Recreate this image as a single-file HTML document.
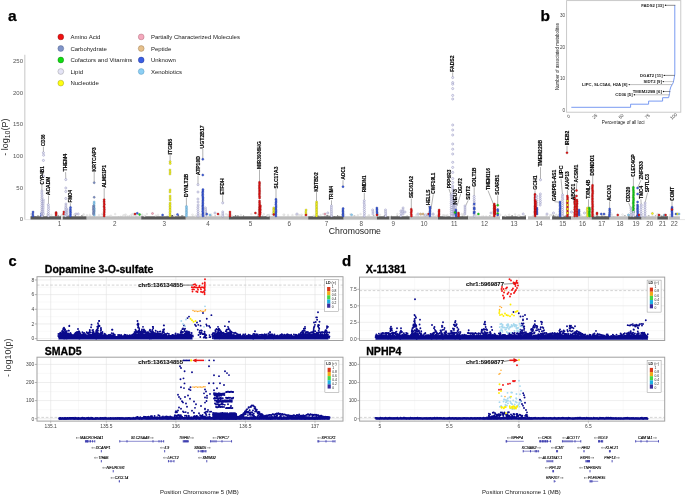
<!DOCTYPE html>
<html><head><meta charset="utf-8"><style>
html,body{margin:0;padding:0;background:#fff;width:685px;height:496px;overflow:hidden}
svg{display:block;will-change:transform;font-family:"Liberation Sans",sans-serif}

.A{fill:#f01010;stroke:#7a0a0a;stroke-width:.35}
.C{fill:#8094c8;stroke:#45557e;stroke-width:.35}
.V{fill:#10dd10;stroke:#0a6a0a;stroke-width:.35}
.L{fill:#f3f3fc;stroke:#7272aa;stroke-width:.4}
.N{fill:#ffff10;stroke:#8a8a10;stroke-width:.35}
.P{fill:#f4a8bc;stroke:#a05a6a;stroke-width:.35}
.E{fill:#e6c08c;stroke:#8a6a40;stroke-width:.35}
.U{fill:#3a5ee4;stroke:#1a2a80;stroke-width:.35}
.X{fill:#8ccff4;stroke:#4a88b0;stroke-width:.35}
.g{fill:#f0f0f0;stroke:#c4c4c4;stroke-width:.25}

</style></head><body>
<svg width="685" height="496" viewBox="0 0 685 496">
<rect width="685" height="496" fill="#fff"/>
<text x="8" y="21.2" font-size="15.5" font-weight="bold"  fill="#000" stroke="#000" stroke-width="0.25">a</text>
<line x1="24.8" y1="54.8" x2="24.8" y2="219.5" stroke="#d0d0d0" stroke-width="1.2"/>
<line x1="24.5" y1="219.6" x2="685" y2="219.6" stroke="#d4d4d4" stroke-width="0.6"/>
<text x="23" y="221.1" font-size="6"  fill="#555" text-anchor="end">0</text>
<text x="23" y="189.55" font-size="6"  fill="#555" text-anchor="end">50</text>
<text x="23" y="158" font-size="6"  fill="#555" text-anchor="end">100</text>
<text x="23" y="126.45" font-size="6"  fill="#555" text-anchor="end">150</text>
<text x="23" y="94.9" font-size="6"  fill="#555" text-anchor="end">200</text>
<text x="23" y="63.35" font-size="6"  fill="#555" text-anchor="end">250</text>
<text transform="translate(8.4,137.2) rotate(-90)" font-size="9"  fill="#1a1a1a" text-anchor="middle">- log<tspan font-size="7" dy="2">10</tspan><tspan dy="-2">(P)</tspan></text>
<rect x="30.5" y="216.3" width="30.7" height="3.2" fill="#585858"/>
<rect x="31" y="215.8" width="1.12" height="0.6" fill="#585858"/>
<rect x="32.52" y="216" width="1.91" height="0.4" fill="#585858"/>
<rect x="34.87" y="216" width="1.41" height="0.4" fill="#585858"/>
<rect x="37.5" y="215.3" width="0.99" height="1.1" fill="#585858"/>
<rect x="42.98" y="215.3" width="0.7" height="1.1" fill="#585858"/>
<rect x="46.13" y="215.8" width="0.67" height="0.6" fill="#585858"/>
<rect x="55.03" y="215.3" width="1.39" height="1.1" fill="#585858"/>
<rect x="57.42" y="215.5" width="1.54" height="0.9" fill="#585858"/>
<rect x="59.8" y="215.8" width="0.89" height="0.6" fill="#585858"/>
<rect x="62.6" y="216.3" width="24.1" height="3.2" fill="#585858"/>
<rect x="65.43" y="216" width="2.17" height="0.4" fill="#585858"/>
<rect x="68.26" y="215.5" width="1.15" height="0.9" fill="#585858"/>
<rect x="74.77" y="215" width="1.1" height="1.4" fill="#585858"/>
<rect x="81.52" y="215" width="1.36" height="1.4" fill="#585858"/>
<rect x="86.7" y="216.3" width="54.5" height="3.2" fill="#bcbcbc"/>
<rect x="89.32" y="215.7" width="2.11" height="0.7" fill="#bcbcbc"/>
<rect x="91.98" y="215.7" width="0.69" height="0.7" fill="#bcbcbc"/>
<rect x="93.52" y="215.5" width="1.23" height="0.9" fill="#bcbcbc"/>
<rect x="102.56" y="215.8" width="1.21" height="0.6" fill="#bcbcbc"/>
<rect x="104.46" y="215.8" width="0.97" height="0.6" fill="#bcbcbc"/>
<rect x="107.56" y="215.7" width="0.89" height="0.7" fill="#bcbcbc"/>
<rect x="109.67" y="215.3" width="1.19" height="1.1" fill="#bcbcbc"/>
<rect x="117.83" y="216" width="1.24" height="0.4" fill="#bcbcbc"/>
<rect x="120.25" y="215.8" width="0.9" height="0.6" fill="#bcbcbc"/>
<rect x="121.7" y="216" width="1.56" height="0.4" fill="#bcbcbc"/>
<rect x="125.11" y="215.5" width="0.93" height="0.9" fill="#bcbcbc"/>
<rect x="126.9" y="215.7" width="1.16" height="0.7" fill="#bcbcbc"/>
<rect x="128.61" y="215.5" width="1.38" height="0.9" fill="#bcbcbc"/>
<rect x="130.98" y="215" width="0.83" height="1.4" fill="#bcbcbc"/>
<rect x="132.69" y="215.8" width="1.93" height="0.6" fill="#bcbcbc"/>
<rect x="135.37" y="215.7" width="2.12" height="0.7" fill="#bcbcbc"/>
<rect x="138.98" y="215.3" width="0.64" height="1.1" fill="#bcbcbc"/>
<rect x="141.2" y="216.3" width="44.6" height="3.2" fill="#585858"/>
<rect x="141.7" y="215.7" width="0.75" height="0.7" fill="#585858"/>
<rect x="144.74" y="215.8" width="1.17" height="0.6" fill="#585858"/>
<rect x="155" y="215.8" width="1.78" height="0.6" fill="#585858"/>
<rect x="166.67" y="215.8" width="0.95" height="0.6" fill="#585858"/>
<rect x="171.4" y="215" width="1.64" height="1.4" fill="#585858"/>
<rect x="178.2" y="215" width="0.89" height="1.4" fill="#585858"/>
<rect x="181.15" y="215.5" width="2.15" height="0.9" fill="#585858"/>
<rect x="185.8" y="216.3" width="43.1" height="3.2" fill="#bcbcbc"/>
<rect x="186.3" y="215.8" width="0.74" height="0.6" fill="#bcbcbc"/>
<rect x="192.07" y="215.8" width="1.48" height="0.6" fill="#bcbcbc"/>
<rect x="195.61" y="216" width="1.76" height="0.4" fill="#bcbcbc"/>
<rect x="201.78" y="215.7" width="1" height="0.7" fill="#bcbcbc"/>
<rect x="204.77" y="215.3" width="1.12" height="1.1" fill="#bcbcbc"/>
<rect x="210.29" y="215.3" width="1.9" height="1.1" fill="#bcbcbc"/>
<rect x="214.51" y="215.3" width="1.4" height="1.1" fill="#bcbcbc"/>
<rect x="221.34" y="215.8" width="0.84" height="0.6" fill="#bcbcbc"/>
<rect x="228.9" y="216.3" width="41" height="3.2" fill="#585858"/>
<rect x="231.72" y="216" width="1.5" height="0.4" fill="#585858"/>
<rect x="234.87" y="215.3" width="1.41" height="1.1" fill="#585858"/>
<rect x="237.19" y="215.5" width="1.41" height="0.9" fill="#585858"/>
<rect x="243.15" y="215.5" width="0.92" height="0.9" fill="#585858"/>
<rect x="256.93" y="215.8" width="1.67" height="0.6" fill="#585858"/>
<rect x="259.84" y="215.7" width="1.42" height="0.7" fill="#585858"/>
<rect x="262.35" y="215.7" width="0.75" height="0.7" fill="#585858"/>
<rect x="264.62" y="216" width="1.3" height="0.4" fill="#585858"/>
<rect x="267.36" y="216" width="1.07" height="0.4" fill="#585858"/>
<rect x="269.9" y="216.3" width="38.3" height="3.2" fill="#bcbcbc"/>
<rect x="270.4" y="216" width="0.97" height="0.4" fill="#bcbcbc"/>
<rect x="272.26" y="215.8" width="2.05" height="0.6" fill="#bcbcbc"/>
<rect x="287.57" y="216" width="1.02" height="0.4" fill="#bcbcbc"/>
<rect x="296.49" y="215.5" width="0.93" height="0.9" fill="#bcbcbc"/>
<rect x="300.99" y="215.5" width="1.36" height="0.9" fill="#bcbcbc"/>
<rect x="304.45" y="215.5" width="1.29" height="0.9" fill="#bcbcbc"/>
<rect x="308.2" y="216.3" width="35.5" height="3.2" fill="#585858"/>
<rect x="317.58" y="215.7" width="1.6" height="0.7" fill="#585858"/>
<rect x="324.5" y="215.7" width="0.9" height="0.7" fill="#585858"/>
<rect x="326.27" y="215.3" width="2.14" height="1.1" fill="#585858"/>
<rect x="328.79" y="215.8" width="2.01" height="0.6" fill="#585858"/>
<rect x="331.1" y="215.5" width="1.21" height="0.9" fill="#585858"/>
<rect x="334.06" y="216" width="1" height="0.4" fill="#585858"/>
<rect x="337.15" y="215.3" width="0.83" height="1.1" fill="#585858"/>
<rect x="338.33" y="215.8" width="1.09" height="0.6" fill="#585858"/>
<rect x="343.7" y="216.3" width="33.2" height="3.2" fill="#bcbcbc"/>
<rect x="353.55" y="215.3" width="1.77" height="1.1" fill="#bcbcbc"/>
<rect x="363.51" y="216" width="0.74" height="0.4" fill="#bcbcbc"/>
<rect x="367.79" y="215" width="1.6" height="1.4" fill="#bcbcbc"/>
<rect x="373.01" y="215" width="1.46" height="1.4" fill="#bcbcbc"/>
<rect x="376.9" y="216.3" width="12.6" height="3.2" fill="#585858"/>
<rect x="383.83" y="215.5" width="1.39" height="0.9" fill="#585858"/>
<rect x="390.5" y="216.3" width="19.3" height="3.2" fill="#585858"/>
<rect x="391" y="215.8" width="0.72" height="0.6" fill="#585858"/>
<rect x="396.71" y="215.5" width="0.95" height="0.9" fill="#585858"/>
<rect x="406.76" y="215.5" width="0.63" height="0.9" fill="#585858"/>
<rect x="409.8" y="216.3" width="28.2" height="3.2" fill="#bcbcbc"/>
<rect x="410.3" y="215.7" width="2.19" height="0.7" fill="#bcbcbc"/>
<rect x="417.51" y="215.7" width="1.44" height="0.7" fill="#bcbcbc"/>
<rect x="423.27" y="215.5" width="2.04" height="0.9" fill="#bcbcbc"/>
<rect x="425.96" y="215" width="2.12" height="1.4" fill="#bcbcbc"/>
<rect x="429.05" y="215.7" width="0.83" height="0.7" fill="#bcbcbc"/>
<rect x="436.79" y="215.7" width="1.06" height="0.7" fill="#bcbcbc"/>
<rect x="438" y="216.3" width="30.2" height="3.2" fill="#585858"/>
<rect x="438.5" y="216" width="1.99" height="0.4" fill="#585858"/>
<rect x="441.73" y="216" width="1.04" height="0.4" fill="#585858"/>
<rect x="445.7" y="215.3" width="1.03" height="1.1" fill="#585858"/>
<rect x="452.66" y="215.3" width="1.61" height="1.1" fill="#585858"/>
<rect x="456.16" y="215" width="0.68" height="1.4" fill="#585858"/>
<rect x="458.49" y="215.7" width="0.82" height="0.7" fill="#585858"/>
<rect x="461.62" y="215.8" width="1.48" height="0.6" fill="#585858"/>
<rect x="466.97" y="215.8" width="1.23" height="0.6" fill="#585858"/>
<rect x="468.2" y="216.3" width="31.8" height="3.2" fill="#bcbcbc"/>
<rect x="473.09" y="215.5" width="1.13" height="0.9" fill="#bcbcbc"/>
<rect x="475.73" y="215.8" width="0.99" height="0.6" fill="#bcbcbc"/>
<rect x="478.95" y="215.5" width="0.63" height="0.9" fill="#bcbcbc"/>
<rect x="481.52" y="215.7" width="0.94" height="0.7" fill="#bcbcbc"/>
<rect x="482.9" y="215.7" width="1.04" height="0.7" fill="#bcbcbc"/>
<rect x="485.35" y="215.8" width="1.61" height="0.6" fill="#bcbcbc"/>
<rect x="489.23" y="215" width="1.22" height="1.4" fill="#bcbcbc"/>
<rect x="492.84" y="216" width="1.96" height="0.4" fill="#bcbcbc"/>
<rect x="502" y="216.3" width="24" height="3.2" fill="#585858"/>
<rect x="505.66" y="216" width="1" height="0.4" fill="#585858"/>
<rect x="511.33" y="215.5" width="1.64" height="0.9" fill="#585858"/>
<rect x="514.98" y="215.8" width="0.6" height="0.6" fill="#585858"/>
<rect x="524.64" y="215.3" width="1.02" height="1.1" fill="#585858"/>
<rect x="528" y="216.3" width="22" height="3.2" fill="#bcbcbc"/>
<rect x="532.41" y="215.5" width="2.01" height="0.9" fill="#bcbcbc"/>
<rect x="545.82" y="215.5" width="1.18" height="0.9" fill="#bcbcbc"/>
<rect x="552.1" y="216.3" width="19" height="3.2" fill="#585858"/>
<rect x="552.6" y="215.3" width="1.78" height="1.1" fill="#585858"/>
<rect x="555.77" y="215.8" width="0.92" height="0.6" fill="#585858"/>
<rect x="557.48" y="215.7" width="1.82" height="0.7" fill="#585858"/>
<rect x="560.97" y="215.8" width="1.58" height="0.6" fill="#585858"/>
<rect x="564.85" y="215.3" width="0.69" height="1.1" fill="#585858"/>
<rect x="566.7" y="215.3" width="0.94" height="1.1" fill="#585858"/>
<rect x="568.06" y="215.5" width="0.7" height="0.9" fill="#585858"/>
<rect x="571.1" y="216.3" width="20.6" height="3.2" fill="#bcbcbc"/>
<rect x="580.11" y="215.7" width="1.2" height="0.7" fill="#bcbcbc"/>
<rect x="581.85" y="216" width="0.73" height="0.4" fill="#bcbcbc"/>
<rect x="584.98" y="215.8" width="0.8" height="0.6" fill="#bcbcbc"/>
<rect x="587.77" y="215.5" width="1.09" height="0.9" fill="#bcbcbc"/>
<rect x="591.7" y="216.3" width="17.8" height="3.2" fill="#585858"/>
<rect x="593.84" y="215.5" width="1.18" height="0.9" fill="#585858"/>
<rect x="596.22" y="215.5" width="1.9" height="0.9" fill="#585858"/>
<rect x="598.5" y="216" width="0.7" height="0.4" fill="#585858"/>
<rect x="601.14" y="215.7" width="2.04" height="0.7" fill="#585858"/>
<rect x="604.22" y="216" width="2.13" height="0.4" fill="#585858"/>
<rect x="608.22" y="215.7" width="1.11" height="0.7" fill="#585858"/>
<rect x="610" y="216.3" width="18.1" height="3.2" fill="#bcbcbc"/>
<rect x="612.5" y="216" width="1.92" height="0.4" fill="#bcbcbc"/>
<rect x="623.87" y="215" width="1.88" height="1.4" fill="#bcbcbc"/>
<rect x="628.1" y="216.3" width="13.5" height="3.2" fill="#585858"/>
<rect x="628.6" y="215.8" width="0.84" height="0.6" fill="#585858"/>
<rect x="630.45" y="215.3" width="1.18" height="1.1" fill="#585858"/>
<rect x="632.36" y="215.8" width="1.8" height="0.6" fill="#585858"/>
<rect x="635.89" y="215.3" width="1.37" height="1.1" fill="#585858"/>
<rect x="639.72" y="216" width="1.88" height="0.4" fill="#585858"/>
<rect x="641.6" y="216.3" width="15.2" height="3.2" fill="#bcbcbc"/>
<rect x="645.29" y="215.8" width="0.88" height="0.6" fill="#bcbcbc"/>
<rect x="647.83" y="215" width="1.68" height="1.4" fill="#bcbcbc"/>
<rect x="651.52" y="215.7" width="1.82" height="0.7" fill="#bcbcbc"/>
<rect x="654.88" y="215" width="1.2" height="1.4" fill="#bcbcbc"/>
<rect x="657.3" y="216.3" width="10.6" height="3.2" fill="#585858"/>
<rect x="657.8" y="215.8" width="0.9" height="0.6" fill="#585858"/>
<rect x="660.94" y="215.7" width="1.53" height="0.7" fill="#585858"/>
<rect x="663.32" y="215.3" width="0.99" height="1.1" fill="#585858"/>
<rect x="666.39" y="216" width="1.51" height="0.4" fill="#585858"/>
<rect x="668.4" y="216.3" width="11.5" height="3.2" fill="#bcbcbc"/>
<rect x="671.2" y="216" width="1.07" height="0.4" fill="#bcbcbc"/>
<text x="59.4" y="225.6" font-size="6.3"  fill="#555" text-anchor="middle">1</text>
<text x="114.7" y="225.6" font-size="6.3"  fill="#555" text-anchor="middle">2</text>
<text x="164.2" y="225.6" font-size="6.3"  fill="#555" text-anchor="middle">3</text>
<text x="208" y="225.6" font-size="6.3"  fill="#555" text-anchor="middle">4</text>
<text x="250.4" y="225.6" font-size="6.3"  fill="#555" text-anchor="middle">5</text>
<text x="289.2" y="225.6" font-size="6.3"  fill="#555" text-anchor="middle">6</text>
<text x="326.4" y="225.6" font-size="6.3"  fill="#555" text-anchor="middle">7</text>
<text x="361.2" y="225.6" font-size="6.3"  fill="#555" text-anchor="middle">8</text>
<text x="393.3" y="225.6" font-size="6.3"  fill="#555" text-anchor="middle">9</text>
<text x="423.9" y="225.6" font-size="6.3"  fill="#555" text-anchor="middle">10</text>
<text x="454.3" y="225.6" font-size="6.3"  fill="#555" text-anchor="middle">11</text>
<text x="484.5" y="225.6" font-size="6.3"  fill="#555" text-anchor="middle">12</text>
<text x="514" y="225.6" font-size="6.3"  fill="#555" text-anchor="middle">13</text>
<text x="539.1" y="225.6" font-size="6.3"  fill="#555" text-anchor="middle">14</text>
<text x="562.8" y="225.6" font-size="6.3"  fill="#555" text-anchor="middle">15</text>
<text x="582.5" y="225.6" font-size="6.3"  fill="#555" text-anchor="middle">16</text>
<text x="601.8" y="225.6" font-size="6.3"  fill="#555" text-anchor="middle">17</text>
<text x="620" y="225.6" font-size="6.3"  fill="#555" text-anchor="middle">18</text>
<text x="636.1" y="225.6" font-size="6.3"  fill="#555" text-anchor="middle">19</text>
<text x="649.7" y="225.6" font-size="6.3"  fill="#555" text-anchor="middle">20</text>
<text x="662.4" y="225.6" font-size="6.3"  fill="#555" text-anchor="middle">21</text>
<text x="674.3" y="225.6" font-size="6.3"  fill="#555" text-anchor="middle">22</text>
<text x="354.9" y="234.3" font-size="8.7"  fill="#222" text-anchor="middle">Chromosome</text>
<circle cx="60.8" cy="36.9" r="2.9" fill="#f01010" stroke="#7a0a0a" stroke-width="0.4"/>
<text x="70.4" y="39" font-size="6"  fill="#1a1a1a">Amino Acid</text>
<circle cx="60.8" cy="48.5" r="2.9" fill="#8094c8" stroke="#45557e" stroke-width="0.4"/>
<text x="70.4" y="50.6" font-size="6"  fill="#1a1a1a">Carbohydrate</text>
<circle cx="60.8" cy="60" r="2.9" fill="#10dd10" stroke="#0a6a0a" stroke-width="0.4"/>
<text x="70.4" y="62.1" font-size="6"  fill="#1a1a1a">Cofactors and Vitamins</text>
<circle cx="60.8" cy="71.5" r="2.9" fill="#e4e4f6" stroke="#888" stroke-width="0.4"/>
<text x="70.4" y="73.6" font-size="6"  fill="#1a1a1a">Lipid</text>
<circle cx="60.8" cy="83.1" r="2.9" fill="#ffff10" stroke="#8a8a10" stroke-width="0.4"/>
<text x="70.4" y="85.2" font-size="6"  fill="#1a1a1a">Nucleotide</text>
<circle cx="141.2" cy="36.9" r="2.9" fill="#f4a8bc" stroke="#a05a6a" stroke-width="0.4"/>
<text x="150.9" y="39" font-size="6"  fill="#1a1a1a">Partially Characterized Molecules</text>
<circle cx="141.2" cy="48.5" r="2.9" fill="#e6c08c" stroke="#8a6a40" stroke-width="0.4"/>
<text x="150.9" y="50.6" font-size="6"  fill="#1a1a1a">Peptide</text>
<circle cx="141.2" cy="60" r="2.9" fill="#3a5ee4" stroke="#1a2a80" stroke-width="0.4"/>
<text x="150.9" y="62.1" font-size="6"  fill="#1a1a1a">Unknown</text>
<circle cx="141.2" cy="71.5" r="2.9" fill="#8ccff4" stroke="#4a88b0" stroke-width="0.4"/>
<text x="150.9" y="73.6" font-size="6"  fill="#1a1a1a">Xenobiotics</text>
<circle class="g" cx="461.76" cy="214.01" r="0.9"/>
<circle class="g" cx="444.07" cy="215.28" r="0.9"/>
<circle class="g" cx="257.61" cy="214.07" r="0.9"/>
<circle class="g" cx="251.33" cy="214.08" r="0.9"/>
<circle class="g" cx="678.92" cy="214.07" r="0.9"/>
<circle class="g" cx="505.48" cy="215.65" r="0.9"/>
<circle class="g" cx="558.95" cy="215.47" r="0.9"/>
<circle class="g" cx="296.03" cy="214.67" r="0.9"/>
<circle class="g" cx="433.42" cy="214.14" r="0.9"/>
<circle class="g" cx="51.39" cy="214.89" r="0.9"/>
<circle class="g" cx="344.31" cy="214.73" r="0.9"/>
<circle class="g" cx="546.71" cy="215.2" r="0.9"/>
<circle class="g" cx="131.15" cy="214.96" r="0.9"/>
<circle class="g" cx="454.18" cy="214.72" r="0.9"/>
<circle class="g" cx="206.72" cy="215.78" r="0.9"/>
<circle class="g" cx="463.74" cy="214.75" r="0.9"/>
<circle class="g" cx="64.28" cy="215.34" r="0.9"/>
<circle class="g" cx="603.63" cy="214.75" r="0.9"/>
<circle class="g" cx="42.8" cy="215.38" r="0.9"/>
<circle class="g" cx="550.84" cy="215.16" r="0.9"/>
<circle class="g" cx="284.19" cy="214.73" r="0.9"/>
<circle class="g" cx="641.41" cy="214.78" r="0.9"/>
<circle class="g" cx="132.46" cy="214.2" r="0.9"/>
<circle class="g" cx="89.64" cy="215.04" r="0.9"/>
<circle class="g" cx="267.34" cy="215.39" r="0.9"/>
<circle class="g" cx="115.22" cy="214.09" r="0.9"/>
<circle class="g" cx="123.34" cy="215.45" r="0.9"/>
<circle class="g" cx="288.07" cy="215.03" r="0.9"/>
<circle class="g" cx="631.84" cy="215.33" r="0.9"/>
<circle class="g" cx="142.25" cy="214.63" r="0.9"/>
<circle class="g" cx="135.86" cy="214.31" r="0.9"/>
<circle class="g" cx="74.48" cy="214.69" r="0.9"/>
<circle class="g" cx="519.3" cy="215.43" r="0.9"/>
<circle class="g" cx="552.45" cy="214.54" r="0.9"/>
<circle class="g" cx="573.57" cy="214.08" r="0.9"/>
<circle class="g" cx="622.49" cy="214.57" r="0.9"/>
<circle class="g" cx="424.75" cy="215.15" r="0.9"/>
<circle class="g" cx="86.92" cy="215.28" r="0.9"/>
<circle class="g" cx="476.96" cy="215.6" r="0.9"/>
<circle class="g" cx="445.93" cy="215.54" r="0.9"/>
<circle class="g" cx="433.44" cy="215.11" r="0.9"/>
<circle class="g" cx="158.08" cy="214.85" r="0.9"/>
<circle class="g" cx="397.4" cy="214.08" r="0.9"/>
<circle class="g" cx="639.18" cy="214.28" r="0.9"/>
<circle class="g" cx="263.77" cy="214.27" r="0.9"/>
<circle class="g" cx="660.01" cy="215.47" r="0.9"/>
<circle class="g" cx="155.8" cy="215.59" r="0.9"/>
<circle class="g" cx="576.93" cy="215.21" r="0.9"/>
<circle class="g" cx="463.8" cy="214.58" r="0.9"/>
<circle class="g" cx="283.61" cy="214.82" r="0.9"/>
<circle class="g" cx="581.16" cy="215.4" r="0.9"/>
<circle class="g" cx="451.57" cy="214.55" r="0.9"/>
<circle class="g" cx="192.52" cy="214.7" r="0.9"/>
<circle class="g" cx="269.11" cy="214.91" r="0.9"/>
<circle class="g" cx="146.84" cy="214.01" r="0.9"/>
<circle class="g" cx="670.02" cy="214.84" r="0.9"/>
<circle class="g" cx="320.54" cy="215.11" r="0.9"/>
<circle class="g" cx="561.69" cy="215.51" r="0.9"/>
<circle class="g" cx="556.22" cy="214.72" r="0.9"/>
<circle class="g" cx="74.49" cy="214.65" r="0.9"/>
<circle class="g" cx="267.74" cy="215.44" r="0.9"/>
<circle class="g" cx="357.81" cy="215.18" r="0.9"/>
<circle class="g" cx="57.34" cy="214.23" r="0.9"/>
<circle class="g" cx="628.54" cy="214.56" r="0.9"/>
<circle class="g" cx="497.81" cy="214.14" r="0.9"/>
<circle class="g" cx="518.33" cy="215.61" r="0.9"/>
<circle class="g" cx="453.98" cy="215.41" r="0.9"/>
<circle class="g" cx="47.76" cy="214.12" r="0.9"/>
<circle class="g" cx="428.95" cy="215.25" r="0.9"/>
<circle class="g" cx="102.01" cy="214.24" r="0.9"/>
<circle class="g" cx="604.93" cy="214.52" r="0.9"/>
<circle class="g" cx="556.52" cy="215.43" r="0.9"/>
<circle class="g" cx="475.61" cy="215.3" r="0.9"/>
<circle class="g" cx="174.29" cy="215.5" r="0.9"/>
<circle class="g" cx="426.57" cy="214.45" r="0.9"/>
<circle class="g" cx="240.85" cy="215.1" r="0.9"/>
<circle class="g" cx="617.48" cy="214.82" r="0.9"/>
<circle class="g" cx="195.7" cy="215.74" r="0.9"/>
<circle class="g" cx="342.11" cy="215.07" r="0.9"/>
<circle class="g" cx="430.08" cy="214.43" r="0.9"/>
<circle class="g" cx="272.23" cy="214.36" r="0.9"/>
<circle class="g" cx="292.45" cy="215.15" r="0.9"/>
<circle class="g" cx="211.27" cy="214.59" r="0.9"/>
<circle class="g" cx="275.19" cy="215.43" r="0.9"/>
<circle class="g" cx="202.29" cy="215.38" r="0.9"/>
<circle class="g" cx="62.47" cy="215.54" r="0.9"/>
<circle class="g" cx="657.07" cy="214.82" r="0.9"/>
<circle class="g" cx="368.9" cy="215.24" r="0.9"/>
<circle class="g" cx="611.67" cy="214.45" r="0.9"/>
<circle class="g" cx="378.13" cy="215.54" r="0.9"/>
<circle class="g" cx="509.17" cy="214.67" r="0.9"/>
<circle class="g" cx="274.48" cy="214.66" r="0.9"/>
<circle class="g" cx="125.73" cy="214.6" r="0.9"/>
<circle class="g" cx="83.74" cy="214.41" r="0.9"/>
<circle class="g" cx="429.76" cy="215.72" r="0.9"/>
<circle class="g" cx="223.06" cy="214.93" r="0.9"/>
<circle class="g" cx="231.93" cy="215.74" r="0.9"/>
<circle class="g" cx="594.95" cy="215.67" r="0.9"/>
<circle class="g" cx="611.43" cy="215.32" r="0.9"/>
<circle class="g" cx="515.13" cy="214.4" r="0.9"/>
<circle class="g" cx="219.55" cy="215.13" r="0.9"/>
<circle class="g" cx="301.66" cy="214.66" r="0.9"/>
<circle class="g" cx="61.96" cy="214.88" r="0.9"/>
<circle class="g" cx="427.91" cy="214.08" r="0.9"/>
<circle class="g" cx="66.25" cy="215.02" r="0.9"/>
<circle class="g" cx="227.82" cy="214.94" r="0.9"/>
<circle class="g" cx="377.11" cy="214.74" r="0.9"/>
<circle class="g" cx="226.15" cy="214.24" r="0.9"/>
<circle class="g" cx="268.32" cy="215.49" r="0.9"/>
<circle class="g" cx="133.79" cy="214.03" r="0.9"/>
<circle class="g" cx="550.37" cy="215.27" r="0.9"/>
<circle class="g" cx="323.15" cy="214.11" r="0.9"/>
<circle class="g" cx="124.76" cy="215.2" r="0.9"/>
<circle class="g" cx="205.8" cy="215.46" r="0.9"/>
<circle class="g" cx="657.7" cy="214.1" r="0.9"/>
<circle class="g" cx="562.93" cy="215.61" r="0.9"/>
<circle class="g" cx="416.38" cy="215.04" r="0.9"/>
<circle class="g" cx="421.02" cy="214.93" r="0.9"/>
<circle class="g" cx="350.37" cy="214.3" r="0.9"/>
<circle class="g" cx="31.26" cy="214.11" r="0.9"/>
<circle class="g" cx="47.35" cy="214.33" r="0.9"/>
<circle class="g" cx="134.17" cy="215.64" r="0.9"/>
<circle class="g" cx="98.99" cy="215.1" r="0.9"/>
<circle class="g" cx="456.61" cy="214.36" r="0.9"/>
<circle class="g" cx="298.74" cy="214.93" r="0.9"/>
<circle class="g" cx="447.47" cy="215.17" r="0.9"/>
<circle class="g" cx="300.08" cy="215.1" r="0.9"/>
<circle class="g" cx="360.56" cy="214.11" r="0.9"/>
<circle class="g" cx="436.62" cy="215.79" r="0.9"/>
<circle class="g" cx="500.35" cy="214.86" r="0.9"/>
<circle class="g" cx="379.89" cy="214.68" r="0.9"/>
<circle class="g" cx="313.95" cy="215.64" r="0.9"/>
<circle class="g" cx="83.15" cy="215.18" r="0.9"/>
<circle class="g" cx="144.65" cy="215.79" r="0.9"/>
<circle class="g" cx="200.4" cy="215.16" r="0.9"/>
<circle class="g" cx="110.88" cy="215.6" r="0.9"/>
<circle class="g" cx="630.52" cy="215.7" r="0.9"/>
<circle class="g" cx="201.62" cy="214.09" r="0.9"/>
<circle class="g" cx="443.04" cy="215.22" r="0.9"/>
<circle class="g" cx="475.36" cy="215.65" r="0.9"/>
<line x1="43.4" y1="146.6" x2="43.4" y2="152.8" stroke="#666" stroke-width="0.5"/>
<line x1="41.9" y1="185" x2="41.9" y2="191" stroke="#666" stroke-width="0.5"/>
<line x1="48.6" y1="195.6" x2="48.4" y2="204.8" stroke="#666" stroke-width="0.5"/>
<line x1="65.6" y1="172.1" x2="65.8" y2="179.6" stroke="#666" stroke-width="0.5"/>
<line x1="70.4" y1="203.2" x2="70.4" y2="207.5" stroke="#666" stroke-width="0.5"/>
<line x1="94.2" y1="172.1" x2="94.2" y2="182.7" stroke="#666" stroke-width="0.5"/>
<line x1="104.2" y1="188.2" x2="104.2" y2="199.7" stroke="#666" stroke-width="0.5"/>
<line x1="170.1" y1="155.1" x2="170.1" y2="161.7" stroke="#666" stroke-width="0.5"/>
<line x1="186.4" y1="197.5" x2="186.4" y2="206.5" stroke="#666" stroke-width="0.5"/>
<line x1="198" y1="175.6" x2="198" y2="184.7" stroke="#666" stroke-width="0.5"/>
<line x1="202.8" y1="149" x2="202.8" y2="159.3" stroke="#666" stroke-width="0.5"/>
<line x1="222.7" y1="195.2" x2="222.7" y2="202.9" stroke="#666" stroke-width="0.5"/>
<line x1="259.5" y1="169.6" x2="259.5" y2="182.3" stroke="#666" stroke-width="0.5"/>
<line x1="276" y1="189" x2="276" y2="199.3" stroke="#666" stroke-width="0.5"/>
<line x1="316.5" y1="192.2" x2="316.5" y2="202" stroke="#666" stroke-width="0.5"/>
<line x1="331.5" y1="200.3" x2="331.5" y2="206" stroke="#666" stroke-width="0.5"/>
<line x1="343" y1="180.2" x2="343" y2="186.7" stroke="#666" stroke-width="0.5"/>
<line x1="364.3" y1="192.9" x2="364.3" y2="200.8" stroke="#666" stroke-width="0.5"/>
<line x1="411.3" y1="198.6" x2="411.3" y2="209.2" stroke="#666" stroke-width="0.5"/>
<line x1="428" y1="205.6" x2="430" y2="209" stroke="#666" stroke-width="0.5"/>
<line x1="433.3" y1="194.3" x2="431" y2="209" stroke="#666" stroke-width="0.5"/>
<line x1="452.7" y1="72.4" x2="452.7" y2="77.2" stroke="#666" stroke-width="0.5"/>
<line x1="448.9" y1="188.8" x2="452" y2="198" stroke="#666" stroke-width="0.5"/>
<line x1="455.1" y1="205" x2="455.5" y2="207" stroke="#666" stroke-width="0.5"/>
<line x1="460.7" y1="193.9" x2="457" y2="206" stroke="#666" stroke-width="0.5"/>
<line x1="468.2" y1="200.4" x2="465" y2="207" stroke="#666" stroke-width="0.5"/>
<line x1="474.2" y1="187.4" x2="474.2" y2="196.5" stroke="#666" stroke-width="0.5"/>
<line x1="488" y1="190.6" x2="493.8" y2="205" stroke="#666" stroke-width="0.5"/>
<line x1="497.7" y1="195.4" x2="497.7" y2="205.3" stroke="#666" stroke-width="0.5"/>
<line x1="535" y1="190.4" x2="535" y2="194.3" stroke="#666" stroke-width="0.5"/>
<line x1="540.5" y1="167.1" x2="540.5" y2="179.8" stroke="#666" stroke-width="0.5"/>
<line x1="567" y1="145.9" x2="567" y2="152.8" stroke="#666" stroke-width="0.5"/>
<line x1="554.4" y1="201.7" x2="560.1" y2="202.3" stroke="#666" stroke-width="0.5"/>
<line x1="561" y1="178.7" x2="562.5" y2="195" stroke="#666" stroke-width="0.5"/>
<line x1="567.4" y1="190.2" x2="567.5" y2="195.7" stroke="#666" stroke-width="0.5"/>
<line x1="573.4" y1="200.5" x2="574.5" y2="205" stroke="#666" stroke-width="0.5"/>
<line x1="576.7" y1="183" x2="576.5" y2="190.2" stroke="#666" stroke-width="0.5"/>
<line x1="588.5" y1="199.3" x2="588.5" y2="207.8" stroke="#666" stroke-width="0.5"/>
<line x1="592.7" y1="176" x2="592.7" y2="185.3" stroke="#666" stroke-width="0.5"/>
<line x1="609.6" y1="201.4" x2="609.6" y2="209.2" stroke="#666" stroke-width="0.5"/>
<line x1="628.7" y1="202.8" x2="631" y2="209" stroke="#666" stroke-width="0.5"/>
<line x1="633.4" y1="177.4" x2="633.4" y2="187.4" stroke="#666" stroke-width="0.5"/>
<line x1="640.9" y1="180.2" x2="637.6" y2="188" stroke="#666" stroke-width="0.5"/>
<line x1="640.9" y1="199.3" x2="641.2" y2="205" stroke="#666" stroke-width="0.5"/>
<line x1="647.5" y1="192.9" x2="645" y2="203" stroke="#666" stroke-width="0.5"/>
<line x1="672" y1="201.4" x2="672" y2="207.2" stroke="#666" stroke-width="0.5"/>
<circle class="U" cx="33.04" cy="212" r="1.05"/>
<circle class="U" cx="32.84" cy="214" r="1.05"/>
<circle class="U" cx="33.03" cy="216" r="1.05"/>
<circle class="U" cx="41.62" cy="213.5" r="1.05"/>
<circle class="U" cx="41.38" cy="215.5" r="1.05"/>
<circle class="L" cx="43.4" cy="152.8" r="1.05"/>
<circle class="L" cx="43.6" cy="155.2" r="1.05"/>
<circle class="L" cx="43.4" cy="160.4" r="1.05"/>
<circle class="L" cx="41.9" cy="191" r="1.05"/>
<circle class="L" cx="41.8" cy="193.08" r="1.05"/>
<circle class="L" cx="42.02" cy="195.17" r="1.05"/>
<circle class="L" cx="42" cy="197.25" r="1.05"/>
<circle class="L" cx="41.81" cy="199.33" r="1.05"/>
<circle class="L" cx="41.8" cy="201.42" r="1.05"/>
<circle class="L" cx="42.02" cy="203.5" r="1.05"/>
<circle class="L" cx="41.81" cy="205.58" r="1.05"/>
<circle class="L" cx="41.87" cy="207.67" r="1.05"/>
<circle class="L" cx="41.93" cy="209.75" r="1.05"/>
<circle class="L" cx="41.86" cy="211.83" r="1.05"/>
<circle class="L" cx="42.01" cy="213.92" r="1.05"/>
<circle class="L" cx="42.03" cy="216" r="1.05"/>
<circle class="L" cx="43.4" cy="176" r="1.05"/>
<circle class="L" cx="42.4" cy="170.5" r="1.05"/>
<circle class="L" cx="43.34" cy="200" r="1.05"/>
<circle class="L" cx="43.3" cy="202" r="1.05"/>
<circle class="L" cx="43.21" cy="204" r="1.05"/>
<circle class="L" cx="43.19" cy="206" r="1.05"/>
<circle class="L" cx="43.21" cy="208" r="1.05"/>
<circle class="L" cx="43.05" cy="210" r="1.05"/>
<circle class="L" cx="43.06" cy="212" r="1.05"/>
<circle class="L" cx="43.34" cy="214" r="1.05"/>
<circle class="L" cx="48.32" cy="204.8" r="1.05"/>
<circle class="L" cx="48.52" cy="207.04" r="1.05"/>
<circle class="L" cx="48.49" cy="209.28" r="1.05"/>
<circle class="L" cx="48.37" cy="211.52" r="1.05"/>
<circle class="L" cx="48.43" cy="213.76" r="1.05"/>
<circle class="L" cx="48.42" cy="216" r="1.05"/>
<circle class="A" cx="56.1" cy="212.5" r="1.05"/>
<circle class="A" cx="56.06" cy="213.75" r="1.05"/>
<circle class="A" cx="56.08" cy="215" r="1.05"/>
<circle class="A" cx="63.84" cy="212" r="1.05"/>
<circle class="A" cx="63.7" cy="214" r="1.05"/>
<circle class="L" cx="65.8" cy="179.6" r="1.05"/>
<circle class="L" cx="65.8" cy="188" r="1.05"/>
<circle class="L" cx="65.8" cy="191.5" r="1.05"/>
<circle class="L" cx="65.8" cy="198.5" r="1.05"/>
<circle class="L" cx="65.94" cy="204" r="1.05"/>
<circle class="L" cx="65.86" cy="206" r="1.05"/>
<circle class="L" cx="65.66" cy="208" r="1.05"/>
<circle class="L" cx="65.69" cy="210" r="1.05"/>
<circle class="L" cx="65.84" cy="212" r="1.05"/>
<circle class="L" cx="65.66" cy="214" r="1.05"/>
<circle class="L" cx="65.67" cy="216" r="1.05"/>
<circle class="L" cx="66.86" cy="209" r="1.05"/>
<circle class="L" cx="67.11" cy="211" r="1.05"/>
<circle class="L" cx="67.08" cy="213" r="1.05"/>
<circle class="L" cx="66.91" cy="215" r="1.05"/>
<circle class="U" cx="70.54" cy="207.5" r="1.05"/>
<circle class="U" cx="70.41" cy="209.2" r="1.05"/>
<circle class="U" cx="70.45" cy="210.9" r="1.05"/>
<circle class="U" cx="70.51" cy="212.6" r="1.05"/>
<circle class="U" cx="70.48" cy="214.3" r="1.05"/>
<circle class="U" cx="70.46" cy="216" r="1.05"/>
<circle class="L" cx="76" cy="214" r="1.05"/>
<circle class="L" cx="78.2" cy="214" r="1.05"/>
<circle class="C" cx="94.2" cy="182.7" r="1.05"/>
<circle class="C" cx="94.2" cy="197.3" r="1.05"/>
<circle class="X" cx="94.17" cy="202" r="1.05"/>
<circle class="X" cx="94.12" cy="203.62" r="1.05"/>
<circle class="X" cx="94.11" cy="205.25" r="1.05"/>
<circle class="X" cx="94.06" cy="206.88" r="1.05"/>
<circle class="X" cx="94.33" cy="208.5" r="1.05"/>
<circle class="X" cx="94.32" cy="210.12" r="1.05"/>
<circle class="X" cx="94.28" cy="211.75" r="1.05"/>
<circle class="X" cx="94.08" cy="213.38" r="1.05"/>
<circle class="X" cx="94.28" cy="215" r="1.05"/>
<circle class="C" cx="93.54" cy="206" r="1.05"/>
<circle class="C" cx="93.49" cy="207.6" r="1.05"/>
<circle class="C" cx="93.39" cy="209.2" r="1.05"/>
<circle class="C" cx="93.59" cy="210.8" r="1.05"/>
<circle class="C" cx="93.54" cy="212.4" r="1.05"/>
<circle class="C" cx="93.44" cy="214" r="1.05"/>
<circle class="A" cx="104.15" cy="199.7" r="1.05"/>
<circle class="A" cx="104.13" cy="201.33" r="1.05"/>
<circle class="A" cx="104.16" cy="202.96" r="1.05"/>
<circle class="A" cx="104.33" cy="204.59" r="1.05"/>
<circle class="A" cx="104.06" cy="206.22" r="1.05"/>
<circle class="A" cx="104.28" cy="207.85" r="1.05"/>
<circle class="A" cx="104.32" cy="209.48" r="1.05"/>
<circle class="A" cx="104.28" cy="211.11" r="1.05"/>
<circle class="A" cx="104.23" cy="212.74" r="1.05"/>
<circle class="A" cx="104.19" cy="214.37" r="1.05"/>
<circle class="A" cx="104.14" cy="216" r="1.05"/>
<circle class="A" cx="135" cy="214" r="1.05"/>
<circle class="U" cx="137.3" cy="213.3" r="1.05"/>
<circle class="V" cx="139.6" cy="214.5" r="1.05"/>
<circle class="P" cx="152.5" cy="213.5" r="1.05"/>
<circle class="U" cx="162.6" cy="215" r="1.05"/>
<circle class="N" cx="170.17" cy="161.7" r="1.05"/>
<circle class="N" cx="170.19" cy="163.5" r="1.05"/>
<circle class="N" cx="169.96" cy="170" r="1.05"/>
<circle class="N" cx="170.11" cy="172" r="1.05"/>
<circle class="N" cx="169.98" cy="174" r="1.05"/>
<circle class="N" cx="170.09" cy="190" r="1.05"/>
<circle class="N" cx="169.96" cy="192" r="1.05"/>
<circle class="N" cx="170.12" cy="196" r="1.05"/>
<circle class="N" cx="170.16" cy="198" r="1.05"/>
<circle class="N" cx="170.2" cy="200" r="1.05"/>
<circle class="N" cx="170.12" cy="203" r="1.05"/>
<circle class="N" cx="170.04" cy="204.62" r="1.05"/>
<circle class="N" cx="170.08" cy="206.25" r="1.05"/>
<circle class="N" cx="170.11" cy="207.88" r="1.05"/>
<circle class="N" cx="170.04" cy="209.5" r="1.05"/>
<circle class="N" cx="170.18" cy="211.12" r="1.05"/>
<circle class="N" cx="169.97" cy="212.75" r="1.05"/>
<circle class="N" cx="170.05" cy="214.38" r="1.05"/>
<circle class="N" cx="169.98" cy="216" r="1.05"/>
<circle class="U" cx="177.5" cy="214.5" r="1.05"/>
<circle class="X" cx="186.46" cy="206.5" r="1.05"/>
<circle class="X" cx="186.5" cy="208.08" r="1.05"/>
<circle class="X" cx="186.54" cy="209.67" r="1.05"/>
<circle class="X" cx="186.43" cy="211.25" r="1.05"/>
<circle class="X" cx="186.54" cy="212.83" r="1.05"/>
<circle class="X" cx="186.4" cy="214.42" r="1.05"/>
<circle class="X" cx="186.42" cy="216" r="1.05"/>
<circle class="L" cx="198" cy="184.7" r="1.05"/>
<circle class="L" cx="198" cy="192" r="1.05"/>
<circle class="L" cx="197.9" cy="199" r="1.05"/>
<circle class="L" cx="198.09" cy="202" r="1.05"/>
<circle class="L" cx="198.13" cy="205" r="1.05"/>
<circle class="L" cx="197.92" cy="207.2" r="1.05"/>
<circle class="L" cx="197.9" cy="209.4" r="1.05"/>
<circle class="L" cx="198.13" cy="211.6" r="1.05"/>
<circle class="L" cx="198.08" cy="213.8" r="1.05"/>
<circle class="L" cx="198" cy="216" r="1.05"/>
<circle class="U" cx="202.8" cy="159.3" r="1.05"/>
<circle class="U" cx="202.8" cy="175" r="1.05"/>
<circle class="U" cx="202.95" cy="189.6" r="1.05"/>
<circle class="U" cx="202.82" cy="191.15" r="1.05"/>
<circle class="U" cx="202.68" cy="192.71" r="1.05"/>
<circle class="U" cx="202.75" cy="194.26" r="1.05"/>
<circle class="U" cx="202.68" cy="195.81" r="1.05"/>
<circle class="U" cx="202.93" cy="197.36" r="1.05"/>
<circle class="U" cx="202.92" cy="198.92" r="1.05"/>
<circle class="U" cx="202.87" cy="200.47" r="1.05"/>
<circle class="U" cx="202.78" cy="202.02" r="1.05"/>
<circle class="U" cx="202.84" cy="203.58" r="1.05"/>
<circle class="U" cx="202.76" cy="205.13" r="1.05"/>
<circle class="U" cx="202.74" cy="206.68" r="1.05"/>
<circle class="U" cx="202.78" cy="208.24" r="1.05"/>
<circle class="U" cx="202.81" cy="209.79" r="1.05"/>
<circle class="U" cx="202.7" cy="211.34" r="1.05"/>
<circle class="U" cx="202.94" cy="212.89" r="1.05"/>
<circle class="U" cx="202.84" cy="214.45" r="1.05"/>
<circle class="U" cx="202.93" cy="216" r="1.05"/>
<circle class="L" cx="205.49" cy="208" r="1.05"/>
<circle class="L" cx="205.63" cy="210" r="1.05"/>
<circle class="L" cx="205.66" cy="212" r="1.05"/>
<circle class="L" cx="205.63" cy="214" r="1.05"/>
<circle class="L" cx="205.46" cy="216" r="1.05"/>
<circle class="U" cx="206.8" cy="214" r="1.05"/>
<circle class="X" cx="210" cy="215" r="1.05"/>
<circle class="L" cx="215" cy="213" r="1.05"/>
<circle class="A" cx="218" cy="214" r="1.05"/>
<circle class="L" cx="222.7" cy="202.9" r="1.05"/>
<circle class="L" cx="222.72" cy="212" r="1.05"/>
<circle class="L" cx="222.71" cy="214" r="1.05"/>
<circle class="L" cx="222.81" cy="216" r="1.05"/>
<circle class="A" cx="229.99" cy="212" r="1.05"/>
<circle class="A" cx="230.02" cy="214" r="1.05"/>
<circle class="A" cx="229.95" cy="216" r="1.05"/>
<circle class="A" cx="255.4" cy="213" r="1.05"/>
<circle class="A" cx="259.49" cy="182.3" r="1.05"/>
<circle class="A" cx="259.56" cy="183.87" r="1.05"/>
<circle class="A" cx="259.43" cy="185.44" r="1.05"/>
<circle class="A" cx="259.42" cy="187.01" r="1.05"/>
<circle class="A" cx="259.45" cy="188.58" r="1.05"/>
<circle class="A" cx="259.54" cy="190.15" r="1.05"/>
<circle class="A" cx="259.56" cy="191.72" r="1.05"/>
<circle class="A" cx="259.5" cy="193.29" r="1.05"/>
<circle class="A" cx="259.43" cy="194.86" r="1.05"/>
<circle class="A" cx="259.58" cy="196.43" r="1.05"/>
<circle class="A" cx="259.6" cy="198" r="1.05"/>
<circle class="A" cx="259.54" cy="201" r="1.05"/>
<circle class="A" cx="259.57" cy="202.67" r="1.05"/>
<circle class="A" cx="259.64" cy="204.33" r="1.05"/>
<circle class="A" cx="259.57" cy="206" r="1.05"/>
<circle class="A" cx="259.53" cy="207.67" r="1.05"/>
<circle class="A" cx="259.45" cy="209.33" r="1.05"/>
<circle class="A" cx="259.42" cy="211" r="1.05"/>
<circle class="A" cx="259.64" cy="212.67" r="1.05"/>
<circle class="A" cx="259.43" cy="214.33" r="1.05"/>
<circle class="A" cx="259.64" cy="216" r="1.05"/>
<circle class="A" cx="260.45" cy="206" r="1.05"/>
<circle class="A" cx="260.2" cy="207.6" r="1.05"/>
<circle class="A" cx="260.35" cy="209.2" r="1.05"/>
<circle class="A" cx="260.21" cy="210.8" r="1.05"/>
<circle class="A" cx="260.2" cy="212.4" r="1.05"/>
<circle class="A" cx="260.19" cy="214" r="1.05"/>
<circle class="N" cx="273.74" cy="208" r="1.05"/>
<circle class="N" cx="273.74" cy="209.5" r="1.05"/>
<circle class="N" cx="273.73" cy="211" r="1.05"/>
<circle class="N" cx="273.68" cy="212.5" r="1.05"/>
<circle class="N" cx="273.92" cy="214" r="1.05"/>
<circle class="A" cx="273.8" cy="214.5" r="1.05"/>
<circle class="U" cx="275.93" cy="199.3" r="1.05"/>
<circle class="U" cx="276.12" cy="200.97" r="1.05"/>
<circle class="U" cx="275.99" cy="202.64" r="1.05"/>
<circle class="U" cx="275.85" cy="204.31" r="1.05"/>
<circle class="U" cx="276.11" cy="205.98" r="1.05"/>
<circle class="U" cx="275.98" cy="207.65" r="1.05"/>
<circle class="U" cx="275.92" cy="209.32" r="1.05"/>
<circle class="U" cx="276.14" cy="210.99" r="1.05"/>
<circle class="U" cx="275.94" cy="212.66" r="1.05"/>
<circle class="U" cx="275.86" cy="214.33" r="1.05"/>
<circle class="U" cx="275.93" cy="216" r="1.05"/>
<circle class="L" cx="297" cy="214" r="1.05"/>
<circle class="N" cx="306.07" cy="210" r="1.05"/>
<circle class="N" cx="305.85" cy="212" r="1.05"/>
<circle class="N" cx="305.92" cy="214" r="1.05"/>
<circle class="A" cx="306" cy="215" r="1.05"/>
<circle class="N" cx="316.61" cy="202" r="1.05"/>
<circle class="N" cx="316.56" cy="203.56" r="1.05"/>
<circle class="N" cx="316.53" cy="205.11" r="1.05"/>
<circle class="N" cx="316.54" cy="206.67" r="1.05"/>
<circle class="N" cx="316.6" cy="208.22" r="1.05"/>
<circle class="N" cx="316.55" cy="209.78" r="1.05"/>
<circle class="N" cx="316.55" cy="211.33" r="1.05"/>
<circle class="N" cx="316.61" cy="212.89" r="1.05"/>
<circle class="N" cx="316.54" cy="214.44" r="1.05"/>
<circle class="N" cx="316.53" cy="216" r="1.05"/>
<circle class="P" cx="325" cy="214" r="1.05"/>
<circle class="L" cx="327.8" cy="213" r="1.05"/>
<circle class="L" cx="331.42" cy="206" r="1.05"/>
<circle class="L" cx="331.4" cy="208" r="1.05"/>
<circle class="L" cx="331.39" cy="210" r="1.05"/>
<circle class="L" cx="331.48" cy="212" r="1.05"/>
<circle class="L" cx="331.43" cy="214" r="1.05"/>
<circle class="L" cx="331.56" cy="216" r="1.05"/>
<circle class="U" cx="343" cy="186.7" r="1.05"/>
<circle class="U" cx="343.12" cy="208.5" r="1.05"/>
<circle class="U" cx="342.92" cy="210" r="1.05"/>
<circle class="U" cx="342.97" cy="211.5" r="1.05"/>
<circle class="U" cx="343.06" cy="213" r="1.05"/>
<circle class="U" cx="342.9" cy="214.5" r="1.05"/>
<circle class="U" cx="343.1" cy="216" r="1.05"/>
<circle class="X" cx="351.6" cy="214.8" r="1.05"/>
<circle class="L" cx="364.29" cy="200.8" r="1.05"/>
<circle class="L" cx="364.16" cy="202.97" r="1.05"/>
<circle class="L" cx="364.41" cy="205.14" r="1.05"/>
<circle class="L" cx="364.31" cy="207.31" r="1.05"/>
<circle class="L" cx="364.35" cy="209.49" r="1.05"/>
<circle class="L" cx="364.41" cy="211.66" r="1.05"/>
<circle class="L" cx="364.42" cy="213.83" r="1.05"/>
<circle class="L" cx="364.25" cy="216" r="1.05"/>
<circle class="L" cx="372.65" cy="210" r="1.05"/>
<circle class="L" cx="372.9" cy="212" r="1.05"/>
<circle class="L" cx="372.92" cy="214" r="1.05"/>
<circle class="U" cx="376.88" cy="208" r="1.05"/>
<circle class="U" cx="376.93" cy="209.5" r="1.05"/>
<circle class="U" cx="376.92" cy="211" r="1.05"/>
<circle class="U" cx="377.06" cy="212.5" r="1.05"/>
<circle class="U" cx="377.14" cy="214" r="1.05"/>
<circle class="A" cx="377" cy="215" r="1.05"/>
<circle class="L" cx="385.51" cy="210" r="1.05"/>
<circle class="L" cx="385.55" cy="212" r="1.05"/>
<circle class="L" cx="385.7" cy="214" r="1.05"/>
<circle class="L" cx="385.59" cy="216" r="1.05"/>
<circle class="L" cx="400.91" cy="211" r="1.05"/>
<circle class="L" cx="400.99" cy="213.5" r="1.05"/>
<circle class="L" cx="400.85" cy="216" r="1.05"/>
<circle class="L" cx="403.09" cy="208" r="1.05"/>
<circle class="L" cx="402.96" cy="210" r="1.05"/>
<circle class="L" cx="402.95" cy="212" r="1.05"/>
<circle class="L" cx="403.07" cy="214" r="1.05"/>
<circle class="L" cx="405" cy="212" r="1.05"/>
<circle class="A" cx="411.29" cy="209.2" r="1.05"/>
<circle class="A" cx="411.45" cy="210.9" r="1.05"/>
<circle class="A" cx="411.21" cy="212.6" r="1.05"/>
<circle class="A" cx="411.3" cy="214.3" r="1.05"/>
<circle class="A" cx="411.43" cy="216" r="1.05"/>
<circle class="L" cx="418" cy="214" r="1.05"/>
<circle class="E" cx="420.5" cy="214" r="1.05"/>
<circle class="E" cx="423" cy="214" r="1.05"/>
<circle class="L" cx="425.5" cy="215" r="1.05"/>
<circle class="A" cx="428.6" cy="214" r="1.05"/>
<circle class="U" cx="430.07" cy="207" r="1.05"/>
<circle class="U" cx="430.03" cy="208.5" r="1.05"/>
<circle class="U" cx="430.04" cy="210" r="1.05"/>
<circle class="U" cx="429.93" cy="211.5" r="1.05"/>
<circle class="U" cx="429.96" cy="213" r="1.05"/>
<circle class="U" cx="429.87" cy="214.5" r="1.05"/>
<circle class="U" cx="429.87" cy="216" r="1.05"/>
<circle class="L" cx="433" cy="214" r="1.05"/>
<circle class="A" cx="439.12" cy="210" r="1.05"/>
<circle class="A" cx="439.04" cy="211.5" r="1.05"/>
<circle class="A" cx="439.05" cy="213" r="1.05"/>
<circle class="A" cx="439.02" cy="214.5" r="1.05"/>
<circle class="A" cx="438.88" cy="216" r="1.05"/>
<circle class="L" cx="452.7" cy="77.6" r="1.05"/>
<circle class="L" cx="452.7" cy="82.6" r="1.05"/>
<circle class="L" cx="452.7" cy="84.2" r="1.05"/>
<circle class="L" cx="452.7" cy="88.6" r="1.05"/>
<circle class="L" cx="452.7" cy="95.4" r="1.05"/>
<circle class="L" cx="452.7" cy="99" r="1.05"/>
<circle class="L" cx="452.7" cy="125" r="1.05"/>
<circle class="L" cx="452.7" cy="130" r="1.05"/>
<circle class="L" cx="452.7" cy="135" r="1.05"/>
<circle class="L" cx="452.7" cy="144" r="1.05"/>
<circle class="L" cx="452.7" cy="149.2" r="1.05"/>
<circle class="L" cx="452.7" cy="154" r="1.05"/>
<circle class="L" cx="452.7" cy="162.3" r="1.05"/>
<circle class="L" cx="452.7" cy="167.4" r="1.05"/>
<circle class="L" cx="452.7" cy="172.4" r="1.05"/>
<circle class="L" cx="452.7" cy="178.5" r="1.05"/>
<circle class="L" cx="452.7" cy="182.5" r="1.05"/>
<circle class="L" cx="452.64" cy="186" r="1.05"/>
<circle class="L" cx="452.67" cy="188.14" r="1.05"/>
<circle class="L" cx="452.84" cy="190.29" r="1.05"/>
<circle class="L" cx="452.84" cy="192.43" r="1.05"/>
<circle class="L" cx="452.85" cy="194.57" r="1.05"/>
<circle class="L" cx="452.84" cy="196.71" r="1.05"/>
<circle class="L" cx="452.69" cy="198.86" r="1.05"/>
<circle class="L" cx="452.6" cy="201" r="1.05"/>
<circle class="L" cx="452.83" cy="203.14" r="1.05"/>
<circle class="L" cx="452.57" cy="205.29" r="1.05"/>
<circle class="L" cx="452.79" cy="207.43" r="1.05"/>
<circle class="L" cx="452.61" cy="209.57" r="1.05"/>
<circle class="L" cx="452.74" cy="211.71" r="1.05"/>
<circle class="L" cx="452.77" cy="213.86" r="1.05"/>
<circle class="L" cx="452.79" cy="216" r="1.05"/>
<circle class="L" cx="451.09" cy="195" r="1.05"/>
<circle class="L" cx="451.25" cy="197.1" r="1.05"/>
<circle class="L" cx="451.3" cy="199.2" r="1.05"/>
<circle class="L" cx="451.29" cy="201.3" r="1.05"/>
<circle class="L" cx="451.17" cy="203.4" r="1.05"/>
<circle class="L" cx="451.35" cy="205.5" r="1.05"/>
<circle class="L" cx="451.28" cy="207.6" r="1.05"/>
<circle class="L" cx="451.24" cy="209.7" r="1.05"/>
<circle class="L" cx="451.28" cy="211.8" r="1.05"/>
<circle class="L" cx="451.19" cy="213.9" r="1.05"/>
<circle class="L" cx="451.29" cy="216" r="1.05"/>
<circle class="L" cx="454.22" cy="200" r="1.05"/>
<circle class="L" cx="454.36" cy="202" r="1.05"/>
<circle class="L" cx="454.36" cy="204" r="1.05"/>
<circle class="L" cx="454.44" cy="206" r="1.05"/>
<circle class="L" cx="454.35" cy="208" r="1.05"/>
<circle class="L" cx="454.29" cy="210" r="1.05"/>
<circle class="L" cx="454.39" cy="212" r="1.05"/>
<circle class="L" cx="454.39" cy="214" r="1.05"/>
<circle class="L" cx="454.26" cy="216" r="1.05"/>
<circle class="L" cx="455.55" cy="204" r="1.05"/>
<circle class="L" cx="455.45" cy="206" r="1.05"/>
<circle class="L" cx="455.5" cy="208" r="1.05"/>
<circle class="L" cx="455.54" cy="210" r="1.05"/>
<circle class="L" cx="455.38" cy="212" r="1.05"/>
<circle class="L" cx="455.62" cy="214" r="1.05"/>
<circle class="U" cx="455.9" cy="210" r="1.05"/>
<circle class="U" cx="455.94" cy="211.5" r="1.05"/>
<circle class="U" cx="455.97" cy="213" r="1.05"/>
<circle class="U" cx="455.88" cy="214.5" r="1.05"/>
<circle class="U" cx="456.02" cy="216" r="1.05"/>
<circle class="V" cx="455" cy="212.5" r="1.05"/>
<circle class="A" cx="458.45" cy="213" r="1.05"/>
<circle class="A" cx="458.63" cy="214.5" r="1.05"/>
<circle class="A" cx="458.51" cy="216" r="1.05"/>
<circle class="L" cx="464.95" cy="206" r="1.05"/>
<circle class="L" cx="465.02" cy="208" r="1.05"/>
<circle class="L" cx="465.05" cy="210" r="1.05"/>
<circle class="L" cx="464.91" cy="212" r="1.05"/>
<circle class="L" cx="464.87" cy="214" r="1.05"/>
<circle class="L" cx="474.14" cy="196.5" r="1.05"/>
<circle class="L" cx="474.23" cy="198.67" r="1.05"/>
<circle class="L" cx="474.22" cy="200.83" r="1.05"/>
<circle class="L" cx="474.31" cy="203" r="1.05"/>
<circle class="L" cx="474.11" cy="205.17" r="1.05"/>
<circle class="L" cx="474.19" cy="207.33" r="1.05"/>
<circle class="L" cx="474.29" cy="209.5" r="1.05"/>
<circle class="L" cx="474.11" cy="211.67" r="1.05"/>
<circle class="L" cx="474.17" cy="213.83" r="1.05"/>
<circle class="L" cx="474.21" cy="216" r="1.05"/>
<circle class="U" cx="474.2" cy="204" r="1.05"/>
<circle class="U" cx="474.23" cy="208" r="1.05"/>
<circle class="U" cx="474.26" cy="209" r="1.05"/>
<circle class="U" cx="474.34" cy="212" r="1.05"/>
<circle class="U" cx="474.08" cy="213" r="1.05"/>
<circle class="V" cx="478.4" cy="214" r="1.05"/>
<circle class="L" cx="491" cy="213" r="1.05"/>
<circle class="A" cx="494.32" cy="204" r="1.05"/>
<circle class="A" cx="494.21" cy="205.5" r="1.05"/>
<circle class="A" cx="494.24" cy="207" r="1.05"/>
<circle class="A" cx="494.14" cy="208.5" r="1.05"/>
<circle class="A" cx="494.2" cy="210" r="1.05"/>
<circle class="A" cx="494.11" cy="211.5" r="1.05"/>
<circle class="A" cx="494.07" cy="213" r="1.05"/>
<circle class="A" cx="494.3" cy="214.5" r="1.05"/>
<circle class="A" cx="494.25" cy="216" r="1.05"/>
<circle class="A" cx="494.89" cy="206" r="1.05"/>
<circle class="A" cx="494.89" cy="207.6" r="1.05"/>
<circle class="A" cx="494.98" cy="209.2" r="1.05"/>
<circle class="A" cx="495.1" cy="210.8" r="1.05"/>
<circle class="A" cx="494.99" cy="212.4" r="1.05"/>
<circle class="A" cx="495.02" cy="214" r="1.05"/>
<circle class="V" cx="497.7" cy="205.3" r="1.05"/>
<circle class="U" cx="497.7" cy="209.5" r="1.05"/>
<circle class="U" cx="497.82" cy="211" r="1.05"/>
<circle class="V" cx="497.7" cy="213.5" r="1.05"/>
<circle class="U" cx="497.7" cy="215" r="1.05"/>
<circle class="L" cx="523.2" cy="214" r="1.05"/>
<circle class="L" cx="540.5" cy="179.8" r="1.05"/>
<circle class="L" cx="540.36" cy="194" r="1.05"/>
<circle class="L" cx="540.22" cy="196.2" r="1.05"/>
<circle class="L" cx="540.2" cy="198.4" r="1.05"/>
<circle class="L" cx="540.33" cy="200.6" r="1.05"/>
<circle class="L" cx="540.37" cy="202.8" r="1.05"/>
<circle class="L" cx="540.2" cy="205" r="1.05"/>
<circle class="A" cx="534.95" cy="194.3" r="1.05"/>
<circle class="A" cx="535.06" cy="195.85" r="1.05"/>
<circle class="A" cx="535" cy="197.4" r="1.05"/>
<circle class="A" cx="534.94" cy="198.95" r="1.05"/>
<circle class="A" cx="534.99" cy="200.5" r="1.05"/>
<circle class="A" cx="534.98" cy="202.05" r="1.05"/>
<circle class="A" cx="535.15" cy="203.6" r="1.05"/>
<circle class="A" cx="535.05" cy="205.15" r="1.05"/>
<circle class="A" cx="534.9" cy="206.7" r="1.05"/>
<circle class="A" cx="534.96" cy="208.25" r="1.05"/>
<circle class="A" cx="535.04" cy="209.8" r="1.05"/>
<circle class="A" cx="534.86" cy="211.35" r="1.05"/>
<circle class="A" cx="534.86" cy="212.9" r="1.05"/>
<circle class="A" cx="535.07" cy="214.45" r="1.05"/>
<circle class="A" cx="535.15" cy="216" r="1.05"/>
<circle class="L" cx="536.59" cy="196" r="1.05"/>
<circle class="L" cx="536.38" cy="198.25" r="1.05"/>
<circle class="L" cx="536.5" cy="200.5" r="1.05"/>
<circle class="L" cx="536.58" cy="202.75" r="1.05"/>
<circle class="L" cx="536.39" cy="205" r="1.05"/>
<circle class="U" cx="536.91" cy="208" r="1.05"/>
<circle class="U" cx="536.97" cy="209.5" r="1.05"/>
<circle class="U" cx="536.89" cy="211" r="1.05"/>
<circle class="U" cx="536.88" cy="212.5" r="1.05"/>
<circle class="U" cx="537.05" cy="214" r="1.05"/>
<circle class="A" cx="535.45" cy="201" r="1.05"/>
<circle class="A" cx="535.58" cy="202.62" r="1.05"/>
<circle class="A" cx="535.52" cy="204.25" r="1.05"/>
<circle class="A" cx="535.62" cy="205.88" r="1.05"/>
<circle class="A" cx="535.44" cy="207.5" r="1.05"/>
<circle class="A" cx="535.45" cy="209.12" r="1.05"/>
<circle class="A" cx="535.43" cy="210.75" r="1.05"/>
<circle class="A" cx="535.37" cy="212.38" r="1.05"/>
<circle class="A" cx="535.44" cy="214" r="1.05"/>
<circle class="L" cx="547" cy="214" r="1.05"/>
<circle class="L" cx="553.5" cy="213" r="1.05"/>
<circle class="U" cx="560.06" cy="202" r="1.05"/>
<circle class="U" cx="560.1" cy="203.56" r="1.05"/>
<circle class="U" cx="560.05" cy="205.11" r="1.05"/>
<circle class="U" cx="560.25" cy="206.67" r="1.05"/>
<circle class="U" cx="560.21" cy="208.22" r="1.05"/>
<circle class="U" cx="560.05" cy="209.78" r="1.05"/>
<circle class="U" cx="560.01" cy="211.33" r="1.05"/>
<circle class="U" cx="560.1" cy="212.89" r="1.05"/>
<circle class="U" cx="559.99" cy="214.44" r="1.05"/>
<circle class="U" cx="560.01" cy="216" r="1.05"/>
<circle class="L" cx="562.56" cy="195" r="1.05"/>
<circle class="L" cx="562.39" cy="197.1" r="1.05"/>
<circle class="L" cx="562.64" cy="199.2" r="1.05"/>
<circle class="L" cx="562.38" cy="201.3" r="1.05"/>
<circle class="L" cx="562.65" cy="203.4" r="1.05"/>
<circle class="L" cx="562.47" cy="205.5" r="1.05"/>
<circle class="L" cx="562.52" cy="207.6" r="1.05"/>
<circle class="L" cx="562.47" cy="209.7" r="1.05"/>
<circle class="L" cx="562.52" cy="211.8" r="1.05"/>
<circle class="L" cx="562.47" cy="213.9" r="1.05"/>
<circle class="L" cx="562.38" cy="216" r="1.05"/>
<circle class="A" cx="567.36" cy="196" r="1.05"/>
<circle class="A" cx="567.6" cy="197.67" r="1.05"/>
<circle class="A" cx="567.49" cy="199.33" r="1.05"/>
<circle class="A" cx="567.58" cy="201" r="1.05"/>
<circle class="A" cx="567.37" cy="202.67" r="1.05"/>
<circle class="A" cx="567.5" cy="204.33" r="1.05"/>
<circle class="A" cx="567.51" cy="206" r="1.05"/>
<circle class="A" cx="567.46" cy="207.67" r="1.05"/>
<circle class="A" cx="567.39" cy="209.33" r="1.05"/>
<circle class="A" cx="567.55" cy="211" r="1.05"/>
<circle class="A" cx="567.56" cy="212.67" r="1.05"/>
<circle class="A" cx="567.61" cy="214.33" r="1.05"/>
<circle class="A" cx="567.37" cy="216" r="1.05"/>
<circle class="N" cx="567.5" cy="201" r="1.05"/>
<circle class="N" cx="567.5" cy="205" r="1.05"/>
<circle class="N" cx="567.5" cy="209" r="1.05"/>
<circle class="N" cx="567.5" cy="213" r="1.05"/>
<circle class="A" cx="567" cy="152.8" r="1.05"/>
<circle class="L" cx="571.5" cy="212" r="1.05"/>
<circle class="A" cx="576.5" cy="190.5" r="1.05"/>
<circle class="A" cx="576.5" cy="196" r="1.05"/>
<circle class="A" cx="574.66" cy="198" r="1.05"/>
<circle class="A" cx="574.84" cy="199.64" r="1.05"/>
<circle class="A" cx="574.84" cy="201.27" r="1.05"/>
<circle class="A" cx="574.7" cy="202.91" r="1.05"/>
<circle class="A" cx="574.85" cy="204.55" r="1.05"/>
<circle class="A" cx="574.91" cy="206.18" r="1.05"/>
<circle class="A" cx="574.78" cy="207.82" r="1.05"/>
<circle class="A" cx="574.68" cy="209.45" r="1.05"/>
<circle class="A" cx="574.93" cy="211.09" r="1.05"/>
<circle class="A" cx="574.65" cy="212.73" r="1.05"/>
<circle class="A" cx="574.91" cy="214.36" r="1.05"/>
<circle class="A" cx="574.69" cy="216" r="1.05"/>
<circle class="A" cx="576.94" cy="200" r="1.05"/>
<circle class="A" cx="577.06" cy="201.6" r="1.05"/>
<circle class="A" cx="577.11" cy="203.2" r="1.05"/>
<circle class="A" cx="576.91" cy="204.8" r="1.05"/>
<circle class="A" cx="576.86" cy="206.4" r="1.05"/>
<circle class="A" cx="576.86" cy="208" r="1.05"/>
<circle class="A" cx="577.02" cy="209.6" r="1.05"/>
<circle class="A" cx="577.02" cy="211.2" r="1.05"/>
<circle class="A" cx="577.12" cy="212.8" r="1.05"/>
<circle class="A" cx="577" cy="214.4" r="1.05"/>
<circle class="A" cx="577.01" cy="216" r="1.05"/>
<circle class="U" cx="579.1" cy="210" r="1.05"/>
<circle class="U" cx="579.08" cy="211.67" r="1.05"/>
<circle class="U" cx="578.98" cy="213.33" r="1.05"/>
<circle class="U" cx="579.06" cy="215" r="1.05"/>
<circle class="L" cx="584.5" cy="213" r="1.05"/>
<circle class="N" cx="587.47" cy="208" r="1.05"/>
<circle class="N" cx="587.37" cy="209.6" r="1.05"/>
<circle class="N" cx="587.55" cy="211.2" r="1.05"/>
<circle class="N" cx="587.53" cy="212.8" r="1.05"/>
<circle class="N" cx="587.65" cy="214.4" r="1.05"/>
<circle class="N" cx="587.55" cy="216" r="1.05"/>
<circle class="V" cx="589.4" cy="208" r="1.05"/>
<circle class="V" cx="589.58" cy="209.6" r="1.05"/>
<circle class="V" cx="589.51" cy="211.2" r="1.05"/>
<circle class="V" cx="589.37" cy="212.8" r="1.05"/>
<circle class="V" cx="589.49" cy="214.4" r="1.05"/>
<circle class="V" cx="589.62" cy="216" r="1.05"/>
<circle class="A" cx="592.54" cy="185.3" r="1.05"/>
<circle class="A" cx="592.48" cy="186.92" r="1.05"/>
<circle class="A" cx="592.35" cy="188.53" r="1.05"/>
<circle class="A" cx="592.55" cy="190.15" r="1.05"/>
<circle class="A" cx="592.65" cy="191.76" r="1.05"/>
<circle class="A" cx="592.61" cy="193.38" r="1.05"/>
<circle class="A" cx="592.42" cy="194.99" r="1.05"/>
<circle class="A" cx="592.39" cy="196.61" r="1.05"/>
<circle class="A" cx="592.49" cy="198.23" r="1.05"/>
<circle class="A" cx="592.43" cy="199.84" r="1.05"/>
<circle class="A" cx="592.52" cy="201.46" r="1.05"/>
<circle class="A" cx="592.49" cy="203.07" r="1.05"/>
<circle class="A" cx="592.57" cy="204.69" r="1.05"/>
<circle class="A" cx="592.63" cy="206.31" r="1.05"/>
<circle class="A" cx="592.46" cy="207.92" r="1.05"/>
<circle class="A" cx="592.57" cy="209.54" r="1.05"/>
<circle class="A" cx="592.56" cy="211.15" r="1.05"/>
<circle class="A" cx="592.39" cy="212.77" r="1.05"/>
<circle class="A" cx="592.58" cy="214.38" r="1.05"/>
<circle class="A" cx="592.44" cy="216" r="1.05"/>
<circle class="A" cx="597.02" cy="213" r="1.05"/>
<circle class="A" cx="597" cy="214" r="1.05"/>
<circle class="U" cx="601.2" cy="214" r="1.05"/>
<circle class="U" cx="604" cy="214" r="1.05"/>
<circle class="U" cx="609.65" cy="209" r="1.05"/>
<circle class="U" cx="609.72" cy="210.75" r="1.05"/>
<circle class="U" cx="609.72" cy="212.5" r="1.05"/>
<circle class="U" cx="609.47" cy="214.25" r="1.05"/>
<circle class="U" cx="609.46" cy="216" r="1.05"/>
<circle class="A" cx="617.8" cy="215" r="1.05"/>
<circle class="X" cx="628.5" cy="215" r="1.05"/>
<circle class="L" cx="630.87" cy="208" r="1.05"/>
<circle class="L" cx="631.11" cy="210.33" r="1.05"/>
<circle class="L" cx="631.06" cy="212.67" r="1.05"/>
<circle class="L" cx="631.04" cy="215" r="1.05"/>
<circle class="V" cx="633.37" cy="187.4" r="1.05"/>
<circle class="V" cx="633.34" cy="189.04" r="1.05"/>
<circle class="V" cx="633.43" cy="190.68" r="1.05"/>
<circle class="V" cx="633.54" cy="192.32" r="1.05"/>
<circle class="V" cx="633.5" cy="193.96" r="1.05"/>
<circle class="V" cx="633.43" cy="195.6" r="1.05"/>
<circle class="V" cx="633.34" cy="197.24" r="1.05"/>
<circle class="V" cx="633.53" cy="198.88" r="1.05"/>
<circle class="V" cx="633.47" cy="200.52" r="1.05"/>
<circle class="V" cx="633.39" cy="202.16" r="1.05"/>
<circle class="V" cx="633.3" cy="203.8" r="1.05"/>
<circle class="V" cx="633.54" cy="205.44" r="1.05"/>
<circle class="V" cx="633.29" cy="207.08" r="1.05"/>
<circle class="V" cx="633.54" cy="208.72" r="1.05"/>
<circle class="V" cx="633.3" cy="210.36" r="1.05"/>
<circle class="V" cx="633.49" cy="212" r="1.05"/>
<circle class="L" cx="633.39" cy="212" r="1.05"/>
<circle class="L" cx="633.48" cy="214" r="1.05"/>
<circle class="L" cx="633.39" cy="216" r="1.05"/>
<circle class="U" cx="637.6" cy="188" r="1.05"/>
<circle class="U" cx="637.6" cy="194" r="1.05"/>
<circle class="U" cx="637.6" cy="202" r="1.05"/>
<circle class="U" cx="637.53" cy="205" r="1.05"/>
<circle class="U" cx="637.68" cy="206.57" r="1.05"/>
<circle class="U" cx="637.55" cy="208.14" r="1.05"/>
<circle class="U" cx="637.53" cy="209.71" r="1.05"/>
<circle class="U" cx="637.64" cy="211.29" r="1.05"/>
<circle class="U" cx="637.65" cy="212.86" r="1.05"/>
<circle class="U" cx="637.69" cy="214.43" r="1.05"/>
<circle class="U" cx="637.63" cy="216" r="1.05"/>
<circle class="A" cx="639" cy="215" r="1.05"/>
<circle class="L" cx="641.31" cy="205" r="1.05"/>
<circle class="L" cx="641.27" cy="207.2" r="1.05"/>
<circle class="L" cx="641.05" cy="209.4" r="1.05"/>
<circle class="L" cx="641.1" cy="211.6" r="1.05"/>
<circle class="L" cx="641.3" cy="213.8" r="1.05"/>
<circle class="L" cx="641.23" cy="216" r="1.05"/>
<circle class="L" cx="645.14" cy="203" r="1.05"/>
<circle class="L" cx="644.92" cy="205.17" r="1.05"/>
<circle class="L" cx="644.97" cy="207.33" r="1.05"/>
<circle class="L" cx="644.96" cy="209.5" r="1.05"/>
<circle class="L" cx="645.08" cy="211.67" r="1.05"/>
<circle class="L" cx="644.92" cy="213.83" r="1.05"/>
<circle class="L" cx="644.99" cy="216" r="1.05"/>
<circle class="N" cx="652.4" cy="213.5" r="1.05"/>
<circle class="A" cx="659" cy="215" r="1.05"/>
<circle class="X" cx="664.3" cy="215" r="1.05"/>
<circle class="A" cx="665.6" cy="215" r="1.05"/>
<circle class="U" cx="672.06" cy="207.2" r="1.05"/>
<circle class="U" cx="671.95" cy="208.67" r="1.05"/>
<circle class="U" cx="671.93" cy="210.13" r="1.05"/>
<circle class="U" cx="671.9" cy="211.6" r="1.05"/>
<circle class="U" cx="672.13" cy="213.07" r="1.05"/>
<circle class="U" cx="672.08" cy="214.53" r="1.05"/>
<circle class="U" cx="672.08" cy="216" r="1.05"/>
<circle class="A" cx="672" cy="209.5" r="1.05"/>
<circle class="U" cx="676" cy="214" r="1.05"/>
<circle class="N" cx="677.5" cy="214" r="1.05"/>
<circle class="X" cx="679" cy="214" r="1.05"/>
<text transform="translate(43,146) rotate(-90)" font-size="5.0" font-weight="bold"  fill="#000" stroke="#000" stroke-width="0.15" textLength="11.4" lengthAdjust="spacingAndGlyphs" dominant-baseline="central">CD36</text>
<text transform="translate(41.5,184.4) rotate(-90)" font-size="5.0" font-weight="bold"  fill="#000" stroke="#000" stroke-width="0.15" textLength="18.2" lengthAdjust="spacingAndGlyphs" dominant-baseline="central">CYP4B1</text>
<text transform="translate(48.2,195) rotate(-90)" font-size="5.0" font-weight="bold"  fill="#000" stroke="#000" stroke-width="0.15" textLength="18.3" lengthAdjust="spacingAndGlyphs" dominant-baseline="central">ACADM</text>
<text transform="translate(65.2,171.5) rotate(-90)" font-size="5.0" font-weight="bold"  fill="#000" stroke="#000" stroke-width="0.15" textLength="17.8" lengthAdjust="spacingAndGlyphs" dominant-baseline="central">THEM4</text>
<text transform="translate(70,202.6) rotate(-90)" font-size="5.0" font-weight="bold"  fill="#000" stroke="#000" stroke-width="0.15" textLength="12.5" lengthAdjust="spacingAndGlyphs" dominant-baseline="central">FMO4</text>
<text transform="translate(93.8,171.5) rotate(-90)" font-size="5.0" font-weight="bold"  fill="#000" stroke="#000" stroke-width="0.15" textLength="24.2" lengthAdjust="spacingAndGlyphs" dominant-baseline="central">KRTCAP3</text>
<text transform="translate(103.8,187.6) rotate(-90)" font-size="5.0" font-weight="bold"  fill="#000" stroke="#000" stroke-width="0.15" textLength="22.6" lengthAdjust="spacingAndGlyphs" dominant-baseline="central">ALMS1P1</text>
<text transform="translate(169.7,154.5) rotate(-90)" font-size="5.0" font-weight="bold"  fill="#000" stroke="#000" stroke-width="0.15" textLength="15.8" lengthAdjust="spacingAndGlyphs" dominant-baseline="central">ITGB5</text>
<text transform="translate(186,196.9) rotate(-90)" font-size="5.0" font-weight="bold"  fill="#000" stroke="#000" stroke-width="0.15" textLength="23.1" lengthAdjust="spacingAndGlyphs" dominant-baseline="central">DYNLT2B</text>
<text transform="translate(197.6,175) rotate(-90)" font-size="5.0" font-weight="bold"  fill="#000" stroke="#000" stroke-width="0.15" textLength="18.8" lengthAdjust="spacingAndGlyphs" dominant-baseline="central">ATP10D</text>
<text transform="translate(202.4,148.4) rotate(-90)" font-size="5.0" font-weight="bold"  fill="#000" stroke="#000" stroke-width="0.15" textLength="23" lengthAdjust="spacingAndGlyphs" dominant-baseline="central">UGT2B17</text>
<text transform="translate(222.3,194.6) rotate(-90)" font-size="5.0" font-weight="bold"  fill="#000" stroke="#000" stroke-width="0.15" textLength="16.1" lengthAdjust="spacingAndGlyphs" dominant-baseline="central">ETFDH</text>
<text transform="translate(259.1,169) rotate(-90)" font-size="5.0" font-weight="bold"  fill="#000" stroke="#000" stroke-width="0.15" textLength="27.8" lengthAdjust="spacingAndGlyphs" dominant-baseline="central">MIR3936HG</text>
<text transform="translate(275.6,188.4) rotate(-90)" font-size="5.0" font-weight="bold"  fill="#000" stroke="#000" stroke-width="0.15" textLength="21.8" lengthAdjust="spacingAndGlyphs" dominant-baseline="central">SLC17A3</text>
<text transform="translate(316.1,191.6) rotate(-90)" font-size="5.0" font-weight="bold"  fill="#000" stroke="#000" stroke-width="0.15" textLength="19.3" lengthAdjust="spacingAndGlyphs" dominant-baseline="central">KBTBD2</text>
<text transform="translate(331.1,199.7) rotate(-90)" font-size="5.0" font-weight="bold"  fill="#000" stroke="#000" stroke-width="0.15" textLength="13.7" lengthAdjust="spacingAndGlyphs" dominant-baseline="central">TRIM4</text>
<text transform="translate(342.6,179.6) rotate(-90)" font-size="5.0" font-weight="bold"  fill="#000" stroke="#000" stroke-width="0.15" textLength="13" lengthAdjust="spacingAndGlyphs" dominant-baseline="central">AOC1</text>
<text transform="translate(363.9,192.3) rotate(-90)" font-size="5.0" font-weight="bold"  fill="#000" stroke="#000" stroke-width="0.15" textLength="16.9" lengthAdjust="spacingAndGlyphs" dominant-baseline="central">RMDN1</text>
<text transform="translate(410.9,198) rotate(-90)" font-size="5.0" font-weight="bold"  fill="#000" stroke="#000" stroke-width="0.15" textLength="22" lengthAdjust="spacingAndGlyphs" dominant-baseline="central">SEC61A2</text>
<text transform="translate(427.6,205) rotate(-90)" font-size="5.0" font-weight="bold"  fill="#000" stroke="#000" stroke-width="0.15" textLength="15.5" lengthAdjust="spacingAndGlyphs" dominant-baseline="central">HELLS</text>
<text transform="translate(432.9,193.7) rotate(-90)" font-size="5.0" font-weight="bold"  fill="#000" stroke="#000" stroke-width="0.15" textLength="21.1" lengthAdjust="spacingAndGlyphs" dominant-baseline="central">CWF19L1</text>
<text transform="translate(452.3,71.8) rotate(-90)" font-size="5.0" font-weight="bold"  fill="#000" stroke="#000" stroke-width="0.15" textLength="16.4" lengthAdjust="spacingAndGlyphs" dominant-baseline="central">FADS2</text>
<text transform="translate(448.5,188.2) rotate(-90)" font-size="5.0" font-weight="bold"  fill="#000" stroke="#000" stroke-width="0.15" textLength="18.6" lengthAdjust="spacingAndGlyphs" dominant-baseline="central">PPP6R3</text>
<text transform="translate(454.7,204.4) rotate(-90)" font-size="5.0" font-weight="bold"  fill="#000" stroke="#000" stroke-width="0.15" textLength="15.2" lengthAdjust="spacingAndGlyphs" dominant-baseline="central">NEU3</text>
<text transform="translate(460.3,193.3) rotate(-90)" font-size="5.0" font-weight="bold"  fill="#000" stroke="#000" stroke-width="0.15" textLength="15.2" lengthAdjust="spacingAndGlyphs" dominant-baseline="central">DGAT2</text>
<text transform="translate(467.8,199.8) rotate(-90)" font-size="5.0" font-weight="bold"  fill="#000" stroke="#000" stroke-width="0.15" textLength="13.6" lengthAdjust="spacingAndGlyphs" dominant-baseline="central">SIDT2</text>
<text transform="translate(473.8,186.8) rotate(-90)" font-size="5.0" font-weight="bold"  fill="#000" stroke="#000" stroke-width="0.15" textLength="19.4" lengthAdjust="spacingAndGlyphs" dominant-baseline="central">GOLT1B</text>
<text transform="translate(487.6,190) rotate(-90)" font-size="5.0" font-weight="bold"  fill="#000" stroke="#000" stroke-width="0.15" textLength="21.8" lengthAdjust="spacingAndGlyphs" dominant-baseline="central">TMEM116</text>
<text transform="translate(497.3,194.8) rotate(-90)" font-size="5.0" font-weight="bold"  fill="#000" stroke="#000" stroke-width="0.15" textLength="20.1" lengthAdjust="spacingAndGlyphs" dominant-baseline="central">SCARB1</text>
<text transform="translate(534.6,189.8) rotate(-90)" font-size="5.0" font-weight="bold"  fill="#000" stroke="#000" stroke-width="0.15" textLength="14.4" lengthAdjust="spacingAndGlyphs" dominant-baseline="central">GCH1</text>
<text transform="translate(540.1,166.5) rotate(-90)" font-size="5.0" font-weight="bold"  fill="#000" stroke="#000" stroke-width="0.15" textLength="26.5" lengthAdjust="spacingAndGlyphs" dominant-baseline="central">TMEM229B</text>
<text transform="translate(566.6,145.3) rotate(-90)" font-size="5.0" font-weight="bold"  fill="#000" stroke="#000" stroke-width="0.15" textLength="14.6" lengthAdjust="spacingAndGlyphs" dominant-baseline="central">IREB2</text>
<text transform="translate(554,201.1) rotate(-90)" font-size="5.0" font-weight="bold"  fill="#000" stroke="#000" stroke-width="0.15" textLength="31.4" lengthAdjust="spacingAndGlyphs" dominant-baseline="central">GABPB1-AS1</text>
<text transform="translate(560.6,178.1) rotate(-90)" font-size="5.0" font-weight="bold"  fill="#000" stroke="#000" stroke-width="0.15" textLength="12.7" lengthAdjust="spacingAndGlyphs" dominant-baseline="central">LIPC</text>
<text transform="translate(567,189.6) rotate(-90)" font-size="5.0" font-weight="bold"  fill="#000" stroke="#000" stroke-width="0.15" textLength="18.1" lengthAdjust="spacingAndGlyphs" dominant-baseline="central">AKAP13</text>
<text transform="translate(573,199.9) rotate(-90)" font-size="5.0" font-weight="bold"  fill="#000" stroke="#000" stroke-width="0.15" textLength="16.3" lengthAdjust="spacingAndGlyphs" dominant-baseline="central">ABCC1</text>
<text transform="translate(576.3,182.4) rotate(-90)" font-size="5.0" font-weight="bold"  fill="#000" stroke="#000" stroke-width="0.15" textLength="17.6" lengthAdjust="spacingAndGlyphs" dominant-baseline="central">ACSM1</text>
<text transform="translate(588.1,198.7) rotate(-90)" font-size="5.0" font-weight="bold"  fill="#000" stroke="#000" stroke-width="0.15" textLength="19.1" lengthAdjust="spacingAndGlyphs" dominant-baseline="central">TXNL4B</text>
<text transform="translate(592.3,175.4) rotate(-90)" font-size="5.0" font-weight="bold"  fill="#000" stroke="#000" stroke-width="0.15" textLength="20.4" lengthAdjust="spacingAndGlyphs" dominant-baseline="central">DBNDD1</text>
<text transform="translate(609.2,200.8) rotate(-90)" font-size="5.0" font-weight="bold"  fill="#000" stroke="#000" stroke-width="0.15" textLength="16.2" lengthAdjust="spacingAndGlyphs" dominant-baseline="central">ACOX1</text>
<text transform="translate(628.3,202.2) rotate(-90)" font-size="5.0" font-weight="bold"  fill="#000" stroke="#000" stroke-width="0.15" textLength="15.5" lengthAdjust="spacingAndGlyphs" dominant-baseline="central">CD320</text>
<text transform="translate(633,176.8) rotate(-90)" font-size="5.0" font-weight="bold"  fill="#000" stroke="#000" stroke-width="0.15" textLength="22.6" lengthAdjust="spacingAndGlyphs" dominant-baseline="central">CLEC4GP</text>
<text transform="translate(640.5,179.6) rotate(-90)" font-size="5.0" font-weight="bold"  fill="#000" stroke="#000" stroke-width="0.15" textLength="18.3" lengthAdjust="spacingAndGlyphs" dominant-baseline="central">ZNF833</text>
<text transform="translate(640.5,198.7) rotate(-90)" font-size="5.0" font-weight="bold"  fill="#000" stroke="#000" stroke-width="0.15" textLength="12.7" lengthAdjust="spacingAndGlyphs" dominant-baseline="central">TMC4</text>
<text transform="translate(647.1,192.3) rotate(-90)" font-size="5.0" font-weight="bold"  fill="#000" stroke="#000" stroke-width="0.15" textLength="18.3" lengthAdjust="spacingAndGlyphs" dominant-baseline="central">SPTLC3</text>
<text transform="translate(671.6,200.8) rotate(-90)" font-size="5.0" font-weight="bold"  fill="#000" stroke="#000" stroke-width="0.15" textLength="14" lengthAdjust="spacingAndGlyphs" dominant-baseline="central">COMT</text>
<text x="540.5" y="21.2" font-size="15.5" font-weight="bold"  fill="#000" stroke="#000" stroke-width="0.25">b</text>
<rect x="566.6" y="0.6" width="114.2" height="111.6" fill="none" stroke="#c4c4c4" stroke-width="0.9"/>
<text x="565" y="112.3" font-size="4.6"  fill="#444" text-anchor="end">0</text>
<text x="565" y="80.4" font-size="4.6"  fill="#444" text-anchor="end">10</text>
<text x="565" y="48.5" font-size="4.6"  fill="#444" text-anchor="end">20</text>
<text x="565" y="16.6" font-size="4.6"  fill="#444" text-anchor="end">30</text>
<text transform="translate(569.6,117.5) rotate(-40)" font-size="4.6"  fill="#444" text-anchor="middle">0</text>
<text transform="translate(595.85,117.5) rotate(-40)" font-size="4.6"  fill="#444" text-anchor="middle">25</text>
<text transform="translate(622.1,117.5) rotate(-40)" font-size="4.6"  fill="#444" text-anchor="middle">50</text>
<text transform="translate(648.35,117.5) rotate(-40)" font-size="4.6"  fill="#444" text-anchor="middle">75</text>
<text transform="translate(674.6,117.5) rotate(-40)" font-size="4.6"  fill="#444" text-anchor="middle">100</text>
<text x="623.2" y="123.9" font-size="4.6"  fill="#222" text-anchor="middle">Percentage of all loci</text>
<text transform="translate(559.0,56.6) rotate(-90)" font-size="4.6"  fill="#222" text-anchor="middle" textLength="67" lengthAdjust="spacingAndGlyphs">Number of associated metabolites</text>
<path d="M571.3,107.3 L630.6,107.3 L630.6,104.2 L648.6,104.2 L648.6,101.1 L662.6,101.1 L662.6,97.7 L668.6,97.7 L669.6,93.3 L669.8,90.5 L670.8,87 L672.2,84.6 L673.3,82.5 L674.3,77.5 L674.8,74 L674.8,5.2" fill="none" stroke="#6a8ef0" stroke-width="0.9"/>
<line x1="665.5" y1="5.3" x2="675.3" y2="5.3" stroke="#333" stroke-width="0.55"/>
<circle cx="665.5" cy="5.3" r="0.7" fill="#111"/>
<text x="663.6" y="6.8" font-size="4.25" font-weight="bold"  fill="#222" text-anchor="end">FADS2 [33]</text>
<line x1="664.3" y1="75.4" x2="674.7" y2="75.4" stroke="#333" stroke-width="0.55"/>
<circle cx="664.3" cy="75.4" r="0.7" fill="#111"/>
<text x="662.6" y="76.9" font-size="4.25" font-weight="bold"  fill="#222" text-anchor="end">DGAT2 [11]</text>
<line x1="663.3" y1="81.6" x2="673.5" y2="81.6" stroke="#999" stroke-width="0.55"/>
<circle cx="663.3" cy="81.6" r="0.7" fill="#111"/>
<text x="661.9" y="83.1" font-size="4.25" font-weight="bold"  fill="#222" text-anchor="end">SIDT2 [9]</text>
<line x1="629.2" y1="84.6" x2="672.2" y2="84.6" stroke="#888" stroke-width="0.55"/>
<circle cx="629.2" cy="84.6" r="0.7" fill="#111"/>
<text x="627.4" y="86.1" font-size="4.25" font-weight="bold"  fill="#222" text-anchor="end">LIPC, SLC5A6, H2A [8]</text>
<line x1="663.5" y1="91.5" x2="670.3" y2="91.5" stroke="#444" stroke-width="0.55"/>
<circle cx="663.5" cy="91.5" r="0.7" fill="#111"/>
<text x="661.8" y="93" font-size="4.25" font-weight="bold"  fill="#222" text-anchor="end">TMEM229B [6]</text>
<line x1="634.4" y1="94.8" x2="669.6" y2="94.8" stroke="#888" stroke-width="0.55"/>
<circle cx="634.4" cy="94.8" r="0.7" fill="#111"/>
<text x="632.6" y="96.3" font-size="4.25" font-weight="bold"  fill="#222" text-anchor="end">CD36 [5]</text>
<text x="8.4" y="266" font-size="14.6" font-weight="bold"  fill="#000" stroke="#000" stroke-width="0.25">c</text>
<text transform="translate(11.1,357.8) rotate(-90)" font-size="9"  fill="#333" text-anchor="middle">- log10(p)</text>
<rect x="37" y="276.7" width="306" height="63.8" fill="#fff"/>
<line x1="37" y1="331.27" x2="343" y2="331.27" stroke="#f0f0f0" stroke-width="0.4"/>
<line x1="37" y1="316.61" x2="343" y2="316.61" stroke="#f0f0f0" stroke-width="0.4"/>
<line x1="37" y1="301.95" x2="343" y2="301.95" stroke="#f0f0f0" stroke-width="0.4"/>
<line x1="37" y1="287.29" x2="343" y2="287.29" stroke="#f0f0f0" stroke-width="0.4"/>
<line x1="78.52" y1="276.7" x2="78.52" y2="340.5" stroke="#f0f0f0" stroke-width="0.4"/>
<line x1="141.12" y1="276.7" x2="141.12" y2="340.5" stroke="#f0f0f0" stroke-width="0.4"/>
<line x1="210.67" y1="276.7" x2="210.67" y2="340.5" stroke="#f0f0f0" stroke-width="0.4"/>
<line x1="280.22" y1="276.7" x2="280.22" y2="340.5" stroke="#f0f0f0" stroke-width="0.4"/>
<line x1="37" y1="338.6" x2="343" y2="338.6" stroke="#e2e2e2" stroke-width="0.6"/>
<line x1="37" y1="323.94" x2="343" y2="323.94" stroke="#e2e2e2" stroke-width="0.6"/>
<line x1="37" y1="309.28" x2="343" y2="309.28" stroke="#e2e2e2" stroke-width="0.6"/>
<line x1="37" y1="294.62" x2="343" y2="294.62" stroke="#e2e2e2" stroke-width="0.6"/>
<line x1="37" y1="279.96" x2="343" y2="279.96" stroke="#e2e2e2" stroke-width="0.6"/>
<line x1="50.7" y1="276.7" x2="50.7" y2="340.5" stroke="#e2e2e2" stroke-width="0.6"/>
<line x1="106.34" y1="276.7" x2="106.34" y2="340.5" stroke="#e2e2e2" stroke-width="0.6"/>
<line x1="175.89" y1="276.7" x2="175.89" y2="340.5" stroke="#e2e2e2" stroke-width="0.6"/>
<line x1="245.44" y1="276.7" x2="245.44" y2="340.5" stroke="#e2e2e2" stroke-width="0.6"/>
<line x1="314.99" y1="276.7" x2="314.99" y2="340.5" stroke="#e2e2e2" stroke-width="0.6"/>
<line x1="37" y1="285.09" x2="343" y2="285.09" stroke="#c4c4c4" stroke-width="0.75" stroke-dasharray="2.6,1.8"/>
<line x1="34.8" y1="338.6" x2="37" y2="338.6" stroke="#666" stroke-width="0.5"/>
<text x="34.2" y="340.4" font-size="4.9"  fill="#444" text-anchor="end">0</text>
<line x1="34.8" y1="323.94" x2="37" y2="323.94" stroke="#666" stroke-width="0.5"/>
<text x="34.2" y="325.74" font-size="4.9"  fill="#444" text-anchor="end">2</text>
<line x1="34.8" y1="309.28" x2="37" y2="309.28" stroke="#666" stroke-width="0.5"/>
<text x="34.2" y="311.08" font-size="4.9"  fill="#444" text-anchor="end">4</text>
<line x1="34.8" y1="294.62" x2="37" y2="294.62" stroke="#666" stroke-width="0.5"/>
<text x="34.2" y="296.42" font-size="4.9"  fill="#444" text-anchor="end">6</text>
<line x1="34.8" y1="279.96" x2="37" y2="279.96" stroke="#666" stroke-width="0.5"/>
<text x="34.2" y="281.76" font-size="4.9"  fill="#444" text-anchor="end">8</text>
<path d="M58.5 339.55L58.5 335.34L59.3 335.35L60.1 334.34L60.9 334.03L61.7 334.9L62.5 333.66L63.3 333.72L64.1 333.91L64.9 333.58L65.7 333.98L66.5 333.93L67.3 333.92L68.1 334L68.9 334.15L69.7 333.57L70.5 333.66L71.3 333.29L72.1 334.25L72.9 334.61L73.7 334.13L74.5 333.68L75.3 333.37L76.1 333.86L76.9 334.68L77.7 334.14L78.5 333.92L79.3 333.93L80.1 334.19L80.9 334.61L81.7 334.13L82.5 333.95L83.3 334.32L84.1 333.5L84.9 334.24L85.7 333.97L86.5 334.41L87.3 334.39L88.1 334.56L88.9 333.54L89.7 334.28L90.5 333.87L91.3 334.18L92.1 333.58L92.9 333.47L93.7 334.34L94.5 333.38L95.3 333.99L96.1 333.46L96.9 334.16L97.7 334.03L98.5 334.58L99.3 334.24L100.1 334.65L100.9 334.29L101.7 333.83L102.5 334.56L103.3 334.4L104.1 333.45L104.9 333.89L105.7 334.23L106.5 335.09L107.3 334.75L108.1 335.73L108.9 335.89L109.7 335.58L110.5 335.46L111.3 335.44L112.1 335.86L112.9 335.24L113.7 335.68L114.5 335.1L115.3 335.64L116.1 335.95L116.9 335.95L117.7 335.65L118.5 335.36L119.3 335.55L120.1 335.23L120.9 335.19L121.7 335.22L122.5 335.41L123.3 335.17L124.1 335.36L124.9 335.9L125.7 335.7L126.5 335.77L127.3 335.9L128.1 335.17L128.9 335.53L129.7 335.82L130.5 335.23L131.3 335.65L132.1 335.77L132.9 335.34L133.7 335.31L134.5 333.71L135.3 332.94L136.1 333.82L136.9 332.95L137.7 333.88L138.5 332.31L139.3 333.47L140.1 333.02L140.9 332.62L141.7 332.59L142.5 333.07L143.3 333.75L144.1 333.37L144.9 333.92L145.7 333.58L146.5 332.61L147.3 332.89L148.1 333.15L148.9 332.78L149.7 333.1L150.5 333.27L151.3 333.24L152.1 333.27L152.9 333.26L153.7 333.15L154.5 332.5L155.3 332.32L156.1 332.36L156.9 333.1L157.7 332.32L158.5 332.52L159.3 333.65L160.1 332.52L160.9 334.19L161.7 333.76L162.5 334.51L163.3 334.3L164.1 334.27L164.9 334.05L165.7 334.09L166.5 334.74L167.3 335.18L168.1 335.12L168.9 334.03L169.7 334.82L170.5 334.93L171.3 335.07L172.1 334.77L172.9 334.81L173.7 334.32L174.5 334.99L175.3 334.66L176.1 334.13L176.9 334.68L177.7 335.03L178.5 334.7L179.3 334.91L180.1 335.15L180.9 334.18L181.7 334.28L182.5 333.23L183.3 333.79L184.1 333.79L184.9 332.9L185.7 332.57L186.5 333.25L187.3 332.8L188.1 332.85L188.9 332.85L189.7 332.91L190.5 333.74L191.3 333.61L192.1 334.79L192.6 339.55Z" fill="#0a0a8c"/>
<path d="M213.6 339.55L213.6 333.96L214.4 333.67L215.2 334.38L216 334.61L216.8 334.64L217.6 334.64L218.4 334.44L219.2 334.4L220 334.74L220.8 333.85L221.6 333.66L222.4 334.76L223.2 334.11L224 334.37L224.8 334.28L225.6 334.28L226.4 334.37L227.2 333.91L228 333.71L228.8 334.57L229.6 334.48L230.4 334.9L231.2 334.41L232 334.59L232.8 334.71L233.6 333.84L234.4 334.26L235.2 334.65L236 334.72L236.8 334.35L237.6 334.27L238.4 334.42L239.2 334.8L240 334.97L240.8 335.55L241.6 335.59L242.4 335.06L243.2 335.1L244 335.53L244.8 335.42L245.6 335.71L246.4 335.04L247.2 335.21L248 334.89L248.8 334.81L249.6 335.21L250.4 335.38L251.2 335.44L252 335.09L252.8 334.79L253.6 335.63L254.4 335.32L255.2 334.97L256 335.59L256.8 335.06L257.6 335.48L258.4 335.16L259.2 334.75L260 335.68L260.8 335.03L261.6 335.15L262.4 334.87L263.2 335.37L264 334.8L264.8 334.76L265.6 335.65L266.4 335.37L267.2 335.48L268 334.9L268.8 334.82L269.6 334.95L270.4 334.86L271.2 335.15L272 334.83L272.8 335.43L273.6 335.61L274.4 335L275.2 335.28L276 335.7L276.8 334.92L277.6 335.59L278.4 335.48L279.2 335.63L280 335.11L280.8 335.55L281.6 335.41L282.4 335.17L283.2 334.78L284 335.7L284.8 334.8L285.6 334.99L286.4 335.46L287.2 334.89L288 335.09L288.8 335.26L289.6 335.49L290.4 335.28L291.2 335.37L292 335.63L292.8 335.54L293.6 335.45L294.4 335.26L295.2 335.14L296 334.97L296.8 335.61L297.6 335.6L298.4 334.67L299.2 334.71L300 334.79L300.8 334.51L301.6 333.57L302.4 333.73L303.2 333.84L304 333.01L304.8 334.44L305.6 333.5L306.4 333.42L307.2 333.58L308 333.58L308.8 334.45L309.6 333.05L310.4 334.44L311.2 333.98L312 333.93L312.8 333.29L313.6 333.48L314.4 333.3L315.2 333.73L316 333.11L316.8 334.1L317.6 334L318.4 333.77L319.2 334.12L320 334.39L320.8 333.62L321.6 334.11L322.4 333.36L323.2 333.68L324 334.63L324.8 334.5L325.6 334.39L326.4 334.2L327.2 334.39L328 333.73L328.5 339.55Z" fill="#0a0a8c"/>
<path d="M58.28 336.06h0M58.42 333.99h0M59.46 337.32h0M59.88 333.76h0M60.13 333.87h0M60.6 333.66h0M61.6 334.61h0M61.75 337.2h0M62.18 336.72h0M62.11 336.19h0M63.13 336.66h0M63.38 336.39h0M64.15 332.37h0M64.84 332.66h0M65.17 334.22h0M65.85 334.97h0M66.51 332.74h0M66.83 334.28h0M67.32 333.49h0M67.69 335.73h0M68.46 333.69h0M68.28 335.24h0M69.54 335.34h0M69.81 335.65h0M70.48 333.07h0M70.12 335.5h0M71.25 334.44h0M71.88 335.19h0M72.84 336.36h0M72.86 335.55h0M73.36 335.82h0M73.8 336.09h0M74.15 337.06h0M74.54 334.14h0M75.38 333.88h0M75.51 333h0M76.38 333.35h0M76.52 332.22h0M77.64 332.5h0M77.43 333.83h0M78.21 336.16h0M78.59 335.79h0M79.77 336.7h0M79.79 332.56h0M80.9 335.83h0M80.6 334.01h0M81.66 335.1h0M81.18 335.12h0M82.54 336.58h0M82.42 332.2h0M83.22 332.92h0M83.32 334.06h0M84.19 332.91h0M84.65 335.73h0M85.38 335.4h0M85.52 334.19h0M86.62 337.14h0M86.7 332.22h0M87.4 335.67h0M87.53 333.15h0M88.45 335.28h0M88.29 333.06h0M89.36 332.32h0M89.59 335.96h0M90.36 332.31h0M90.81 332.39h0M91.12 335.89h0M91.82 335.67h0M92.53 335.61h0M92.6 334.98h0M93.76 333.53h0M93.44 334.85h0M94.13 333.79h0M94.46 337.12h0M95.15 336.02h0M95.43 334.66h0M96.62 332.53h0M96.22 336.23h0M97.44 335.16h0M97.71 332.67h0M98.57 333.71h0M98.7 336.71h0M99.39 335.34h0M99.16 335.62h0M100.24 333.89h0M100.34 335.45h0M101.85 334.62h0M101.88 334.01h0M102.52 333.09h0M102.27 332.7h0M103.43 336.87h0M103.55 336.64h0M104.56 334.01h0M104.68 333.71h0M105.11 337.25h0M105.67 334.67h0M106.83 335.84h0M106.18 337.38h0M107.12 337.03h0M107.72 335.7h0M108.8 334.96h0M108.51 337.28h0M109.26 335.87h0M109.22 336.12h0M110.51 337.63h0M110.16 334.8h0M111.49 336.28h0M111.44 335.26h0M112.62 335.61h0M112.56 337.28h0M113.29 336.87h0M113.13 335.78h0M114.79 334.8h0M114.15 337.13h0M115.6 337.66h0M115.28 336.5h0M116.71 337.59h0M116.14 336.99h0M117.28 337.23h0M117.57 337.19h0M118.1 335.05h0M118.46 336.43h0M119.3 334.99h0M119.88 337.51h0M120.64 335.64h0M120.57 336.45h0M121.42 335.53h0M121.12 335.05h0M122.17 337.2h0M122.4 337.7h0M123.81 336.5h0M123.39 336.69h0M124.8 336.69h0M124.62 334.76h0M125.44 334.91h0M125.54 336.53h0M126.47 336.66h0M126.45 336.86h0M127.12 335.24h0M127.29 337.32h0M128.26 336.04h0M128.73 336.01h0M129.47 335.27h0M129.29 336.59h0M130.27 336.47h0M130.6 335.93h0M131.34 336.26h0M131.26 335.08h0M132.64 334.82h0M132.9 335.89h0M133.45 334.02h0M133.53 336.12h0M134.51 336.7h0M134.7 334.15h0M135.17 332.18h0M135.69 332.67h0M136.12 332.42h0M136.22 336.75h0M137.67 332.56h0M137.72 335.42h0M138.25 331.35h0M138.15 331.21h0M139.74 332.17h0M139.25 332.42h0M140.17 335.06h0M140.75 334.38h0M141.38 331.64h0M141.47 332.97h0M142.6 331.53h0M142.85 335.75h0M143.39 331.92h0M143.65 331.32h0M144.12 332.51h0M144.47 330.68h0M145.42 331.26h0M145.18 335.05h0M146.32 333.09h0M146.28 332.67h0M147.42 333.09h0M147.44 332.18h0M148.22 332.29h0M148.54 332.97h0M149.85 333.36h0M149.28 333.78h0M150.52 331.14h0M150.64 333.3h0M151.85 336.15h0M151.71 332.81h0M152.82 331.45h0M152.57 332.56h0M153.88 332.65h0M153.13 334.88h0M154.72 334.71h0M154.83 334.27h0M155.7 330.7h0M155.59 335.48h0M156.52 334.69h0M156.86 334.12h0M157.37 333.74h0M157.65 331.68h0M158.6 333.71h0M158.64 335.57h0M159.64 331.63h0M159.72 333.83h0M160.25 331.37h0M160.76 333.67h0M161.24 336.27h0M161.72 335.89h0M162.31 332.91h0M162.23 335.72h0M163.17 334.7h0M163.21 334.49h0M164.49 335.35h0M164.66 337.37h0M165.65 336.83h0M165.61 334.44h0M166.21 334.39h0M166.57 336.37h0M167.6 336.89h0M167.44 333.41h0M168.64 336.74h0M168.88 333.84h0M169.42 336.52h0M169.65 337.34h0M170.49 337.21h0M170.82 336.1h0M171.19 336.08h0M171.87 336.71h0M172.46 334.98h0M172.33 335.03h0M173.14 335.41h0M173.88 335.34h0M174.7 335.99h0M174.69 336.27h0M175.62 333.34h0M175.49 334.07h0M176.36 335.87h0M176.17 336.18h0M177.59 334.3h0M177.66 334.63h0M178.16 334.23h0M178.12 335.72h0M179.22 335.83h0M179.87 335.17h0M180.82 334.29h0M180.18 334.12h0M181.35 334.17h0M181.4 334.02h0M182.38 335.84h0M182.21 332.14h0M183.77 335.47h0M183.15 336.32h0M184.74 331.05h0M184.9 334.29h0M185.14 335.23h0M185.44 331.79h0M186.9 332.62h0M186.6 335.72h0M187.28 335.91h0M187.61 334.24h0M188.88 331.82h0M188.48 335.59h0M189.4 336.83h0M189.59 332.35h0M190.51 336.37h0M190.16 336.83h0M191.67 332.94h0M191.15 337.18h0M192.86 336.47h0M192.68 335.53h0M214.1 333.57h0M214.64 334.66h0M215.48 334.77h0M215.51 335.3h0M216.53 334.39h0M216.22 335.43h0M217.59 336.9h0M217.75 333.94h0M218.37 334.24h0M218.55 335.34h0M219.39 334.25h0M219.21 333.28h0M220.52 334.35h0M220.78 336.25h0M221.69 334.09h0M221.22 334.61h0M222.54 332.93h0M222.39 336.17h0M223.45 336.07h0M223.28 332.81h0M224.26 333.82h0M224.28 333.41h0M225.62 336.41h0M225.64 334.01h0M226.28 335.16h0M226.53 334.06h0M227.69 333.08h0M227.55 333.35h0M228.64 333.58h0M228.21 334.96h0M229.51 333.41h0M229.86 334.39h0M230.87 334.9h0M230.47 334.11h0M231.54 332.81h0M231.25 335.09h0M232.17 335.56h0M232.6 335.41h0M233.14 337.09h0M233.66 332.87h0M234.47 336.72h0M234.21 333.09h0M235.17 332.72h0M235.26 336.75h0M236.68 335.74h0M236.39 333.56h0M237.74 334.32h0M237.11 336.33h0M238.29 335.49h0M238.52 336.1h0M239.49 334.62h0M239.38 336.29h0M240.36 335.52h0M240.13 334.46h0M241.29 336.38h0M241.66 337.54h0M242.89 336.09h0M242.73 335.92h0M243.16 336.72h0M243.22 334.39h0M244.8 335.29h0M244.77 335.57h0M245.3 334.16h0M245.71 336.68h0M246.46 337.52h0M246.9 335.92h0M247.49 337.5h0M247.77 337.35h0M248.6 335.38h0M248.58 334.69h0M249.87 335.21h0M249.46 336.82h0M250.87 335.82h0M250.39 335.78h0M251.35 337.16h0M251.6 336.88h0M252.76 335.09h0M252.37 335.99h0M253.85 336.52h0M253.37 335.94h0M254.28 336.75h0M254.8 335.5h0M255.6 335.09h0M255.21 336.28h0M256.15 334.18h0M256.39 335.62h0M257.57 337.13h0M257.66 334.44h0M258.82 337.28h0M258.26 336.13h0M259.56 337.27h0M259.73 334.86h0M260.29 334.85h0M260.21 337.36h0M261.87 336.43h0M261.39 334.66h0M262.3 334.59h0M262.67 336.45h0M263.66 335.28h0M263.81 334.9h0M264.5 334.51h0M264.75 334.16h0M265.22 336.9h0M265.81 335.29h0M266.42 336.24h0M266.72 334.39h0M267.57 337.11h0M267.68 336.74h0M268.56 335.33h0M268.87 337.36h0M269.25 334.41h0M269.57 336.56h0M270.38 335.99h0M270.88 335.22h0M271.68 334.42h0M271.77 336.5h0M272.24 334.5h0M272.54 334.98h0M273.6 336.79h0M273.12 337.45h0M274.46 334.52h0M274.33 335.87h0M275.18 336.77h0M275.15 337.16h0M276.14 337.36h0M276.75 335.62h0M277.68 337.59h0M277.32 335.39h0M278.11 336.49h0M278.12 336.5h0M279.79 337.52h0M279.49 335.5h0M280.74 337.01h0M280.79 334.85h0M281.17 335.49h0M281.72 334.19h0M282.42 334.35h0M282.8 337.52h0M283.35 335.35h0M283.35 336.17h0M284.67 334.72h0M284.23 337.55h0M285.27 335.78h0M285.77 336.37h0M286.39 336.42h0M286.64 334.61h0M287.22 334.21h0M287.56 336.81h0M288.59 334.79h0M288.48 337.5h0M289.62 335.35h0M289.54 335.16h0M290.55 336.36h0M290.52 336.66h0M291.3 335.68h0M291.18 334.81h0M292.88 337.09h0M292.6 336.22h0M293.88 334.37h0M293.6 337.19h0M294.53 336.9h0M294.72 336.71h0M295.58 335.06h0M295.82 334.59h0M296.78 334.91h0M296.52 336.4h0M297.67 336.08h0M297.79 336.87h0M298.83 334.2h0M298.41 336.76h0M299.73 337.29h0M299.63 337.34h0M300.75 333h0M300.64 335.63h0M301.28 335.19h0M301.83 335.2h0M302.63 332.43h0M302.12 336.95h0M303.67 335.77h0M303.38 335.32h0M304.44 335.58h0M304.8 334.4h0M305.89 332.85h0M305.48 332.09h0M306.72 332h0M306.21 335.48h0M307.17 337.06h0M307.8 335.76h0M308.36 333.86h0M308.87 335.96h0M309.14 332.96h0M309.78 333.21h0M310.14 333.02h0M310.45 334.81h0M311.21 332.18h0M311.65 332.87h0M312.22 332.32h0M312.21 335.52h0M313.5 335.27h0M313.7 334.68h0M314.42 334.95h0M314.61 333.65h0M315.42 335.37h0M315.82 334.08h0M316.26 333.87h0M316.11 336.42h0M317.58 334.15h0M317.66 333.36h0M318.14 332.52h0M318.15 336.56h0M319.87 332.14h0M319.52 337.12h0M320.28 334.37h0M320.61 334.34h0M321.89 334.43h0M321.77 332.25h0M322.16 332.2h0M322.78 332.19h0M323.28 336.78h0M323.66 337.07h0M324.32 332.26h0M324.26 336.91h0M325.73 332.35h0M325.31 335.51h0M326.13 334.87h0M326.33 335.49h0M327.43 332.17h0M327.7 335.82h0M201.44 332.62h0M196.02 325.95h0M209.08 325.98h0M197.78 329.65h0M206.87 325.72h0M209.51 335.12h0M205.42 337.8h0M201.12 330.33h0M201.85 330.59h0M204.55 331.74h0M202.41 333.97h0M200.6 325.63h0M210.39 336.96h0M212.52 334.58h0M209.52 337.17h0M206.28 324.36h0M198.25 324.84h0M199.96 330.65h0M212.99 337.29h0M200.28 337h0M200.32 333.93h0M206.24 335.26h0M210.12 327.53h0M199.44 332.47h0M201.56 332.37h0M200.5 333.19h0M203.45 334.06h0M198.5 335.01h0M204.5 336.4h0M205 334.94h0M205.5 337.13h0M206 335.3h0M204.8 333.47h0M206.5 337.87h0M203.7 337.5h0M60.12 334.52h0M66.31 336.63h0M64.17 338.42h0M60.31 335.15h0M65.6 332.52h0M64.23 329.65h0M61.53 333.76h0M59.01 337.1h0M64.91 334.79h0M64.45 328.89h0M61.56 335.91h0M63.38 332.52h0M63.93 337.03h0M60.28 332.71h0M61.9 331.85h0M68.21 334.42h0M62.76 337.86h0M66.53 331.13h0M63.31 331.83h0M61.57 336.13h0M67.5 337.36h0M65.19 329.34h0M67.52 334.49h0M59.63 337.14h0M67.6 337.77h0M63.46 333.73h0M63.15 329.24h0M65.43 331.04h0M60.08 334.92h0M68.35 334.65h0M63.36 328.49h0M60.76 337.84h0M62.98 336.65h0M66.53 338.42h0M61.32 336.54h0M64.42 328.78h0M61.94 335.19h0M62.87 333.49h0M59.9 333.7h0M64.71 338.24h0M63.97 329h0M61.16 334.75h0M67.24 336.75h0M62.36 330.76h0M64.5 330.41h0M64 327.61h0M70.33 337.03h0M69.02 337.56h0M69.68 334.22h0M68.37 330.66h0M68.36 333.72h0M69.36 336.83h0M68.95 330.65h0M68.7 333.97h0M70.46 333.53h0M68.72 335.36h0M69.3 325.77h0M77.28 334.4h0M78.24 335.09h0M75.79 337.09h0M78.91 331.24h0M78.94 332.71h0M75.85 333.48h0M77.05 334.48h0M79.24 333.44h0M79.38 338.45h0M75.41 334.19h0M79.94 338.2h0M76.32 335.33h0M76.2 336.85h0M80.84 335.82h0M77.44 332.04h0M76.22 336.88h0M76.08 333.41h0M75.75 337.53h0M78 329.07h0M93.78 332.17h0M91.48 338.14h0M92.83 330.59h0M89.48 336.12h0M92.82 330.47h0M93.31 333.22h0M89.45 331.87h0M92.79 332.51h0M91.29 334.89h0M89.05 337.95h0M89.84 330.55h0M92.74 333.14h0M91.05 327.29h0M94.04 337.23h0M89.46 334.27h0M93.05 329.96h0M93.28 331.81h0M92.82 334.58h0M90.05 332.49h0M89.79 329.84h0M92.49 335.15h0M94.35 336.14h0M89.44 335.55h0M92.43 330.13h0M89.69 336.66h0M91.5 324.67h0M96.79 334.07h0M98.31 337.45h0M97.96 328.26h0M96.97 330.41h0M99.17 336.5h0M98.93 337.91h0M100.97 327.99h0M101.89 336.15h0M97.46 333.62h0M99.59 325.95h0M96.91 332.43h0M100.87 328.96h0M101.83 332.75h0M97.6 329.95h0M96.2 338.55h0M96.86 336.13h0M97.6 335.33h0M97.95 330.56h0M97.81 332.36h0M96.27 330.53h0M101.16 330.05h0M98.68 325.42h0M96.29 336.41h0M98.25 337.53h0M95.78 333.51h0M98.39 326.8h0M98.41 324.89h0M96.03 331.9h0M100.64 333.02h0M100.14 336.54h0M95.53 333.57h0M101.36 334.56h0M97.33 336.51h0M97.17 335.91h0M97.39 330.8h0M97.77 334.08h0M99.48 337.32h0M97.29 326.66h0M97.48 330.47h0M102.42 331.85h0M100.59 330.84h0M97.18 336.76h0M96.24 337.71h0M101.04 329.99h0M96.98 329.53h0M99 321.01h0M110.35 337.52h0M113.36 333.41h0M111.7 333.12h0M110.44 335.62h0M110.48 335.15h0M110.87 336.72h0M113.1 335.14h0M113.28 333.96h0M110.29 336.8h0M110.39 337.27h0M112 329.8h0M139.14 335.67h0M136.32 336.75h0M139.05 330.63h0M135.6 334.25h0M140.09 331.6h0M134.69 332.22h0M135.39 332.66h0M135.5 329.78h0M139.12 335.27h0M140.05 332.22h0M138.75 337.08h0M134.52 332.19h0M134.73 333.92h0M136.48 336.95h0M138.12 336.92h0M139.7 337.7h0M136.69 331.35h0M138.41 324.53h0M138 325.3h0M137.46 324.42h0M137.48 332.65h0M138.66 333.41h0M134.82 334.17h0M139.23 330.15h0M135.49 333.69h0M138.34 324.69h0M137.58 324.87h0M138.06 327.47h0M138.3 336.88h0M139.2 328.86h0M139 327.83h0M135.94 330.69h0M137.87 323.92h0M137.95 323.45h0M139.84 337.74h0M138.48 331.88h0M138.26 326.45h0M136.56 332.03h0M140.19 336.1h0M137.5 321.01h0M144.38 330.88h0M144.31 329.9h0M142.41 334.47h0M141.4 332.64h0M146.61 333.75h0M142.8 333.01h0M141.4 336.69h0M143.36 337.08h0M142.15 333.04h0M139.26 336.45h0M146.94 337.34h0M146.12 335.55h0M143.31 335.01h0M140.73 333.27h0M142.01 329.46h0M142.12 334.38h0M140.21 336.97h0M141.81 330.41h0M146.06 332.45h0M141.47 334.98h0M146.01 333.27h0M143.85 329.56h0M146.75 336.18h0M139.07 334.35h0M139.83 336.6h0M143.52 330.87h0M144.89 332.46h0M146.88 334.76h0M143 326.87h0M152.03 334.18h0M147.08 334.66h0M148.03 335.53h0M150.11 335.03h0M148.13 336.21h0M148.44 333.48h0M151.49 332.11h0M152.47 338.02h0M151.24 334.53h0M151.53 338.33h0M153 334.2h0M146.95 336.41h0M148.49 334.62h0M147.22 335.16h0M149.67 330.59h0M149.86 338.44h0M153.49 337.12h0M147.5 333.46h0M150 329.8h0M153.03 327.01h0M151.69 333.93h0M154.93 335.2h0M151.97 332.01h0M151.1 335.48h0M152.63 337.16h0M154.8 334.83h0M152.97 327.21h0M152.44 329.61h0M152.3 330.6h0M152.98 337.57h0M153.13 328.3h0M151.8 332.27h0M151.25 336.43h0M153 326.87h0M164.08 329.13h0M165.63 334.2h0M165.89 333.92h0M163.44 330.41h0M163.09 329.85h0M163.9 329.86h0M165.71 335.5h0M164.73 334.02h0M163.28 330.01h0M163.89 336.38h0M165.7 334.18h0M164.01 332.17h0M162.64 331.47h0M162.18 336.45h0M164 325.41h0M184.36 329.53h0M187.48 334.82h0M179.76 335.53h0M186.17 333.96h0M187.11 331.33h0M180.21 334.8h0M179.12 335.3h0M185.98 334.7h0M185.02 333.49h0M188.8 333.53h0M187.76 337.48h0M185.03 328.65h0M187.34 332.58h0M188.3 337.08h0M180.76 332.37h0M186.42 336.91h0M183.04 328.43h0M186.9 331.12h0M183 331.93h0M182.37 329.15h0M186.12 336.52h0M186.36 333.93h0M188.27 336.22h0M181.13 332.23h0M188.25 337.86h0M179.03 335.18h0M181.36 333.99h0M181.14 331.87h0M186.85 332.23h0M187.53 337.09h0M181.22 330.88h0M181.39 336.88h0M184 325.41h0M215.39 338.03h0M223.64 333.77h0M216.57 334.89h0M219.77 329.92h0M216.61 329.35h0M220.54 331.49h0M219.26 332.63h0M219.29 329.18h0M215.71 334.61h0M218.83 328.82h0M212.94 338.31h0M218.21 336.47h0M223.45 337.02h0M217.49 329.62h0M217.36 332.26h0M223.73 335.31h0M219.15 337.93h0M218.45 332.51h0M217.8 334.28h0M223.24 333.17h0M218.37 335.11h0M218.68 329.27h0M215.38 330.13h0M218.93 330.48h0M214.68 336.68h0M221.73 336.03h0M216.49 329h0M215.28 337.36h0M213.35 335.64h0M223.45 335.99h0M220 330.12h0M212.66 336.13h0M218.38 330.53h0M215.02 332.83h0M218.91 333.16h0M223.63 333.97h0M219.41 335.92h0M219.39 336.85h0M213.99 332.97h0M212.92 333.31h0M212.2 334.57h0M221.48 332.57h0M221.28 336.41h0M221.07 331.54h0M215.55 331.29h0M212.27 334.66h0M219.36 338.23h0M216.25 333.79h0M222.03 333.69h0M220.97 333.58h0M218.69 331.08h0M218.78 334.3h0M216.25 337h0M220.87 332.38h0M218 326.87h0M227.21 337.97h0M230.13 331.5h0M226.43 330.18h0M226.64 329.71h0M227.86 337.03h0M226.38 334.82h0M231.97 332.58h0M231.5 334.52h0M225.51 334.74h0M226.54 331.7h0M232.38 337.11h0M225.78 331.29h0M228.19 329.26h0M230.26 336.62h0M231.96 335.43h0M224.38 337.46h0M230.28 333.46h0M223.28 334.29h0M232.73 337.89h0M230.8 336.42h0M228.73 328.64h0M231.59 335.79h0M228.6 332.73h0M230.69 331.27h0M223.07 337.25h0M226.55 329.85h0M223.98 333.13h0M232.45 335.76h0M228.72 328.57h0M229.85 330.11h0M230.62 333.47h0M230.19 330.93h0M224.69 333.58h0M231.62 332.02h0M230.17 333.86h0M231.81 334.33h0M228 326.87h0M252.71 336.33h0M254.29 333.87h0M256.8 334.33h0M252.03 336.71h0M256.47 337.04h0M256.43 334.9h0M253.46 333.91h0M253.2 338.58h0M254.8 335.21h0M257.65 335.26h0M255 331.27h0M273.3 338.24h0M270.67 334.63h0M268.96 338.14h0M269.61 335.08h0M275.48 336.21h0M274.59 338.05h0M265.72 336.33h0M271.39 336.3h0M270.12 332.31h0M268.58 333.5h0M264.87 338.41h0M271.78 337.84h0M270.74 334.47h0M273.5 335.99h0M272.47 335.03h0M271.38 335.56h0M272.05 335.3h0M266.5 337.48h0M270 332h0M305.07 328.51h0M302.09 332.81h0M307.36 332.48h0M309.83 335.27h0M300.86 335.1h0M306.78 337.28h0M302.39 331.32h0M309.84 337.88h0M302.74 335.26h0M302.96 333.56h0M305.76 334.16h0M301.92 337.63h0M300.44 334.69h0M307.67 336.28h0M303.85 328.62h0M309.24 334.9h0M302.11 332.46h0M307.52 337.52h0M300.22 338.08h0M307.29 332.43h0M301.35 332.48h0M308.01 337.87h0M306.19 334.83h0M302.55 336.94h0M307.88 331.88h0M300.28 336.24h0M301.62 336.97h0M309.47 334.72h0M304.73 330.82h0M307.53 332.11h0M303.26 330.81h0M300.13 335.63h0M303.41 332.77h0M303.57 330.35h0M300.02 334.77h0M302.39 335.18h0M300.79 337.25h0M300.35 334.04h0M304.25 334.13h0M305 326.87h0M313.51 336.72h0M316.66 332.77h0M313.43 331.49h0M314.96 324.83h0M320.45 332.53h0M319.21 328.76h0M318.18 333.43h0M319.04 325.21h0M318.71 330.54h0M313.95 327.56h0M317.88 326.12h0M314.33 326.38h0M315.27 331.17h0M315.73 321.93h0M313.73 328.93h0M318.13 326.58h0M318.25 325.01h0M314.14 337.17h0M313.54 333.77h0M313.62 330.45h0M317.29 336.08h0M313.6 332.08h0M318.78 327.58h0M317.08 319.68h0M320.37 333.04h0M317 317.34h0M329.4 336.43h0M326.37 330.45h0M325.04 331.09h0M329.27 332.56h0M326.76 333.8h0M325.24 334.82h0M328.71 337.23h0M325.25 335.09h0M326.01 331.73h0M329.07 337.7h0M324.54 333.4h0M327.97 334.64h0M325.58 337.85h0M326.89 328.03h0M324.34 336.65h0M324.53 334.5h0M324.37 336.37h0M325.61 330.11h0M327 326.14h0M69.3 326.14h0M99.2 321.01h0M98 323.21h0M112.4 329.8h0M137.5 321.01h0M138.5 323.94h0M152.8 326.87h0M163.8 325.41h0M189 316.61h0M187.5 318.08h0M211.4 315.14h0M229 321.74h0M224.9 326.14h0M316.2 317.34h0M314 322.47h0M319.5 321.74h0M328 326.87h0M318 312.21h0M203 312.95h0M200 321.01h0M206.8 318.81h0M195 324.67h0M197 322.47h0" stroke="#0a0a8c" stroke-width="1.9" stroke-linecap="round" fill="none"/>
<path d="M181.3 321.01h0M183 323.94h0M185 326.14h0M186 319.54h0M205 306.35h0M204 326.87h0M205.3 290.8h0" stroke="#a6d8ee" stroke-width="1.9" stroke-linecap="round" fill="none"/>
<path d="M192 320.28h0M193.5 321.74h0M195.5 321.01h0M190.5 318.81h0" stroke="#ffee00" stroke-width="1.9" stroke-linecap="round" fill="none"/>
<path d="M193 310.47h0M194.5 311.32h0M196 311.05h0M197.5 311.59h0M199 311.3h0M200.5 310.76h0M202 311.3h0M203.5 311.6h0M205 310.87h0M205.5 309.65h0" stroke="#ffa82a" stroke-width="1.52" stroke-linecap="round" fill="none"/>
<path d="M193.5 284.6h0M195 284.2h0M196.2 285.4h0M191.8 287.2h0M193 287.5h0M194.5 287h0M196 287.4h0M197.5 287.8h0M199 287.2h0M200.5 287.6h0M202 287.1h0M203.3 287.5h0M192.3 289.6h0M194 289.4h0M198 289.8h0M201 289.3h0M192.5 291.6h0M196.3 291.4h0M197.5 292h0M201 291.7h0M202.5 292.2h0M204 291.3h0M204.8 282.5h0M204.9 284h0M204.7 285.5h0M204.9 287h0M204.6 288.5h0M204.8 290h0M204.5 292.8h0M205 279.2h0M204.6 294.3h0M199.5 285.8h0M202.6 283.5h0" stroke="#f21414" stroke-width="1.9" stroke-linecap="round" fill="none"/>
<line x1="183" y1="285.1" x2="193" y2="285.1" stroke="#555" stroke-width="0.8"/>
<text x="183" y="287.1" font-size="6" font-weight="bold"  fill="#111" stroke="#111" stroke-width="0.12" text-anchor="end">chr5:136134855</text>
<rect x="324.4" y="279.5" width="14" height="32" fill="#fff" stroke="#8a8a8a" stroke-width="0.45"/>
<text x="325.7" y="283.7" font-size="3.6"  fill="#111"><tspan font-weight="bold">LD</tspan> (r²)</text>
<rect x="327.1" y="287" width="3.2" height="4.15" fill="#d8381c"/>
<rect x="327.1" y="291.15" width="3.2" height="4.15" fill="#f2aa1a"/>
<rect x="327.1" y="295.3" width="3.2" height="4.15" fill="#44d844"/>
<rect x="327.1" y="299.45" width="3.2" height="4.15" fill="#1eb0e0"/>
<rect x="327.1" y="303.6" width="3.2" height="4.15" fill="#3a2c9c"/>
<text x="331.8" y="287.7" font-size="3.3"  fill="#222">1</text>
<text x="331.8" y="291.8" font-size="3.3"  fill="#222">0.8</text>
<text x="331.8" y="295.9" font-size="3.3"  fill="#222">0.6</text>
<text x="331.8" y="300" font-size="3.3"  fill="#222">0.4</text>
<text x="331.8" y="304.1" font-size="3.3"  fill="#222">0.2</text>
<text x="331.8" y="308.2" font-size="3.3"  fill="#222">0</text>
<rect x="37" y="276.7" width="306" height="63.8" fill="none" stroke="#a0a0a0" stroke-width="1"/>
<text x="44.8" y="272.6" font-size="10.5" font-weight="bold"  fill="#000" stroke="#000" stroke-width="0.3">Dopamine 3-O-sulfate</text>
<rect x="37" y="357.2" width="306" height="63.9" fill="#fff"/>
<line x1="37" y1="409.65" x2="343" y2="409.65" stroke="#f0f0f0" stroke-width="0.4"/>
<line x1="37" y1="391.55" x2="343" y2="391.55" stroke="#f0f0f0" stroke-width="0.4"/>
<line x1="37" y1="373.45" x2="343" y2="373.45" stroke="#f0f0f0" stroke-width="0.4"/>
<line x1="78.52" y1="357.2" x2="78.52" y2="421.1" stroke="#f0f0f0" stroke-width="0.4"/>
<line x1="141.12" y1="357.2" x2="141.12" y2="421.1" stroke="#f0f0f0" stroke-width="0.4"/>
<line x1="210.67" y1="357.2" x2="210.67" y2="421.1" stroke="#f0f0f0" stroke-width="0.4"/>
<line x1="280.22" y1="357.2" x2="280.22" y2="421.1" stroke="#f0f0f0" stroke-width="0.4"/>
<line x1="37" y1="418.7" x2="343" y2="418.7" stroke="#e2e2e2" stroke-width="0.6"/>
<line x1="37" y1="400.6" x2="343" y2="400.6" stroke="#e2e2e2" stroke-width="0.6"/>
<line x1="37" y1="382.5" x2="343" y2="382.5" stroke="#e2e2e2" stroke-width="0.6"/>
<line x1="37" y1="364.4" x2="343" y2="364.4" stroke="#e2e2e2" stroke-width="0.6"/>
<line x1="50.7" y1="357.2" x2="50.7" y2="421.1" stroke="#e2e2e2" stroke-width="0.6"/>
<line x1="106.34" y1="357.2" x2="106.34" y2="421.1" stroke="#e2e2e2" stroke-width="0.6"/>
<line x1="175.89" y1="357.2" x2="175.89" y2="421.1" stroke="#e2e2e2" stroke-width="0.6"/>
<line x1="245.44" y1="357.2" x2="245.44" y2="421.1" stroke="#e2e2e2" stroke-width="0.6"/>
<line x1="314.99" y1="357.2" x2="314.99" y2="421.1" stroke="#e2e2e2" stroke-width="0.6"/>
<line x1="37" y1="417.38" x2="343" y2="417.38" stroke="#c4c4c4" stroke-width="0.75" stroke-dasharray="2.6,1.8"/>
<line x1="34.8" y1="418.7" x2="37" y2="418.7" stroke="#666" stroke-width="0.5"/>
<text x="34.2" y="420.5" font-size="4.9"  fill="#444" text-anchor="end">0</text>
<line x1="34.8" y1="400.6" x2="37" y2="400.6" stroke="#666" stroke-width="0.5"/>
<text x="34.2" y="402.4" font-size="4.9"  fill="#444" text-anchor="end">100</text>
<line x1="34.8" y1="382.5" x2="37" y2="382.5" stroke="#666" stroke-width="0.5"/>
<text x="34.2" y="384.3" font-size="4.9"  fill="#444" text-anchor="end">200</text>
<line x1="34.8" y1="364.4" x2="37" y2="364.4" stroke="#666" stroke-width="0.5"/>
<text x="34.2" y="366.2" font-size="4.9"  fill="#444" text-anchor="end">300</text>
<path d="M59 419.65L59 417.71L59.8 417.7L60.6 417.87L61.4 417.73L62.2 417.69L63 417.9L63.8 417.76L64.6 417.7L65.4 417.73L66.2 417.71L67 417.85L67.8 417.7L68.6 417.84L69.4 417.9L70.2 417.88L71 417.82L71.8 417.82L72.6 417.84L73.4 417.8L74.2 417.79L75 417.88L75.8 417.78L76.6 417.79L77.4 417.81L78.2 417.79L79 417.69L79.8 417.7L80.6 417.81L81.4 417.89L82.2 417.86L83 417.84L83.8 417.8L84.6 417.85L85.4 417.83L86.2 417.89L87 417.79L87.8 417.79L88.6 417.85L89.4 417.77L90.2 417.68L91 417.69L91.8 417.82L92.6 417.89L93.4 417.81L94.2 417.89L95 417.79L95.8 417.79L96.6 417.83L97.4 417.88L98.2 417.8L99 417.8L99.8 417.69L100.6 417.73L101.4 417.87L102.2 417.72L103 417.76L103.8 417.88L104.6 417.84L105.4 417.73L106.2 417.89L107 417.74L107.8 417.8L108.6 417.85L109.4 417.79L110.2 417.76L111 417.72L111.8 417.7L112.6 417.76L113.4 417.75L114.2 417.9L115 417.76L115.8 417.73L116.6 417.75L117.4 417.87L118.2 417.82L119 417.82L119.8 417.7L120.6 417.83L121.4 417.89L122.2 417.71L123 417.76L123.8 417.76L124.6 417.75L125.4 417.9L126.2 417.8L127 417.74L127.8 417.8L128.6 417.71L129.4 417.84L130.2 417.68L131 417.71L131.8 417.83L132.6 417.79L133.4 417.76L134.2 417.76L135 417.72L135.8 417.62L136.6 417.51L137.4 417.44L138.2 417.63L139 417.48L139.8 417.25L140.6 417.29L141.4 417.31L142.2 417.53L143 417.18L143.8 417.53L144.6 417.38L145.4 417.46L146.2 417.2L147 417.46L147.8 417.09L148.6 417.19L149.4 417.57L150.2 417.48L151 417.28L151.8 417.03L152.6 417.05L153.4 416.83L154.2 417.16L155 416.61L155.8 417.12L156.6 416.47L157.4 416.59L158.2 416.69L159 416.76L159.8 417.03L160.6 417.25L161.4 417.18L162.2 417.44L163 417.35L163.8 417.06L164.6 417L165.4 417.48L166.2 417.36L167 417.1L167.8 417.43L168.6 417.27L169.4 417.47L170.2 417.01L171 417.01L171.8 417.34L172.6 417.07L173.4 417.24L174.2 417.23L175 416.67L175.8 416.38L176.6 416.52L177.4 417.05L178.2 416.65L179 416.17L179.8 415.93L180.6 416.03L181.4 416.99L182.2 416.32L183 416.96L183.8 417.04L184.6 417.14L185.4 416.91L186.2 417.02L187 416.78L187.8 416.8L188.6 416.96L189.4 417.11L190.2 417.11L191 417.09L191.8 416.99L192.6 417.2L193.4 417.1L194.2 417.07L195 417.16L195.8 417.05L196.6 417.28L197.4 417.19L198.2 416.87L199 416.8L199.8 417.01L200.6 417.17L201.4 416.8L202.2 417.28L203 416.89L203.8 416.98L204.6 417.41L205.4 417.02L206.2 417.37L207 417.35L207.8 417.07L208.6 417.38L209.4 417.49L210.2 417.35L211 417.33L211.8 417.43L212.6 417.6L213.4 417.65L214.2 417.42L215 417.41L215.8 417.74L216.6 417.42L217.4 417.57L218.2 417.62L219 417.72L219.8 417.5L220.6 417.63L221.4 417.51L222.2 417.63L223 417.59L223.8 417.64L224.6 417.41L225.4 417.54L226.2 417.45L227 417.73L227.8 417.58L228.6 417.45L229.4 417.55L230.2 417.53L231 417.6L231.8 417.6L232.6 417.65L233.4 417.57L234.2 417.64L235 417.49L235.8 417.65L236.6 417.47L237.4 417.5L238.2 417.46L239 417.38L239.8 417.51L240.6 417.63L241.4 417.4L242.2 417.55L243 417.43L243.8 417.59L244.6 417.57L245.4 417.42L246.2 417.34L247 417.52L247.8 417.31L248.6 417.4L249.4 417.61L250.2 417.66L251 417.49L251.8 417.4L252.6 417.35L253.4 417.67L254.2 417.3L255 417.43L255.8 417.51L256.6 417.45L257.4 417.68L258.2 417.35L259 417.33L259.8 417.66L260.6 417.59L261.4 417.62L262.2 417.62L263 417.31L263.8 417.36L264.6 417.6L265.4 417.69L266.2 417.67L267 417.67L267.8 417.62L268.6 417.51L269.4 417.68L270.2 417.56L271 417.59L271.8 417.4L272.6 417.34L273.4 417.57L274.2 417.32L275 417.6L275.8 417.6L276.6 417.69L277.4 417.69L278.2 417.31L279 417.66L279.8 417.36L280.6 417.58L281.4 417.51L282.2 417.66L283 417.47L283.8 417.32L284.6 417.39L285.4 417.42L286.2 417.38L287 417.55L287.8 417.61L288.6 417.72L289.4 417.6L290.2 417.7L291 417.54L291.8 417.7L292.6 417.67L293.4 417.41L294.2 417.55L295 417.55L295.8 417.41L296.6 417.49L297.4 417.41L298.2 417.55L299 417.57L299.8 417.73L300.6 417.37L301.4 417.65L302.2 417.41L303 417.56L303.8 417.45L304.6 417.55L305.4 417.54L306.2 417.62L307 417.72L307.8 417.66L308.6 417.74L309.4 417.55L310.2 417.67L311 417.48L311.8 417.58L312.6 417.68L313.4 417.68L314.2 417.38L315 417.38L315.8 417.42L316.6 417.71L317.4 417.73L318.2 417.58L319 417.63L319.8 417.5L320.6 417.51L321.4 417.5L322.2 417.46L323 417.61L323.8 417.57L324.6 417.65L325.4 417.48L326.2 417.65L327 417.66L327.8 417.65L328.6 417.68L329.4 417.7L330 419.65Z" fill="#0a0a8c"/>
<path d="M213 419.6L213 413.2L237 413.2L237 419.6Z" fill="#0a0a8c"/>
<path d="M59.1 418.27h0M59.16 418.7h0M59.47 418.09h0M60.45 417.98h0M60.15 418.42h0M60.43 418.69h0M61.25 418.27h0M61.54 418.69h0M61.26 418.39h0M62.65 418h0M62.46 418.48h0M62.52 418.37h0M63.15 418.16h0M63.52 418.69h0M63.64 418.68h0M64.59 418.66h0M64.35 417.88h0M64.45 418.69h0M65.43 418.7h0M65.43 418h0M65.32 418.54h0M66.46 418.66h0M66.49 418.17h0M66.63 418.7h0M67.32 418.22h0M67.15 418.19h0M67.38 418.04h0M68.09 418.49h0M68.55 418.5h0M68.19 418.18h0M69.27 417.95h0M68.97 418.35h0M69.65 417.88h0M70.21 418.16h0M70.05 418.62h0M70.51 418.05h0M71.06 418.5h0M71.5 418.08h0M71.29 417.91h0M72.31 417.98h0M71.92 418.06h0M72.55 418.39h0M73.68 418.19h0M73.15 418.28h0M73.58 418.15h0M74.43 418.21h0M73.9 418.69h0M74.18 418.61h0M75.1 418.08h0M74.93 418.69h0M75.08 417.8h0M76.6 418.56h0M76.14 417.87h0M76.22 418.28h0M77.65 418.58h0M77.44 418.7h0M77.52 418.12h0M78.63 418.33h0M78.42 418.05h0M78.61 418.69h0M79.02 418.65h0M79.3 418.56h0M79.25 418.55h0M80.09 418.56h0M80.44 418.17h0M80.62 418.69h0M81.16 418.65h0M81.59 418.1h0M81.6 417.86h0M82.63 418.36h0M82.57 418.07h0M82.66 417.82h0M83.27 418.43h0M83.57 418.13h0M83.19 418.15h0M83.99 418.69h0M84.62 417.95h0M84.2 418.7h0M85.3 418.28h0M85.59 418.69h0M85.15 418.26h0M86.2 418.42h0M86.61 418.26h0M86.15 418.32h0M87.57 418.54h0M87.18 418.14h0M87.38 417.92h0M88.62 417.8h0M88.26 418.69h0M88.66 418.7h0M89.07 418.62h0M89.64 418.36h0M89.59 418.24h0M90.35 418.24h0M90.36 418.44h0M90 418.7h0M91.05 417.8h0M91.31 418.57h0M90.98 418.13h0M92.38 418.07h0M92.19 418.69h0M92.49 417.88h0M93.41 418.65h0M93.23 418.69h0M93.69 418.55h0M94.68 418.39h0M94.5 418.41h0M94.6 418.7h0M95.2 418.3h0M95.62 418.03h0M94.91 418.65h0M96.6 418.25h0M96.36 418.67h0M95.94 418.69h0M97.62 418.4h0M97.47 418h0M97.07 418.17h0M98.02 418.44h0M98.02 418.62h0M97.92 418.46h0M99.45 418.66h0M99.09 418.3h0M99.4 418.62h0M100.52 418.69h0M100.62 418.06h0M100.53 418.65h0M101.09 418.36h0M101.09 418.04h0M101.6 418.64h0M102.48 417.83h0M102.27 418.67h0M102.07 418.31h0M103.24 418.02h0M103.29 418.39h0M103.6 418.7h0M104.62 417.98h0M104.23 418.34h0M104.04 418.55h0M105.33 418.62h0M105.48 418.48h0M105.08 417.8h0M106.19 417.98h0M106.15 418.46h0M106.26 418.26h0M107.37 418.66h0M107.14 418.67h0M107.57 418.48h0M108.37 418.11h0M108.12 418.43h0M108.28 418.38h0M109.3 418.39h0M109.18 418.61h0M108.96 418.5h0M110.49 418.68h0M110.46 418.54h0M110.42 418.01h0M111.57 418.43h0M110.93 418.35h0M111.28 418.09h0M112.47 418.39h0M112.66 418.21h0M112.03 418.28h0M113.5 418.24h0M113.45 418.7h0M113.44 418.27h0M114.16 418.49h0M114.08 418.33h0M114.03 418.07h0M115.42 418.35h0M115.01 418.58h0M115.68 417.93h0M116.55 418.28h0M116.12 418.46h0M115.92 418.38h0M117.53 418.35h0M117.65 418.55h0M117.1 418.67h0M118.35 418.29h0M117.91 417.99h0M117.95 418.07h0M119.4 418.05h0M119.61 418.7h0M119.3 418.58h0M120.2 417.88h0M120.07 418.69h0M120.01 418.14h0M121.08 418.56h0M121 418.46h0M121.63 417.84h0M122.02 418.67h0M122.68 418.35h0M122.02 418.1h0M122.93 418.02h0M123.48 418.4h0M123.4 418.47h0M124.04 418.18h0M124.14 418.67h0M124.03 418.68h0M125.16 418.69h0M125.03 418.2h0M124.99 418.44h0M126.19 418.63h0M126.06 417.88h0M126.59 418.67h0M127.23 418.55h0M127.29 418.45h0M127.44 418.7h0M128.03 417.94h0M128.53 417.95h0M128.42 418.27h0M129.4 418.45h0M129.53 417.93h0M129.61 418.35h0M130.25 418.7h0M130.41 418.7h0M130.31 418.23h0M130.94 418.66h0M131.31 418.08h0M131.45 418.4h0M132.42 418.65h0M132.64 418.38h0M132.65 418.15h0M133.19 417.79h0M133.05 418.01h0M133.43 418.44h0M134.28 418.45h0M134.68 418.1h0M134.62 418.62h0M135.69 418.58h0M135.43 418.56h0M134.9 417.94h0M136.16 417.94h0M136.35 417.8h0M136.17 417.43h0M137.34 417.94h0M137.59 417h0M137.29 416.89h0M137.94 417.32h0M137.97 418.22h0M138.14 418.24h0M139.46 418.06h0M139.37 418.7h0M139.2 418.62h0M140.38 417.14h0M140.61 418.19h0M139.97 417.33h0M141.19 418.16h0M141.57 418.69h0M140.95 418.42h0M142.53 418.47h0M142.31 418.54h0M142.32 418.05h0M143.45 417.39h0M143.12 417.7h0M143.15 417.71h0M144.46 417.6h0M143.94 416.81h0M144.55 417.18h0M145.38 418.41h0M145.49 417.07h0M145.18 416.85h0M146.59 417.1h0M146.31 418.46h0M145.92 418.13h0M147.53 418.66h0M147.07 416.98h0M147.6 417.77h0M148.13 418.66h0M148.39 417.09h0M148.42 416.72h0M149.42 417.32h0M149.11 417.08h0M149.63 418.58h0M150.59 418.5h0M150.11 418.5h0M150.03 418.67h0M151.14 416.25h0M150.95 416.26h0M151.4 418.17h0M152.07 416.14h0M152.28 418.04h0M151.95 418.28h0M153.42 418.07h0M153.32 417.8h0M153.11 418.48h0M154 417.59h0M154.61 418.2h0M154.62 415.97h0M155.65 417.69h0M154.98 417.35h0M155.68 417.6h0M156.17 418.09h0M156.2 418.62h0M156.68 418.59h0M157.13 417.44h0M157.36 418.05h0M157.52 418.46h0M158.27 418.09h0M158.26 415.12h0M158.52 417.92h0M159.46 415.64h0M159.64 417.65h0M159.67 418.45h0M160.04 417.17h0M160.05 418.5h0M160.47 418.29h0M161.37 417.26h0M161.07 418.08h0M161.31 418.66h0M162.5 417.57h0M161.99 418.48h0M161.98 418.4h0M163.36 418.54h0M163.11 417.54h0M162.97 416.57h0M164.62 418.4h0M164.31 417.45h0M164.47 418.28h0M165.04 417.86h0M165.69 417.76h0M165.08 416.74h0M166 418.51h0M166.49 417.71h0M166.44 416.53h0M167.69 418.19h0M167.38 418.69h0M167.24 417.37h0M168.61 416.92h0M168.24 417.87h0M167.92 416.78h0M168.94 418.69h0M169.33 418.07h0M169.2 418.17h0M170.01 418.21h0M170.2 416.54h0M170.03 417.77h0M170.99 418.58h0M171 416.96h0M171.35 418.32h0M172.3 418.64h0M172.5 417.94h0M172.09 417.13h0M173.64 418.58h0M173.62 418.7h0M173.52 418.14h0M174.37 416.33h0M174.28 417.88h0M174.68 418.68h0M174.94 415.31h0M175.09 415.34h0M175.64 418.68h0M176.11 418.42h0M176.5 416.25h0M175.96 418.05h0M176.96 416.21h0M177.26 416.08h0M177.04 416.56h0M178.65 417.62h0M178.31 418.59h0M178.37 415.02h0M179.69 417.27h0M179.49 416.03h0M179.53 415.53h0M179.93 418.1h0M180.32 418.67h0M180.05 415.89h0M181.08 417.69h0M181.11 418.35h0M181.09 417.49h0M182.46 417.48h0M181.98 416.58h0M182.33 417.72h0M183.19 418.16h0M183.43 418.28h0M182.93 418.03h0M184.58 417.78h0M183.97 418.65h0M184.05 418.66h0M185.4 418.28h0M185.44 417.93h0M184.98 418.3h0M186.35 415.71h0M185.95 417.76h0M186.61 417.25h0M186.95 418.58h0M187.43 417.85h0M187.05 418.69h0M188.48 415.75h0M188.53 416.63h0M188.54 418.65h0M189.08 418.41h0M189.11 416.09h0M189.56 418.53h0M190.56 418.06h0M190.25 418.55h0M190.01 418.53h0M191.24 417.68h0M191.63 418.43h0M191.11 417.31h0M192.55 418.61h0M192.08 418.64h0M192.6 418.57h0M193.14 418.65h0M193.58 417.53h0M193.35 416.99h0M194.25 416.26h0M194.53 416.18h0M194.33 416.65h0M195.06 418.28h0M195 417.07h0M195.35 418.18h0M196.4 416.03h0M196 417.31h0M196.24 418.69h0M196.93 417.51h0M197 418.32h0M197.26 417.41h0M198.28 418.13h0M198.6 417.15h0M198.34 417.68h0M199.56 418.32h0M199.11 418.69h0M199.45 418.26h0M200.59 417.06h0M200.26 417.13h0M200.19 418.65h0M201.56 417.32h0M201.25 416.06h0M201.1 417.04h0M201.91 418.16h0M202.17 417.66h0M202.25 418.05h0M203.61 417.47h0M203.14 416.53h0M203.17 416.82h0M204.48 417.88h0M204.05 417.03h0M204.06 418.63h0M204.93 416.47h0M205.17 418.6h0M205.67 418.04h0M206.02 418.36h0M206.41 418.58h0M206.18 417.26h0M207.44 418.67h0M206.93 418.46h0M206.94 418.56h0M208.02 418.16h0M208.31 417.26h0M208.12 418.64h0M209.7 418.04h0M209.69 416.8h0M209.05 418.27h0M210.49 417.52h0M210.16 418.65h0M209.93 418.64h0M211.07 417.78h0M211.36 418.04h0M210.98 418.55h0M212.58 417.87h0M212.28 418.55h0M212.61 417.74h0M213.36 418.65h0M213.58 418.2h0M213.27 418.67h0M214.25 418.55h0M214.63 417.27h0M214.08 418.7h0M215.22 418.45h0M215.24 417.97h0M215.09 418.45h0M216.32 418h0M216.14 418.14h0M216.47 418.27h0M216.91 418.27h0M217.27 417.95h0M217.04 418.06h0M218.28 418.06h0M218.03 417.35h0M218.68 417.35h0M219.5 417.77h0M219.6 417.39h0M219.6 418.48h0M219.95 417.89h0M220.05 417.47h0M220.23 418.7h0M221.64 418.29h0M221.19 418.43h0M220.98 417.86h0M221.99 418.18h0M222.33 418.5h0M222.21 418.57h0M223.38 417.59h0M223.12 418.13h0M223.39 417.76h0M224.57 417.85h0M224.69 418.41h0M224.01 417.99h0M224.99 417.93h0M224.92 418.62h0M225.08 417.48h0M226.7 418.7h0M226.33 418.59h0M226.11 418.42h0M227.46 418.61h0M227.63 418.62h0M226.95 417.66h0M228.61 418.4h0M228.22 418.47h0M228.34 418.69h0M229.33 417.69h0M229.04 418.68h0M229.55 418.6h0M230.46 418.22h0M230.43 417.75h0M230.13 417.54h0M231.47 418.17h0M230.99 417.82h0M231.14 418.52h0M232.68 418.59h0M232.65 417.71h0M232.44 417.62h0M233.16 417.8h0M233.58 418.65h0M233.34 418.23h0M233.95 418.62h0M233.96 417.4h0M234.37 418.02h0M235.31 417.9h0M235.55 418.63h0M235.62 418.68h0M235.92 417.37h0M236.08 418.03h0M236.56 418.67h0M237.09 418.28h0M237.15 418.6h0M237.38 417.98h0M238.2 418.64h0M237.92 417.32h0M237.94 417.75h0M239.44 417.72h0M239.49 418.45h0M239.06 418.67h0M240.38 417h0M240.34 416.98h0M239.95 418.7h0M241.15 418.46h0M241.43 417.04h0M241.38 418.13h0M242.21 417.22h0M242.2 418.02h0M242.56 417.42h0M243.08 417.07h0M243.66 418.48h0M243.01 418.09h0M243.94 418.43h0M244.25 418.66h0M244.27 417.47h0M245.29 418.37h0M245.51 417.86h0M245.47 417.46h0M246.03 418.29h0M246.63 418.12h0M246.03 417.1h0M247.24 417.54h0M247.68 418.58h0M247.66 418.55h0M248.1 417.8h0M248.62 417.98h0M248.18 418.49h0M249.13 418.64h0M249.57 417.93h0M249.55 418.42h0M250.14 417.28h0M250.01 417.48h0M250.35 418.02h0M251.46 417.22h0M251.44 418.6h0M251.68 418.66h0M252.27 418.23h0M252.47 417.38h0M252.58 418.23h0M253.04 418.61h0M253.15 417.22h0M253.25 417.83h0M253.98 418.47h0M254.57 417.66h0M254.37 418.61h0M255.42 418.57h0M254.98 418.15h0M255.6 417.01h0M256.61 418.22h0M255.98 417.83h0M256.58 418.24h0M257.4 417h0M257.65 417.94h0M257.18 418.6h0M258.55 418.65h0M258.03 417.02h0M258.1 418.44h0M259.54 417.46h0M259.36 418.68h0M259.06 417.24h0M260.1 418.56h0M260.11 417.41h0M259.9 418.59h0M261.08 417.2h0M261.6 418.52h0M261.5 418.28h0M261.99 417.34h0M262.26 417.62h0M261.92 418.15h0M263.18 418.54h0M263.21 418.43h0M263.33 417.84h0M264.23 418.54h0M264.55 417.91h0M264.44 417.62h0M265.32 417.98h0M265.12 417.6h0M265.62 417.44h0M266.07 417.46h0M266.07 418.69h0M266.62 417.12h0M267.31 417.01h0M267.45 418.64h0M267.24 417.27h0M268.11 418.7h0M268.03 418.16h0M268.55 418.58h0M269.25 417.33h0M269.65 417.88h0M269.21 418.62h0M270.14 418.7h0M270.48 418.34h0M270.09 418.11h0M270.94 418.68h0M270.93 418.67h0M271.54 418.46h0M272.03 417.78h0M272.41 418.66h0M272.14 417.03h0M273.63 417.58h0M273.39 417.74h0M273.49 417.89h0M273.99 417.3h0M274.29 418.21h0M273.99 418.24h0M275.2 417.23h0M275.28 418.57h0M275.2 417.73h0M276.34 418.12h0M276.37 417.46h0M276.11 417.86h0M277.02 417.24h0M277.39 418.33h0M277.38 418.37h0M278.02 418.6h0M278.57 418.49h0M277.91 418.64h0M279.39 418.67h0M279.53 417.84h0M279.25 417.28h0M279.98 417.63h0M280.22 417.55h0M280.55 418.15h0M281.19 417.53h0M280.97 417.55h0M281.3 418.69h0M282.55 417.9h0M282.38 418.06h0M282.13 418.68h0M283.25 417.14h0M283.15 418h0M283.35 417.16h0M284.33 417.13h0M284.14 417.87h0M283.99 418.68h0M285.36 418.28h0M285.57 418.56h0M285.44 417.42h0M286.36 418.48h0M286.27 418.7h0M286.34 418.43h0M287.31 417.91h0M287.31 418.66h0M287.19 418.41h0M288.57 418.44h0M288.15 418.48h0M288.63 418.53h0M289.38 418.15h0M289.09 417.99h0M289.27 418.28h0M290.59 417.23h0M290.01 417.57h0M290 418.09h0M290.91 417.56h0M291.46 418.52h0M291.45 418.39h0M292.22 417.28h0M292.42 418.6h0M292.54 418.47h0M293.41 418.59h0M293.24 418.12h0M293.67 417.36h0M294.45 418.34h0M294.43 418.58h0M294.68 418.07h0M295.43 418.49h0M295.22 418.33h0M295.01 418.35h0M296.17 418.16h0M295.93 418.08h0M296.45 418.67h0M297.35 418.67h0M297.19 418.61h0M297.61 417.64h0M298.17 418.25h0M298.69 418h0M298.05 417.39h0M299.04 418.1h0M299.61 418.67h0M299.28 418.13h0M300.32 417.46h0M300.34 418.63h0M300.55 417.18h0M301.13 417.21h0M301.06 418.67h0M301.66 417.33h0M302.27 418.56h0M302.41 418.28h0M301.98 417.64h0M303.22 417.28h0M303.37 418.54h0M303.24 418.25h0M303.97 417.89h0M304.07 418.27h0M304.36 418.68h0M305.57 418.69h0M305.37 417.69h0M305.37 417.96h0M306.29 417.43h0M306.22 418.63h0M306.27 417.41h0M307.03 418.42h0M307.69 418.67h0M307.43 417.65h0M308.25 418.43h0M308.13 418.59h0M307.94 417.87h0M309.31 418.19h0M309.1 418.69h0M309.65 417.75h0M310.12 418.52h0M310.32 418.3h0M310.27 418.28h0M311.64 418.09h0M311.04 417.86h0M311.49 418.65h0M312.47 417.89h0M312.07 418.58h0M312.05 417.9h0M313.48 418.44h0M312.94 418.23h0M313.55 417.56h0M314.26 418.68h0M313.92 418.68h0M314.49 417.46h0M314.97 418.2h0M315.01 418.55h0M315.23 418.69h0M316.4 418.43h0M315.95 418.33h0M315.91 417.47h0M317.53 418.69h0M317.08 418.31h0M316.92 417.23h0M318.58 417.56h0M318.29 417.53h0M318.2 418.22h0M319.2 418.66h0M319.67 418.46h0M319.23 417.99h0M320.3 417.31h0M319.98 418.17h0M320.43 418.66h0M321.25 418.21h0M320.92 418.2h0M321.28 417.8h0M322.58 417.73h0M322.38 418.48h0M322.38 418.33h0M322.9 417.93h0M323.62 418.25h0M323.27 418.42h0M324.4 418.66h0M323.94 418.04h0M324.09 418.48h0M325.22 417.62h0M325.54 417.49h0M325.24 417.95h0M326.41 417.5h0M326.02 418.09h0M326.14 417.81h0M326.94 417.46h0M327.43 418.5h0M327.47 418.63h0M328.51 417.88h0M328.63 418.55h0M328.11 418.62h0M329.57 417.82h0M329.47 417.79h0M329.52 417.3h0M180 366.21h0M181 368.02h0M184.6 371.28h0M192 372.18h0M209 366.21h0M180.5 379.24h0M183.5 378.34h0M184.5 383.4h0M181 387.21h0M184 388.11h0M190.5 387.21h0M189 389.2h0M190.5 390.1h0M214 375.26h0M219 376.16h0M225 371.28h0M227 373.09h0M229 375.08h0M220 383.22h0M224 385.03h0M213.5 383.22h0M214 390.28h0M217 388.29h0M209 383.22h0M206 391.55h0M207 397.88h0M206.5 400.96h0M178 394.81h0M179 396.98h0M180.5 398.79h0M182 401.32h0M183 402.41h0M186 403.5h0M187 406.75h0M179 407.48h0M181 408.75h0M178 410.56h0M183 411.46h0M188 412.91h0M192 410.74h0M195 407.84h0M199 413.27h0M200 415.08h0M203 416.53h0M176 411.1h0M177 412.18h0M190 398.79h0M185 396.98h0M188 395.53h0M194 401.5h0M196 404.22h0M201 406.03h0M205 408.75h0M208 410.01h0M210 411.82h0M206 414.18h0M197 415.99h0M197.35 417.21h0M204.6 412.67h0M177.84 415.21h0M207.68 411.78h0M179.83 415.15h0M206.08 411.71h0M184.98 415.67h0M194.06 412.83h0M175.99 417.34h0M205.86 418.15h0M205.75 413.59h0M202.39 415.97h0M176.7 415.61h0M209.36 414.53h0M175.54 412.28h0M206.42 415.08h0M202.53 414.89h0M205.81 417.35h0M207.72 417.13h0M185.67 412.11h0M176.06 412.04h0M183.82 412.14h0M180.91 415.22h0M193.82 412.75h0M211.22 411.61h0M226 392.08h0M226.8 391.97h0M227.6 391.82h0M228.4 391.75h0M229.2 392.08h0M230 391.98h0M230.8 391.81h0M231.6 391.71h0M232.4 392.02h0M233.2 392.01h0M214 393.31h0M214.8 393.37h0M215.6 393.57h0M216.4 393.59h0M217.2 393.7h0M218.8 393.32h0M219.6 393.74h0M220.4 393.78h0M222 393.75h0M222.8 393.7h0M223.6 393.58h0M224.4 393.57h0M214 394.62h0M215.6 394.85h0M216.4 395.02h0M217.2 394.84h0M218 394.6h0M218.8 394.91h0M219.6 395.03h0M220.4 395.05h0M221.2 394.85h0M222 394.86h0M222.8 394.7h0M223.6 394.8h0M224.4 395.08h0M214.8 395.46h0M215.6 395.64h0M216.4 395.59h0M217.2 395.77h0M218 395.76h0M218.8 395.81h0M219.6 395.83h0M221.2 395.66h0M226 397.82h0M226.8 398.02h0M227.6 398.15h0M228.4 397.72h0M229.2 397.87h0M230 397.68h0M231.6 398.15h0M233.2 397.78h0M214 398.47h0M214.8 397.98h0M215.6 398.41h0M216.4 398.16h0M217.2 398.27h0M218 398.31h0M218.8 398.35h0M219.6 398.11h0M220.4 398.01h0M221.2 398.21h0M222 398.39h0M222.8 398.24h0M215 400.48h0M216.6 400.67h0M217.4 400.41h0M218.2 400.25h0M219 400.53h0M219.8 400.57h0M220.6 400.53h0M222.2 400.65h0M223 400.6h0M223.8 400.64h0M224.6 400.4h0M225.4 400.49h0M226.2 400.51h0M227 400.62h0M227.8 400.51h0M229.4 400.3h0M230.2 400.16h0M231 400.44h0M231.8 400.28h0M216.6 401.88h0M217.4 401.52h0M218.2 401.92h0M219 401.76h0M219.8 401.83h0M220.6 401.66h0M221.4 401.62h0M222.2 401.95h0M223 401.72h0M223.8 401.76h0M224.6 401.65h0M225.4 401.84h0M226.2 401.65h0M227 401.76h0M227.8 401.46h0M228.6 401.49h0M229.4 401.55h0M230.2 401.58h0M231 401.61h0M231.8 401.72h0M216 404.53h0M216.8 404.32h0M217.6 404.37h0M218.4 404.43h0M219.2 404.69h0M220 404.78h0M220.8 404.42h0M221.6 404.39h0M222.4 404.59h0M223.2 404.36h0M224.8 404.84h0M216 406.89h0M216.8 407.31h0M217.6 407.23h0M218.4 407.07h0M220 406.97h0M220.8 407.04h0M221.6 406.9h0M222.4 407.02h0M224 407.03h0M226 408.17h0M226.8 407.87h0M227.6 408.15h0M228.4 407.9h0M229.2 408.14h0M230 407.77h0M230.8 408.09h0M231.6 408.11h0M232.4 408.06h0M213 413.04h0M213.8 413.34h0M214.6 413.1h0M215.4 413.31h0M216.2 413.4h0M217 413.27h0M218.6 413.4h0M219.4 413.41h0M220.2 413.41h0M221 413.26h0M221.8 413.17h0M222.6 413.07h0M223.4 413.51h0M224.2 413.42h0M225 413.28h0M225.8 413.35h0M226.6 413.35h0M227.4 413.26h0M229.8 413.26h0M230.6 413.34h0M231.4 413.23h0M232.2 413.5h0M233 413.12h0M233.8 413.12h0M234.6 413.27h0M235.4 413.43h0M213 414.46h0M213.8 414.74h0M215.4 414.57h0M216.2 414.91h0M217 414.69h0M217.8 414.79h0M218.6 414.93h0M219.4 414.83h0M220.2 414.55h0M221 414.84h0M221.8 414.55h0M222.6 414.89h0M223.4 414.88h0M224.2 414.67h0M225 414.59h0M225.8 414.63h0M226.6 414.53h0M227.4 414.92h0M228.2 414.72h0M229.8 414.85h0M231.4 414.68h0M232.2 414.84h0M233 414.88h0M234.6 414.97h0M235.4 414.62h0M236.2 414.73h0M213 415.95h0M213.8 416.06h0M214.6 415.9h0M215.4 416.12h0M216.2 415.96h0M217 416.36h0M217.8 416.34h0M218.6 416.22h0M220.2 415.93h0M221 416.39h0M221.8 415.93h0M222.6 416.38h0M224.2 416.34h0M225 416.36h0M225.8 416.31h0M226.6 416.41h0M227.4 416.39h0M228.2 415.97h0M229 415.96h0M229.8 416.22h0M230.6 416.09h0M231.4 416.07h0M232.2 416.18h0M233 416.14h0M233.8 416.26h0M235.4 416.2h0M218 402.41h0M222 403.31h0M228 404.22h0M231 406.03h0M219 405.67h0M205 389.38h0M204 393.36h0M205 397.52h0M205 402.59h0M205 409.29h0M210 393.9h0M207 395.71h0M216.35 395.66h0M220.69 399.37h0M232.88 398.41h0M216.97 396.7h0M214.95 403.46h0M214.14 398.43h0M237.55 418.36h0M237.5 416.81h0M237.34 417.74h0M238.41 416.94h0M238.19 417.61h0M238.28 416.72h0M239.16 417.32h0M238.97 416.84h0M239 418.01h0M239.72 416.45h0M239.79 418.28h0M240.13 415.66h0M240.9 415.19h0M241.05 417.34h0M240.9 416.56h0M241.8 414.84h0M241.84 416.3h0M241.37 417.39h0M242.58 414.61h0M242.32 416.39h0M242.59 414.92h0M243.37 413.51h0M243.48 415.67h0M243.03 414.3h0M243.97 414.4h0M244.17 412.68h0M244.16 417.19h0M244.92 418.46h0M244.75 414.27h0M244.93 411.54h0M245.65 414.15h0M245.43 411.22h0M245.35 412.96h0M246.61 411.46h0M246.41 409.86h0M246.54 417.36h0M247.42 418.08h0M247.05 409.15h0M247.01 412.54h0M248.21 412.48h0M247.89 415.1h0M248.22 411.65h0M248.59 407.13h0M248.66 407.7h0M248.91 412.02h0M249.74 413.43h0M249.72 414.49h0M249.66 410.14h0M250.37 406.89h0M250.54 414.9h0M250.59 413.06h0M251.41 405.6h0M250.99 412.14h0M250.93 407.08h0M252.09 414.73h0M252.25 412.49h0M251.82 405.48h0M253 415.54h0M253.05 405.43h0M252.99 410.38h0M253.66 415.47h0M253.69 405.88h0M253.76 413.58h0M254.5 408.56h0M254.21 406.6h0M254.15 416.06h0M255.08 411.48h0M255.26 407.08h0M255.39 408.77h0M256.11 410.23h0M255.73 409.82h0M256.04 410.56h0M256.84 417.99h0M256.84 409.66h0M256.55 411.47h0M257.82 415.84h0M257.59 412.79h0M257.78 413.49h0M258.61 415.17h0M258.69 411.98h0M258.34 411.9h0M259.37 413.97h0M259.33 412.86h0M259.47 412.29h0M260.06 413.74h0M259.89 416.15h0M260.07 416.42h0M260.97 417.72h0M260.73 414.96h0M260.89 416.11h0M261.46 415.22h0M261.82 414h0M261.61 416.64h0M262.45 414.77h0M262.43 418.33h0M262.32 416.04h0M262.98 415.08h0M263.15 416.14h0M263 416.82h0M263.75 416.22h0M264.2 418.44h0M263.74 417.68h0M264.68 416.06h0M265.02 415.73h0M264.8 417.86h0M265.84 416.63h0M265.63 417.51h0M265.41 417.1h0M266.4 415.49h0M266.8 418.35h0M267.2 415.52h0M267.6 418.43h0M268 415.37h0M268.4 418.2h0M268.8 415.2h0M269.2 417h0M269.6 414.89h0M270 417.36h0M270.4 414.9h0M270.8 417.01h0M271.2 415.34h0M271.6 416.97h0M272 414.65h0M272.4 417.23h0M272.8 414.19h0M273.2 417.37h0M273.6 414.55h0M274 418.34h0M274.4 414.96h0M274.8 416.68h0M275.2 414.15h0M275.6 418.38h0M276 413.89h0M276.4 415.71h0M276.8 413.51h0M277.2 415.73h0M277.6 413.91h0M278 418.53h0M278.4 413.13h0M278.8 417.88h0M279.2 414.37h0M279.6 417.68h0M280 413.59h0M280.4 416.06h0M280.8 414.07h0M281.2 416.9h0M281.6 414.89h0M282 417.89h0M282.4 414h0M282.8 418.44h0M283.2 414.76h0M283.6 418.56h0M284 414.35h0M284.4 417.44h0M284.8 414.55h0M285.2 417.88h0M285.6 414.89h0M286 417.4h0M286.4 415.16h0M286.8 418.41h0M287.2 415.75h0M287.6 416.93h0M288 415.19h0M288.4 417.33h0M288.8 415.25h0M289.2 417.87h0M289.6 416.03h0M290 416.96h0M290.4 415.81h0M290.8 417.01h0M291.2 415.96h0M291.6 417.04h0M292 415.58h0M292.4 418.46h0M292.8 415.89h0M293.2 417.47h0M293.6 415.09h0M294 417.89h0M294.4 415.4h0M294.8 417.16h0M295.2 416.04h0M295.6 418.25h0M296 415.7h0M296.4 417.29h0M296.8 414.97h0M297.2 416.83h0M297.6 415.31h0M298 416.86h0M298.4 415.47h0M298.8 416.85h0M299.2 414.39h0M299.6 416.99h0M300 416.19h0M300.4 417.31h0M300.8 415.81h0M301.2 418.69h0M301.6 415.6h0M302 418.32h0M302.4 415.96h0M302.8 417.74h0M303.2 415.3h0M303.6 417.02h0M304 415.98h0M304.4 417.87h0M304.8 415.75h0M305.2 417.45h0M305.6 415.63h0M306 417.45h0M306.4 414.84h0M306.8 417.99h0M307.2 414.74h0M307.6 417.13h0M308 414.21h0M308.4 417.1h0M308.8 414.71h0M309.2 417.43h0M309.6 415.42h0M310 417.58h0M310.4 414.24h0M310.8 417.77h0M311.2 414.61h0M311.6 418.64h0M312 414.73h0M312.4 416.55h0M312.8 414.8h0M313.2 418.49h0M313.6 414.95h0M314 418.17h0M314.4 414.68h0M314.8 417.25h0M315.2 415.06h0M315.6 417.52h0M316 414.66h0M316.4 416.73h0M316.8 415.13h0M317.2 417.62h0M317.6 415.32h0M318 417.75h0M318.4 415.13h0M318.8 416.86h0M319.2 415.98h0M319.6 417.93h0M320 415.93h0M320.4 417.84h0M320.8 415.8h0M321.2 417.84h0M321.6 415.79h0M322 417.71h0M322.4 416.57h0M322.8 418.37h0M323.2 416.68h0M323.6 418.25h0M324 416.69h0M324.4 418.35h0M324.8 417.08h0M325.2 418.22h0M325.6 416.59h0M326 417.85h0M326.4 417.03h0M326.8 417.96h0M327.2 416.89h0M327.6 418.14h0M328 417.03h0M328.4 418.54h0M328.8 417.17h0M329.2 417.91h0" stroke="#0a0a8c" stroke-width="1.9" stroke-linecap="round" fill="none"/>
<path d="M193 387.1h0M194.5 387.32h0M196 386.7h0M197.5 387.15h0M199 386.93h0M200.5 387.02h0M202 387.37h0M203.5 386.86h0M205 386.71h0" stroke="#ffa82a" stroke-width="1.52" stroke-linecap="round" fill="none"/>
<path d="M183.5 360.4h0M185 360.4h0M186.5 360.4h0M188 360.4h0M189.5 360.4h0" stroke="#0a0a8c" stroke-width="1.8" stroke-linecap="round" fill="none"/>
<circle cx="191.2" cy="360.4" r="1.1" fill="#ffee00"/>
<line x1="193.5" y1="360.4" x2="204" y2="360.4" stroke="#f21414" stroke-width="1.5"/>
<path d="M192.5,360.4 L196.5,358.4 L196.5,362.4 Z" fill="#e01010"/>
<circle cx="205.2" cy="360.4" r="0.9" fill="#bfe6f5"/>
<circle cx="209.2" cy="360.3" r="0.9" fill="#0a0a8c"/><circle cx="213.9" cy="360.4" r="0.9" fill="#0a0a8c"/>
<text x="183" y="363.5" font-size="6" font-weight="bold"  fill="#111" stroke="#111" stroke-width="0.12" text-anchor="end">chr5:136134855</text>
<rect x="324.9" y="360.3" width="14" height="32" fill="#fff" stroke="#8a8a8a" stroke-width="0.45"/>
<text x="326.2" y="364.5" font-size="3.6"  fill="#111"><tspan font-weight="bold">LD</tspan> (r²)</text>
<rect x="327.6" y="367.8" width="3.2" height="4.15" fill="#d8381c"/>
<rect x="327.6" y="371.95" width="3.2" height="4.15" fill="#f2aa1a"/>
<rect x="327.6" y="376.1" width="3.2" height="4.15" fill="#44d844"/>
<rect x="327.6" y="380.25" width="3.2" height="4.15" fill="#1eb0e0"/>
<rect x="327.6" y="384.4" width="3.2" height="4.15" fill="#3a2c9c"/>
<text x="332.3" y="368.5" font-size="3.3"  fill="#222">1</text>
<text x="332.3" y="372.6" font-size="3.3"  fill="#222">0.8</text>
<text x="332.3" y="376.7" font-size="3.3"  fill="#222">0.6</text>
<text x="332.3" y="380.8" font-size="3.3"  fill="#222">0.4</text>
<text x="332.3" y="384.9" font-size="3.3"  fill="#222">0.2</text>
<text x="332.3" y="389" font-size="3.3"  fill="#222">0</text>
<rect x="37" y="357.2" width="306" height="63.9" fill="none" stroke="#a0a0a0" stroke-width="1"/>
<text x="44.8" y="355.2" font-size="10.5" font-weight="bold"  fill="#000" stroke="#000" stroke-width="0.3">SMAD5</text>
<line x1="50.7" y1="421.1" x2="50.7" y2="423.2" stroke="#999" stroke-width="0.5"/>
<text x="50.7" y="428.1" font-size="4.9"  fill="#444" text-anchor="middle">135.1</text>
<line x1="106.34" y1="421.1" x2="106.34" y2="423.2" stroke="#999" stroke-width="0.5"/>
<text x="106.34" y="428.1" font-size="4.9"  fill="#444" text-anchor="middle">135.5</text>
<line x1="175.89" y1="421.1" x2="175.89" y2="423.2" stroke="#999" stroke-width="0.5"/>
<text x="175.89" y="428.1" font-size="4.9"  fill="#444" text-anchor="middle">136</text>
<line x1="245.44" y1="421.1" x2="245.44" y2="423.2" stroke="#999" stroke-width="0.5"/>
<text x="245.44" y="428.1" font-size="4.9"  fill="#444" text-anchor="middle">136.5</text>
<line x1="314.99" y1="421.1" x2="314.99" y2="423.2" stroke="#999" stroke-width="0.5"/>
<text x="314.99" y="428.1" font-size="4.9"  fill="#444" text-anchor="middle">137</text>
<text x="342.1" y="265.8" font-size="15" font-weight="bold"  fill="#000" stroke="#000" stroke-width="0.25">d</text>
<rect x="359.5" y="277.1" width="305.2" height="63.4" fill="#fff"/>
<line x1="359.5" y1="330.55" x2="664.7" y2="330.55" stroke="#f0f0f0" stroke-width="0.4"/>
<line x1="359.5" y1="314.05" x2="664.7" y2="314.05" stroke="#f0f0f0" stroke-width="0.4"/>
<line x1="359.5" y1="297.55" x2="664.7" y2="297.55" stroke="#f0f0f0" stroke-width="0.4"/>
<line x1="345.15" y1="277.1" x2="345.15" y2="340.5" stroke="#f0f0f0" stroke-width="0.4"/>
<line x1="414.65" y1="277.1" x2="414.65" y2="340.5" stroke="#f0f0f0" stroke-width="0.4"/>
<line x1="484.15" y1="277.1" x2="484.15" y2="340.5" stroke="#f0f0f0" stroke-width="0.4"/>
<line x1="553.65" y1="277.1" x2="553.65" y2="340.5" stroke="#f0f0f0" stroke-width="0.4"/>
<line x1="623.15" y1="277.1" x2="623.15" y2="340.5" stroke="#f0f0f0" stroke-width="0.4"/>
<line x1="359.5" y1="338.8" x2="664.7" y2="338.8" stroke="#e2e2e2" stroke-width="0.6"/>
<line x1="359.5" y1="322.3" x2="664.7" y2="322.3" stroke="#e2e2e2" stroke-width="0.6"/>
<line x1="359.5" y1="305.8" x2="664.7" y2="305.8" stroke="#e2e2e2" stroke-width="0.6"/>
<line x1="359.5" y1="289.3" x2="664.7" y2="289.3" stroke="#e2e2e2" stroke-width="0.6"/>
<line x1="379.9" y1="277.1" x2="379.9" y2="340.5" stroke="#e2e2e2" stroke-width="0.6"/>
<line x1="449.4" y1="277.1" x2="449.4" y2="340.5" stroke="#e2e2e2" stroke-width="0.6"/>
<line x1="518.9" y1="277.1" x2="518.9" y2="340.5" stroke="#e2e2e2" stroke-width="0.6"/>
<line x1="588.4" y1="277.1" x2="588.4" y2="340.5" stroke="#e2e2e2" stroke-width="0.6"/>
<line x1="359.5" y1="290.62" x2="664.7" y2="290.62" stroke="#c4c4c4" stroke-width="0.75" stroke-dasharray="2.6,1.8"/>
<line x1="357.3" y1="338.8" x2="359.5" y2="338.8" stroke="#666" stroke-width="0.5"/>
<text x="356.7" y="340.6" font-size="4.9"  fill="#444" text-anchor="end">0.0</text>
<line x1="357.3" y1="322.3" x2="359.5" y2="322.3" stroke="#666" stroke-width="0.5"/>
<text x="356.7" y="324.1" font-size="4.9"  fill="#444" text-anchor="end">2.5</text>
<line x1="357.3" y1="305.8" x2="359.5" y2="305.8" stroke="#666" stroke-width="0.5"/>
<text x="356.7" y="307.6" font-size="4.9"  fill="#444" text-anchor="end">5.0</text>
<line x1="357.3" y1="289.3" x2="359.5" y2="289.3" stroke="#666" stroke-width="0.5"/>
<text x="356.7" y="291.1" font-size="4.9"  fill="#444" text-anchor="end">7.5</text>
<path d="M375.5 339.75L375.5 335.38L376.3 335.81L377.1 335.54L377.9 335.14L378.7 334.99L379.5 335.16L380.3 334.77L381.1 334.37L381.9 335L382.7 334.57L383.5 334.33L384.3 334.41L385.1 335.07L385.9 334.61L386.7 334.49L387.5 335.29L388.3 334.52L389.1 335.43L389.9 334.45L390.7 334.44L391.5 334.91L392.3 334.29L393.1 335.09L393.9 335.2L394.7 334.86L395.5 335.46L396.3 335.2L397.1 334.97L397.9 335.15L398.7 335.06L399.5 334.82L400.3 335.37L401.1 334.82L401.9 334.63L402.7 334.7L403.5 335.37L404.3 334.8L405.1 334.61L405.9 335L406.7 334.77L407.5 334.38L408.3 334.56L409.1 335.05L409.9 335.43L410.7 335.11L411.5 335.44L412.3 335.4L413.1 335.39L413.9 334.8L414.7 334.83L415.5 334.91L416.3 334.75L417.1 335.06L417.9 334.83L418.7 335.16L419.5 335.34L420.3 334.32L421.1 334.58L421.9 334.53L422.7 334.45L423.5 334.92L424.3 335.18L425.1 335.25L425.9 334.61L426.7 334.5L427.5 334.35L428.3 335.05L429.1 334.48L429.9 334.89L430.7 334.53L431.5 335.16L432.3 334.72L433.1 334.78L433.9 334.48L434.7 335.36L435.5 334.29L436.3 334.81L437.1 334.44L437.9 335.39L438.7 334.51L439.5 334.48L440.3 335.05L441.1 334.97L441.9 334.45L442.7 335.11L443.5 335.23L444.3 334.65L445.1 334.48L445.9 334.81L446.7 335.31L447.5 334.93L448.3 334.75L449.1 334.65L449.9 334.61L450.7 334.61L451.5 334.29L452.3 335.43L453.1 334.45L453.9 335.08L454.7 335.39L455.5 335.14L456.3 335.17L457.1 335.33L457.9 334.92L458.7 334.35L459.5 334.7L460.3 335.19L461.1 335.18L461.9 335.34L462.7 334.76L463.5 335.32L464.3 334.94L465.1 334.28L465.9 334.35L466.7 334.51L467.5 334.9L468.3 335.27L469.1 335.01L469.9 334.93L470.7 334.82L471.5 334.65L472.3 335.34L473.1 334.79L473.9 334.87L474.7 335.37L475.5 335.17L476.3 334.51L477.1 334.44L477.9 335.36L478.7 334.65L479.5 334.97L480.3 334.3L481.1 335.01L481.9 335.3L482.7 334.43L483.5 334.87L484.3 334.35L485.1 335.12L485.9 335.34L486.7 334.75L487.5 334.39L488.3 335.27L489.1 335.02L489.9 334.75L490.7 334.49L491.5 335.18L492.3 334.93L493.1 334.49L493.9 334.44L494.7 334.86L495.5 334.87L496.3 334.82L497.1 334.52L497.9 335.29L498.7 335.19L499.5 334.47L500.3 335.06L501.1 335.37L501.9 335.32L502.7 335.24L503.5 334.91L504.3 334.31L505.1 334.41L505.9 334.9L506.7 334.98L507.5 334.77L508.3 334.84L509.1 335.23L509.9 334.29L510.7 334.34L511.5 335.31L512.3 334.56L513.1 335.05L513.9 335.07L514.7 335.21L515.5 334.69L516.3 335.23L517.1 334.35L517.9 335.22L518.7 334.39L519.5 334.34L520.3 334.32L521.1 334.57L521.9 334.45L522.7 335.39L523.5 334.67L524.3 335.44L525.1 334.62L525.9 334.33L526.7 335.43L527.5 334.32L528.3 334.3L529.1 334.47L529.9 334.57L530.7 335.03L531.5 334.46L532.3 335.44L533.1 334.7L533.9 334.72L534.7 334.92L535.5 334.76L536.3 335.27L537.1 334.47L537.9 334.61L538.7 334.91L539.5 334.78L540.3 334.55L541.1 334.43L541.9 334.9L542.7 335.12L543.5 334.4L544.3 335.44L545.1 334.54L545.9 335.37L546.7 334.93L547.5 334.52L548.3 334.84L549.1 334.44L549.9 334.52L550.7 334.89L551.5 334.46L552.3 335.35L553.1 334.41L553.9 335.14L554.7 335L555.5 334.42L556.3 334.83L557.1 334.71L557.9 334.32L558.7 334.99L559.5 335.19L560.3 334.64L561.1 334.74L561.9 334.64L562.7 334.84L563.5 334.63L564.3 334.31L565.1 334.78L565.9 335.26L566.7 334.83L567.5 334.7L568.3 334.7L569.1 335.45L569.9 335.25L570.7 335.18L571.5 335.25L572.3 334.27L573.1 334.99L573.9 334.44L574.7 335.05L575.5 334.67L576.3 334.86L577.1 334.48L577.9 335.22L578.7 335.1L579.5 335.45L580.3 335.26L581.1 334.51L581.9 335.5L582.7 335.37L583.5 335.03L584.3 335.84L585.1 336.11L585.9 335.85L586.7 335.81L587.5 335.95L588.3 335.32L589.1 335.81L589.9 336.07L590.7 336.06L591.5 335.67L592.3 335.72L593.1 335.38L593.9 336.07L594.7 335.53L595.5 336.12L596.3 336.12L597.1 336.04L597.9 335.36L598.7 335.68L599.5 335.6L600.3 335.78L601.1 335.94L601.9 335.84L602.7 335.58L603.5 335.85L604.3 335.74L605.1 335.26L605.9 335.75L606.7 335.29L607.5 335.74L608.3 335.39L609.1 335.96L609.9 335.95L610.7 335.88L611.5 335.34L612.3 335.56L613.1 335.63L613.9 335.45L614.7 335.66L615.5 335.57L616.3 335.5L617.1 335.67L617.9 335.5L618.7 335.96L619.5 334.9L620.3 334.97L621.1 334.9L621.9 334.48L622.7 335.27L623.5 335.27L624.3 334.81L625.1 335.02L625.9 334.48L626.7 334.88L627.5 334.49L628.3 334.64L629.1 334.44L629.9 335.3L630.7 335.15L631.5 335.07L632.3 335.28L633.1 334.86L633.9 335.09L634.7 334.75L635.5 334.67L636.3 334.69L637.1 335.36L637.9 334.9L638.7 334.68L639.5 334.47L640.3 334.88L641.1 335.3L641.9 334.34L642.7 334.92L643.5 334.28L644.3 335.45L645.1 335.24L645.9 334.82L646.7 335.23L647.5 334.74L648 339.75Z" fill="#0a0a8c"/>
<path d="M375.75 336.02h0M375.63 337.21h0M376.56 334.61h0M376.34 334.45h0M377.19 335.96h0M377.19 335.47h0M378.88 333.65h0M378.88 336.5h0M379.26 335.77h0M379.19 335.72h0M380.3 335.66h0M380.44 335.09h0M381.23 333.51h0M381.22 334.47h0M382.21 333.91h0M382.66 332.9h0M383.49 333.08h0M383.27 336.73h0M384.41 335.38h0M384.66 336.09h0M385.63 332.97h0M385.15 333.2h0M386.11 334.41h0M386.56 333.06h0M387.7 337.11h0M387.4 333.17h0M388.44 333.03h0M388.4 334.14h0M389.55 334.95h0M389.9 334.32h0M390.23 334.37h0M390.83 333.81h0M391.84 337.4h0M391.34 336.64h0M392.23 335.72h0M392.83 335.57h0M393.48 334.12h0M393.16 333.88h0M394.43 336.34h0M394.34 333.01h0M395.45 334.1h0M395.67 333.51h0M396.66 337.41h0M396.5 335.23h0M397.62 336.83h0M397.77 336.19h0M398.49 337.26h0M398.81 335.52h0M399.88 335.34h0M399.32 336h0M400.6 335.43h0M400.6 337.2h0M401.39 336.9h0M401.72 336.09h0M402.43 334.74h0M402.76 336.9h0M403.87 333.31h0M403.28 336.04h0M404.2 334.93h0M404.57 335.14h0M405.13 334.8h0M405.77 336.49h0M406.65 334.19h0M406.21 332.86h0M407.55 333.33h0M407.35 335.63h0M408.49 335.83h0M408.5 336.65h0M409.51 336.51h0M409.49 336.77h0M410.69 335.01h0M410.86 335.38h0M411.79 332.9h0M411.5 334.33h0M412.3 337.28h0M412.71 337.13h0M413.49 336.55h0M413.16 333.45h0M414.39 333.56h0M414.83 337.01h0M415.76 334.29h0M415.26 335.25h0M416.58 336.55h0M416.31 337.58h0M417.42 334.18h0M417.68 336.5h0M418.78 336.26h0M418.19 336.23h0M419.78 336.42h0M419.61 333.28h0M420.62 334.68h0M420.83 333.08h0M421.21 337.57h0M421.27 333.87h0M422.38 336.26h0M422.84 337.37h0M423.35 335.41h0M423.28 336.4h0M424.22 333.91h0M424.8 337.07h0M425.3 332.99h0M425.27 333.48h0M426.23 336.12h0M426.36 335.81h0M427.25 336.88h0M427.86 335.7h0M428.72 335.32h0M428.15 337.22h0M429.9 336.85h0M429.69 337.12h0M430.29 336.07h0M430.62 333.94h0M431.87 335.14h0M431.18 334.3h0M432.76 337.02h0M432.51 335.36h0M433.7 333.64h0M433.17 336.06h0M434.17 335.71h0M434.37 336.49h0M435.58 334.97h0M435.14 336.03h0M436.38 334.64h0M436.74 333.7h0M437.87 336.46h0M437.49 336.59h0M438.65 337.59h0M438.21 333.96h0M439.65 333.06h0M439.16 336.78h0M440.56 336.62h0M440.83 337.17h0M441.37 336.48h0M441.89 333.67h0M442.25 336.68h0M442.44 335.2h0M443.13 337.13h0M443.24 337.38h0M444.69 336.24h0M444.69 335.81h0M445.42 335.35h0M445.13 333.29h0M446.16 335.47h0M446.15 334.39h0M447.47 335.8h0M447.58 335.6h0M448.14 333.62h0M448.57 337.55h0M449.22 333.48h0M449.31 335.08h0M450.5 333.5h0M450.83 337.17h0M451.19 336.99h0M451.12 333.49h0M452.41 333.75h0M452.29 336.05h0M453.21 336.18h0M453.64 335.85h0M454.35 334.82h0M454.6 337.49h0M455.81 336.19h0M455.59 336.36h0M456.34 335.82h0M456.28 337.19h0M457.47 333.88h0M457.19 335.16h0M458.79 336.17h0M458.62 335.29h0M459.49 334.28h0M459.44 337.53h0M460.38 337.46h0M460.14 333.11h0M461.41 336.08h0M461.87 337.2h0M462.12 335.01h0M462.39 336.43h0M463.23 335.75h0M463.4 335.8h0M464.18 334.66h0M464.13 335.79h0M465.52 337.53h0M465.22 335.97h0M466.64 337.19h0M466.72 336.7h0M467.77 332.86h0M467.83 333.04h0M468.88 336.34h0M468.87 335.65h0M469.64 336.75h0M469.56 335.91h0M470.19 333.17h0M470.78 333.92h0M471.45 333.14h0M471.59 336.05h0M472.7 333.27h0M472.82 334.23h0M473.82 333.57h0M473.27 336.94h0M474.18 333.88h0M474.57 335.81h0M475.39 332.92h0M475.36 333.31h0M476.73 333.65h0M476.68 336.93h0M477.53 336.4h0M477.34 336.56h0M478.55 333.25h0M478.35 335.05h0M479.23 336.2h0M479.39 335.81h0M480.71 335.34h0M480.15 333.45h0M481.61 337.11h0M481.18 336.9h0M482.9 336.09h0M482.9 333.1h0M483.44 333.81h0M483.27 334.84h0M484.16 335.37h0M484.63 336.22h0M485.19 333.73h0M485.77 335.4h0M486.2 333.11h0M486.62 334.4h0M487.41 336.39h0M487.51 337.27h0M488.4 335.29h0M488.29 335.53h0M489.19 336.86h0M489.89 334.5h0M490.34 333.75h0M490.77 333.6h0M491.28 337.56h0M491.4 334.97h0M492.71 334.9h0M492.31 335.54h0M493.51 335.48h0M493.14 337.27h0M494.22 337.32h0M494.64 333.62h0M495.74 337.32h0M495.12 334.65h0M496.66 336h0M496.58 336.65h0M497.18 336.23h0M497.53 337.03h0M498.47 336.46h0M498.86 333.55h0M499.79 334.19h0M499.58 336.45h0M500.65 334.32h0M500.27 332.92h0M501.35 335.86h0M501.73 335.88h0M502.54 336.61h0M502.73 334.97h0M503.68 334.85h0M503.49 336.72h0M504.68 335.23h0M504.9 337.54h0M505.56 336.63h0M505.35 335.17h0M506.51 336.99h0M506.79 335.85h0M507.84 336.97h0M507.38 336.72h0M508.47 333.47h0M508.87 333.86h0M509.55 333.49h0M509.16 335.32h0M510.69 336.66h0M510.49 335.05h0M511.14 335.41h0M511.68 334.86h0M512.24 332.9h0M512.39 337.28h0M513.27 333.39h0M513.54 333.72h0M514.54 334.5h0M514.65 332.86h0M515.26 335.1h0M515.17 335.68h0M516.13 335.67h0M516.82 333.54h0M517.66 332.97h0M517.54 333.55h0M518.5 337.1h0M518.47 334.23h0M519.36 333.8h0M519.78 337.32h0M520.51 334.27h0M520.72 333.23h0M521.25 335.96h0M521.38 333.68h0M522.25 333.15h0M522.83 336.59h0M523.53 337.04h0M523.82 335.27h0M524.61 336.04h0M524.28 334.84h0M525.38 334.68h0M525.88 335.61h0M526.34 335.32h0M526.38 334.7h0M527.81 334.03h0M527.29 333.61h0M528.74 333.65h0M528.47 334.28h0M529.7 334.02h0M529.17 337.26h0M530.49 333.49h0M530.71 335.03h0M531.69 333.58h0M531.48 333.18h0M532.19 337.26h0M532.42 337.31h0M533.82 336.13h0M533.89 332.9h0M534.12 333.51h0M534.15 333.41h0M535.29 335.83h0M535.87 335.45h0M536.23 335.55h0M536.79 336.7h0M537.4 336.25h0M537.32 336.12h0M538.21 334.85h0M538.63 335.27h0M539.26 336.28h0M539.44 334.85h0M540.71 333.68h0M540.62 337.41h0M541.16 333.65h0M541.22 333.95h0M542.15 336.87h0M542.85 334.01h0M543.62 335.82h0M543.51 336.69h0M544.14 336.58h0M544.21 335.18h0M545.88 335.03h0M545.39 335.17h0M546.36 332.95h0M546.66 337.43h0M547.65 334.99h0M547.41 334.24h0M548.8 337.4h0M548.85 333.94h0M549.63 333.99h0M549.84 337.36h0M550.63 335.05h0M550.21 333.54h0M551.89 335.21h0M551.41 333.65h0M552.28 333.02h0M552.19 334.95h0M553.45 336.77h0M553.43 333.86h0M554.8 332.95h0M554.27 333.11h0M555.17 337.03h0M555.73 334.83h0M556.47 337.41h0M556.46 335.76h0M557.49 337.22h0M557.44 334.88h0M558.47 337.4h0M558.4 335.23h0M559.57 334.97h0M559.29 335.27h0M560.15 337.05h0M560.22 335.09h0M561.11 335.3h0M561.6 334.84h0M562.85 336.23h0M562.45 333.63h0M563.6 336.58h0M563.88 336.47h0M564.58 335.09h0M564.2 337.44h0M565.57 337.17h0M565.4 333.99h0M566.84 333.86h0M566.12 335.9h0M567.69 337.09h0M567.43 336.72h0M568.25 334.23h0M568.72 335.51h0M569.6 337.17h0M569.49 335.84h0M570.59 335.11h0M570.7 334.32h0M571.58 335.89h0M571.47 336.65h0M572.22 335.38h0M572.27 334.71h0M573.88 336.46h0M573.43 333.67h0M574.5 337.55h0M574.42 333.44h0M575.45 335.38h0M575.79 334.05h0M576.72 336.6h0M576.38 333.87h0M577.33 336.82h0M577.84 337.18h0M578.38 333.21h0M578.17 336.93h0M579.63 333.25h0M579.36 334.46h0M580.25 333.02h0M580.55 333.77h0M581.19 334.8h0M581.11 335.07h0M582.74 335.91h0M582.54 334.05h0M583.24 334.77h0M583.52 336.21h0M584.17 335.14h0M584.22 335.93h0M585.13 334.42h0M585.71 336.09h0M586.82 337.83h0M586.52 337.67h0M587.75 336.97h0M587.16 335.38h0M588.22 336.21h0M588.74 337.87h0M589.68 335.33h0M589.61 334.66h0M590.55 335.04h0M590.2 337.65h0M591.66 337.71h0M591.25 336.97h0M592.66 337.15h0M592.35 336.11h0M593.2 336.33h0M593.19 335.13h0M594.51 337.65h0M594.5 337.68h0M595.29 335.53h0M595.23 337.14h0M596.2 335.34h0M596.37 337.82h0M597.15 336.59h0M597.85 336.62h0M598.39 336.89h0M598.38 334.4h0M599.84 334.56h0M599.57 334.5h0M600.31 337.11h0M600.75 334.95h0M601.22 335h0M601.31 337.62h0M602.11 336.08h0M602.55 335.15h0M603.9 337.36h0M603.83 335.41h0M604.49 337.33h0M604.47 335.7h0M605.7 337.9h0M605.87 336.96h0M606.7 334.45h0M606.68 334.92h0M607.66 334.48h0M607.48 335.2h0M608.51 335.93h0M608.46 337.3h0M609.5 337.44h0M609.31 337.51h0M610.42 337.83h0M610.74 337h0M611.13 335.98h0M611.26 336.5h0M612.86 334.64h0M612.87 336.75h0M613.23 336.03h0M613.87 335.71h0M614.51 335.99h0M614.86 336.14h0M615.23 336.7h0M615.32 337.63h0M616.61 337.27h0M616.51 334.64h0M617.34 336.35h0M617.38 337.69h0M618.33 336.18h0M618.22 336.76h0M619.58 336.15h0M619.2 335.73h0M620.45 335.44h0M620.63 333.49h0M621.38 337.6h0M621.17 334.31h0M622.43 337.24h0M622.75 334.95h0M623.61 333.87h0M623.7 334.23h0M624.77 333.32h0M624.68 337.41h0M625.17 336.45h0M625.78 336.53h0M626.79 333.79h0M626.45 336.77h0M627.17 333.26h0M627.16 334.97h0M628.19 334.44h0M628.31 334.05h0M629.38 334.09h0M629.78 334.04h0M630.56 337.36h0M630.53 335.18h0M631.58 336.22h0M631.9 334.49h0M632.78 332.99h0M632.81 334h0M633.2 334.35h0M633.84 334.81h0M634.87 333.55h0M634.33 335.86h0M635.68 335.92h0M635.72 337.11h0M636.8 334.89h0M636.87 336.06h0M637.21 333.75h0M637.65 335.5h0M638.33 333.34h0M638.61 335.05h0M639.12 336.47h0M639.66 337.53h0M640.78 335.07h0M640.36 336.24h0M641.5 333.6h0M641.27 332.92h0M642.58 333.62h0M642.55 333.99h0M643.76 335.2h0M643.84 336.96h0M644.66 333.47h0M644.81 334.78h0M645.58 335.27h0M645.29 334.71h0M646.19 335.71h0M646.48 337.04h0M647.39 337.01h0M647.75 334.27h0M391.51 333.28h0M392.76 332.52h0M389.77 333.64h0M390.4 328.36h0M390.32 328.33h0M391.92 330.31h0M389.03 335.7h0M391.72 328.57h0M389.25 333.56h0M392.45 333.42h0M389.59 336.22h0M392.83 334.66h0M390.35 331.15h0M392.92 337.15h0M391.17 329.89h0M392.25 337.82h0M393.43 332.74h0M390.74 338.58h0M388.05 338.39h0M390.57 329.98h0M390.46 334.79h0M391 326.59h0M395.86 332.07h0M396.86 335.52h0M396.24 333.85h0M397 334.59h0M398.08 336.13h0M398.33 335.02h0M395.44 333.88h0M397.78 334.35h0M397.4 334h0M396.45 331.72h0M396.66 334.33h0M397.01 334.15h0M398.6 337.66h0M395.23 336.83h0M397 328.24h0M402.66 334.97h0M400.97 330.81h0M401.63 336.2h0M400.27 338.64h0M400.11 332.13h0M399.84 333.53h0M402.02 332.06h0M400 335.21h0M399.01 334.94h0M399.08 337.42h0M399.32 334.12h0M401.53 331.86h0M401.47 332.42h0M402.08 336.61h0M401 328.24h0M416.32 325.97h0M412.55 334.96h0M412.04 330.31h0M415.94 334.61h0M416.71 337.96h0M417.55 337.64h0M412.52 337.47h0M415.59 336.56h0M415.33 332.31h0M416.67 338.73h0M413.32 325.39h0M416.09 337.79h0M414.9 335.25h0M416.02 324.96h0M413.86 326.28h0M416.42 329.29h0M412.29 336.78h0M416.25 330.08h0M415.98 335.51h0M414.83 321.02h0M411.74 335.97h0M414.45 330.29h0M414.32 334.41h0M416.39 330.75h0M416.88 336.7h0M414.1 321.25h0M416.06 331.3h0M417.55 330.94h0M412.73 331.73h0M412.85 327.97h0M411.78 331.17h0M416.39 335.07h0M415.67 334.09h0M414.68 336.07h0M412.9 336.75h0M417 333.34h0M417.1 331.32h0M414.59 335.86h0M416.66 338.09h0M412.7 328.07h0M413.42 335.55h0M414.91 326.76h0M415.18 324h0M412.47 331.53h0M412.4 328.33h0M413.19 327.17h0M416.22 329.92h0M417.2 329.29h0M413.43 331.51h0M417.39 335.47h0M411.93 329.87h0M413.5 324.56h0M413.29 327.52h0M412.1 330.38h0M416.99 332.01h0M417.04 331.75h0M416.13 330.35h0M414.76 322.69h0M412.66 327.92h0M412.46 333.91h0M417.47 336.64h0M413.89 325.51h0M416.31 337.09h0M411.97 337.13h0M417.2 336.32h0M417.55 333.59h0M413.54 333.82h0M414.72 333.65h0M412.76 337.83h0M415.07 325.12h0M416.38 328.2h0M415.22 336.54h0M414.6 319h0M420.36 328.18h0M418.11 334.88h0M418.96 331.04h0M421.73 335.75h0M418.1 334.32h0M420.83 333.31h0M420.21 337.02h0M419.58 324.46h0M418.52 337.04h0M421.27 331.2h0M419.12 332.07h0M418.05 337.98h0M420.92 334.32h0M418.92 330.57h0M420 319.66h0M437.27 336.73h0M437.07 337.75h0M436.77 332.44h0M432.1 336.13h0M437.22 333.5h0M431.9 334.98h0M436.55 338.39h0M432.63 333.52h0M433.46 335.02h0M431.56 338.66h0M433.88 332.59h0M434.01 328.23h0M433.59 335.94h0M432.62 335.72h0M436.02 331.2h0M437.18 333.51h0M435.24 335.63h0M434.92 329.86h0M437.06 335.59h0M434.8 332.55h0M435.76 331.14h0M434.5 326.92h0M445.88 331.35h0M442.95 338.56h0M445.76 336.35h0M445.49 334.25h0M446.16 336.21h0M444.65 336.24h0M445.61 333.33h0M442.44 329.85h0M440.52 330.54h0M442.01 325.63h0M444.98 334.26h0M444.78 333.15h0M441.88 337.86h0M440.98 331.74h0M444.16 336.86h0M445.99 331.21h0M444.5 328.01h0M442.03 327.05h0M441.3 331.12h0M441.14 334.23h0M445.06 332.23h0M445.1 337.06h0M444.81 334.08h0M444.39 332.68h0M442.93 334.44h0M445.65 332.1h0M440.77 335.66h0M441.74 333.06h0M446.34 332.34h0M442.43 326.08h0M444.26 336.49h0M443.96 329.66h0M443 322.3h0M457.98 330.98h0M451.22 332.31h0M454.07 328.87h0M456.65 324.25h0M454.86 332.98h0M454.17 335.06h0M458.41 329.29h0M453.66 329.58h0M453.79 324.81h0M451.38 332.19h0M453.76 334.98h0M456.22 325.62h0M452.96 328.41h0M458.11 332.67h0M452.31 333.06h0M454.69 324.7h0M456.33 336.38h0M451.84 331.1h0M460.05 331.97h0M450.75 337.1h0M454.98 326.3h0M460.28 335.87h0M455.16 322.45h0M459.01 335.98h0M451 331.01h0M459.97 338.69h0M459.34 337.2h0M456.68 334.96h0M450.74 337.99h0M453.02 335.41h0M459.85 333.96h0M460.49 332.09h0M453.96 333.64h0M453.91 330.02h0M457.59 337.38h0M457.58 330.97h0M452.88 337.51h0M454.08 335.53h0M456.16 332.71h0M455.19 338.39h0M451.62 333.76h0M453.91 332.47h0M457.23 327.53h0M455.5 320.98h0M468.9 336.1h0M469.54 336.82h0M468.04 338.06h0M468.25 332.79h0M469.38 336.9h0M467.4 336.94h0M467.32 336.1h0M466.95 335.71h0M469.3 333.37h0M470.52 336.6h0M468.7 330.22h0M481.84 329.78h0M486.01 329.15h0M482.01 333.12h0M481.61 331.89h0M485.27 324.53h0M481.54 331.13h0M484.38 335.57h0M488.35 336.26h0M482.97 335.91h0M488.55 334.82h0M484.7 329.67h0M485.67 326.96h0M484 329.75h0M483.47 334.71h0M487.19 330.06h0M481.95 330.99h0M484.26 335.41h0M481.75 335.68h0M484.12 324.15h0M486.38 329.08h0M481.24 336.49h0M485.87 333.22h0M486.62 338.02h0M487.68 332.81h0M486.45 333.84h0M483.2 329.49h0M480.92 337.18h0M485.91 332.43h0M486.96 329.93h0M483.96 329.01h0M484.57 332.03h0M482.64 337.11h0M484.8 322.3h0M490.01 332.22h0M490.47 332.84h0M492.67 336.06h0M490.22 331.88h0M490.67 337.7h0M492.15 330.03h0M489.99 336.7h0M489.94 332.55h0M490.69 335.05h0M489.96 336.38h0M491.4 326.92h0M524.02 329.92h0M524.24 328.53h0M521.86 330.71h0M523.86 337.96h0M522.95 323.77h0M522.98 333.53h0M523.53 323.33h0M525.96 337.22h0M522.78 332.57h0M521.99 332.09h0M522.35 325.49h0M522.85 336.19h0M520.27 332.12h0M520.95 332.51h0M522.19 330.15h0M523.02 319.36h0M523.51 326.7h0M525.97 332.13h0M520.11 333.92h0M522.9 334.19h0M521.39 330.58h0M524.25 326.39h0M520.42 330.63h0M525.62 332.94h0M520.91 338.21h0M521.69 323.37h0M520.91 325.76h0M520.25 329.82h0M524.44 332.78h0M520.65 334.27h0M525.85 334.96h0M521.75 336.26h0M524.21 332.38h0M523.52 332.76h0M524.85 332.11h0M524.75 334.79h0M523 316.36h0M537.16 330.12h0M534.7 324.32h0M531.5 329.8h0M532.21 337h0M532.63 328.99h0M538.38 334.12h0M533.74 325.77h0M531.41 328.94h0M537.29 326.3h0M531.8 334.14h0M533.1 327.56h0M531.56 338.05h0M534.57 332.52h0M537.06 327.69h0M530.09 332.72h0M533.39 326.74h0M531.55 332.16h0M536.89 327.79h0M531.6 333.48h0M533.14 329.98h0M536.79 326.01h0M534.79 327.5h0M532.1 330.25h0M538.26 338.62h0M536.95 328.03h0M531.07 329.75h0M538.59 329.53h0M535.71 325.76h0M532.84 331h0M539.26 331.55h0M532.14 333.61h0M534.04 337.5h0M534.49 327.41h0M531.95 331.85h0M531.56 329.48h0M536.07 330.42h0M535 320.98h0M544.85 332.93h0M543.83 333.48h0M541.92 333.66h0M543.32 327.95h0M540.43 337.91h0M542.69 327.34h0M542.9 333.27h0M542.59 334.87h0M544.02 330.21h0M542.51 327.11h0M539.63 336.12h0M540.86 338.21h0M539.46 336.36h0M543.6 330.72h0M541.93 331.15h0M541.68 324.1h0M540.47 329.16h0M540.73 327.26h0M542 322.3h0M561.39 336.63h0M573.7 336.09h0M559.61 333.37h0M569.9 330.63h0M580.27 337.55h0M577.12 331.14h0M576.61 331.83h0M560.68 334.44h0M569.72 328.52h0M573.45 328.27h0M575.88 331.91h0M564.44 337.94h0M558.95 334.1h0M572.14 327.33h0M580.32 337.16h0M573.15 335.83h0M571.75 337.29h0M574.43 333.82h0M576.14 332.27h0M567.87 331.61h0M567.77 331.16h0M566.16 335.37h0M567.5 335.88h0M577.5 336.95h0M581.58 334.37h0M577.95 334.49h0M562.84 336.45h0M560.26 333h0M564.98 334.78h0M578.47 333.31h0M568.56 337.43h0M559.5 336.22h0M576.59 333.56h0M564.69 333.82h0M569.65 336.63h0M578 335.69h0M565.75 335.04h0M561.44 337.59h0M567.36 329.91h0M580.07 333.12h0M578.76 338.31h0M580.17 332.65h0M568.58 333.85h0M569.82 326.35h0M581.47 333.68h0M576.72 330.98h0M571.22 331.4h0M565.98 334.31h0M578.58 332.05h0M559.69 332.66h0M575.11 331.98h0M562.99 337.3h0M572.01 335.03h0M572.65 330.89h0M563.45 332.5h0M577.94 334.46h0M571.15 327.25h0M580.65 333.58h0M580.35 336.57h0M580.05 333.89h0M575.17 332.21h0M569.46 328.1h0M570.37 328.5h0M574.39 332.77h0M571.6 335.65h0M572.93 333.5h0M581.18 335.58h0M579.14 334.82h0M564.52 331.14h0M580.98 333.28h0M563.69 330.54h0M579.66 332.45h0M569.7 325.6h0M642.81 337.91h0M637.73 327.48h0M644.2 334.04h0M635.21 326.46h0M628.83 334.16h0M630.7 331.23h0M628.58 332.82h0M643.73 337.77h0M638.82 333.17h0M627.94 334.36h0M642.33 336.44h0M630.4 331.78h0M628.63 337.53h0M637.82 336.74h0M630.86 332.16h0M637.66 337.3h0M643.55 333.95h0M633.88 329.73h0M628.8 332.73h0M644.57 336.55h0M633.13 332.61h0M642.48 332.81h0M633.58 329.34h0M627.08 334.11h0M644.14 332.77h0M641.52 337.32h0M636.26 325.9h0M638.21 328.23h0M644.17 337.55h0M642.06 333.04h0M644.28 332.97h0M637.8 331.56h0M629.09 335.86h0M642.39 338.3h0M635.81 336.21h0M627.91 337.84h0M631.6 333.33h0M643.9 337.29h0M630.77 332.65h0M636 325.6h0M556.76 337.94h0M560.22 331.67h0M557.4 333.32h0M555.72 333.85h0M560.04 332.72h0M561.55 335.85h0M562.25 337.37h0M554.65 336.89h0M563.24 337.67h0M557.86 336.16h0M555.27 334.09h0M560.66 337.25h0M559.38 330.76h0M564.15 336.22h0M556.11 334.07h0M558.78 335.65h0M564.08 336.63h0M558.58 336.51h0M563.27 333.27h0M554.25 335.15h0M565.09 335.96h0M558.15 333.77h0M554.55 334.69h0M557.6 338.28h0M561.82 331.57h0M560 329.56h0M593.24 334.45h0M594.22 335.31h0M597.61 333.75h0M594.52 333.33h0M592.73 335.09h0M596.96 335.49h0M596.76 335.06h0M592.43 335.72h0M598.92 336.33h0M599.28 337.27h0M593.62 335.67h0M598.9 334.61h0M592.26 337.05h0M593.2 334.31h0M596 330.88h0M627.7 325.15h0M629.4 325.38h0M631.1 324.77h0M632.8 324.09h0M634.5 325.28h0M636.2 324.6h0M637.9 325.22h0M639.6 324.32h0M641.3 323.85h0M643 324h0M415 299.2h0M414.5 315.04h0M415.5 316.36h0M416 317.68h0M432 324.94h0M455 322.3h0M485 321.64h0M523 320.32h0M541 321.64h0M567 326.26h0M575 326.26h0M571 325.6h0M630 325.6h0M633 325.6h0M636 325.6h0M639 325.6h0M642 325.6h0M645.8 320.32h0M525 315.04h0M527 319h0M513.5 312h0M520.5 316.5h0M518.8 313.3h0" stroke="#0a0a8c" stroke-width="1.9" stroke-linecap="round" fill="none"/>
<path d="M511.56 325.04h0M515.63 325.3h0M506.67 325.08h0M508.96 328.9h0M501.36 323.87h0M513.99 325.29h0M518.29 327.85h0M514.42 326.38h0M508.22 325.69h0M510.16 327.13h0M501.1 329.1h0M513.76 323.9h0M511.18 326.33h0M506.01 329.33h0M508.48 325.23h0M501.55 326.43h0M502.7 325.03h0M510.45 327.24h0M516.25 325.88h0M507.51 324.4h0M514.32 324.75h0M507.35 324.45h0M512.15 326.44h0M519.65 323.68h0M520.32 325.88h0M516.73 325.32h0M507.67 326.63h0M508.15 324.27h0M507.54 327.65h0M516.96 328.72h0M504.23 327.5h0M521.99 326.45h0M502.67 327.65h0M515.3 324.85h0M512.16 325.39h0M509.71 327.23h0M516.11 325.94h0M516.21 327.92h0M502.5 326.54h0M505.29 329.48h0M499.76 327.08h0M506.12 327.59h0M500.26 324.1h0M517.08 328.04h0M501.49 323.79h0M518.3 331.3h0M506.72 332.01h0M501.55 330.03h0M519.67 330.32h0M507.95 333h0M511.16 332.74h0M517.15 330.97h0M518.1 331.45h0M502.34 331.92h0M500.06 331.14h0M502.15 330.27h0M514.45 330.93h0" stroke="#a6d8ee" stroke-width="1.9" stroke-linecap="round" fill="none"/>
<path d="M510.5 304.5h0M499.5 311h0M499.2 313h0M500 315h0M502 314.5h0M505 313.5h0M506.5 315h0M508 315.5h0M512 314.5h0M515.5 312h0M516.5 311.5h0M517.5 311h0M503.5 316h0M510 316.2h0M514 315.6h0" stroke="#ffee00" stroke-width="1.9" stroke-linecap="round" fill="none"/>
<path d="M504.5 290.8h0M500 306.5h0M501.5 307.5h0M499.5 309.5h0" stroke="#ffa82a" stroke-width="1.52" stroke-linecap="round" fill="none"/>
<path d="M509.5 279.3h0M511 280.5h0M516.8 280.8h0M517.5 283h0M518 285.5h0M517 288h0M516 290h0M515 291.5h0M514 293h0M515.5 286h0M513 288.5h0M512 290h0M502 287h0M501.5 289h0M503.5 289h0M506 288.5h0M507 287.5h0M502 291h0M504 292.5h0M507.5 294h0M508.5 292.5h0M511 294h0M510 296.5h0M503 295.5h0M504 297.5h0M503.8 298.5h0M513.5 282.5h0M515.6 283.8h0M516.2 282.3h0" stroke="#f21414" stroke-width="1.9" stroke-linecap="round" fill="none"/>
<line x1="504" y1="284.1" x2="513.5" y2="283.5" stroke="#777" stroke-width="0.8"/>
<circle cx="514.6" cy="283.4" r="1.5" fill="#e81010"/>
<text x="504" y="286.4" font-size="6" font-weight="bold"  fill="#111" stroke="#111" stroke-width="0.12" text-anchor="end">chr1:5969877</text>
<rect x="647.1" y="280.1" width="14" height="32" fill="#fff" stroke="#8a8a8a" stroke-width="0.45"/>
<text x="648.4" y="284.3" font-size="3.6"  fill="#111"><tspan font-weight="bold">LD</tspan> (r²)</text>
<rect x="649.8" y="287.6" width="3.2" height="4.15" fill="#d8381c"/>
<rect x="649.8" y="291.75" width="3.2" height="4.15" fill="#f2aa1a"/>
<rect x="649.8" y="295.9" width="3.2" height="4.15" fill="#44d844"/>
<rect x="649.8" y="300.05" width="3.2" height="4.15" fill="#1eb0e0"/>
<rect x="649.8" y="304.2" width="3.2" height="4.15" fill="#3a2c9c"/>
<text x="654.5" y="288.3" font-size="3.3"  fill="#222">1</text>
<text x="654.5" y="292.4" font-size="3.3"  fill="#222">0.8</text>
<text x="654.5" y="296.5" font-size="3.3"  fill="#222">0.6</text>
<text x="654.5" y="300.6" font-size="3.3"  fill="#222">0.4</text>
<text x="654.5" y="304.7" font-size="3.3"  fill="#222">0.2</text>
<text x="654.5" y="308.8" font-size="3.3"  fill="#222">0</text>
<rect x="359.5" y="277.1" width="305.2" height="63.4" fill="none" stroke="#a0a0a0" stroke-width="1"/>
<text x="365.8" y="272.6" font-size="10.8" font-weight="bold"  fill="#000" stroke="#000" stroke-width="0.3">X-11381</text>
<rect x="359.6" y="357.2" width="305.1" height="63.9" fill="#fff"/>
<line x1="359.6" y1="409.65" x2="664.7" y2="409.65" stroke="#f0f0f0" stroke-width="0.4"/>
<line x1="359.6" y1="391.55" x2="664.7" y2="391.55" stroke="#f0f0f0" stroke-width="0.4"/>
<line x1="359.6" y1="373.45" x2="664.7" y2="373.45" stroke="#f0f0f0" stroke-width="0.4"/>
<line x1="345.15" y1="357.2" x2="345.15" y2="421.1" stroke="#f0f0f0" stroke-width="0.4"/>
<line x1="414.65" y1="357.2" x2="414.65" y2="421.1" stroke="#f0f0f0" stroke-width="0.4"/>
<line x1="484.15" y1="357.2" x2="484.15" y2="421.1" stroke="#f0f0f0" stroke-width="0.4"/>
<line x1="553.65" y1="357.2" x2="553.65" y2="421.1" stroke="#f0f0f0" stroke-width="0.4"/>
<line x1="623.15" y1="357.2" x2="623.15" y2="421.1" stroke="#f0f0f0" stroke-width="0.4"/>
<line x1="359.6" y1="418.7" x2="664.7" y2="418.7" stroke="#e2e2e2" stroke-width="0.6"/>
<line x1="359.6" y1="400.6" x2="664.7" y2="400.6" stroke="#e2e2e2" stroke-width="0.6"/>
<line x1="359.6" y1="382.5" x2="664.7" y2="382.5" stroke="#e2e2e2" stroke-width="0.6"/>
<line x1="359.6" y1="364.4" x2="664.7" y2="364.4" stroke="#e2e2e2" stroke-width="0.6"/>
<line x1="379.9" y1="357.2" x2="379.9" y2="421.1" stroke="#e2e2e2" stroke-width="0.6"/>
<line x1="449.4" y1="357.2" x2="449.4" y2="421.1" stroke="#e2e2e2" stroke-width="0.6"/>
<line x1="518.9" y1="357.2" x2="518.9" y2="421.1" stroke="#e2e2e2" stroke-width="0.6"/>
<line x1="588.4" y1="357.2" x2="588.4" y2="421.1" stroke="#e2e2e2" stroke-width="0.6"/>
<line x1="359.6" y1="417.38" x2="664.7" y2="417.38" stroke="#c4c4c4" stroke-width="0.75" stroke-dasharray="2.6,1.8"/>
<line x1="357.4" y1="418.7" x2="359.6" y2="418.7" stroke="#666" stroke-width="0.5"/>
<text x="356.8" y="420.5" font-size="4.9"  fill="#444" text-anchor="end">0</text>
<line x1="357.4" y1="400.6" x2="359.6" y2="400.6" stroke="#666" stroke-width="0.5"/>
<text x="356.8" y="402.4" font-size="4.9"  fill="#444" text-anchor="end">100</text>
<line x1="357.4" y1="382.5" x2="359.6" y2="382.5" stroke="#666" stroke-width="0.5"/>
<text x="356.8" y="384.3" font-size="4.9"  fill="#444" text-anchor="end">200</text>
<line x1="357.4" y1="364.4" x2="359.6" y2="364.4" stroke="#666" stroke-width="0.5"/>
<text x="356.8" y="366.2" font-size="4.9"  fill="#444" text-anchor="end">300</text>
<path d="M375.5 419.65L375.5 417.28L376.3 417.25L377.1 417.39L377.9 417.27L378.7 417.29L379.5 417.29L380.3 417.36L381.1 417.35L381.9 417.36L382.7 417.24L383.5 417.38L384.3 417.37L385.1 417.33L385.9 417.25L386.7 417.23L387.5 417.37L388.3 417.4L389.1 417.26L389.9 417.25L390.7 417.32L391.5 417.29L392.3 417.28L393.1 417.28L393.9 417.25L394.7 417.32L395.5 417.24L396.3 417.27L397.1 417.31L397.9 417.34L398.7 417.39L399.5 417.38L400.3 417.34L401.1 417.32L401.9 417.24L402.7 417.39L403.5 417.3L404.3 417.37L405.1 417.34L405.9 417.32L406.7 417.34L407.5 417.27L408.3 417.23L409.1 417.31L409.9 417.35L410.7 417.36L411.5 417.3L412.3 417.39L413.1 417.4L413.9 417.28L414.7 417.29L415.5 417.23L416.3 417.33L417.1 417.39L417.9 417.26L418.7 417.3L419.5 417.23L420.3 417.35L421.1 417.35L421.9 417.38L422.7 417.39L423.5 417.39L424.3 417.26L425.1 417.36L425.9 417.37L426.7 417.23L427.5 417.38L428.3 417.3L429.1 417.37L429.9 417.24L430.7 417.27L431.5 417.32L432.3 417.37L433.1 417.3L433.9 417.37L434.7 417.29L435.5 417.33L436.3 417.28L437.1 417.27L437.9 417.36L438.7 417.28L439.5 417.37L440.3 417.37L441.1 417.24L441.9 417.4L442.7 417.25L443.5 417.32L444.3 417.4L445.1 417.38L445.9 417.28L446.7 417.38L447.5 417.36L448.3 417.36L449.1 417.26L449.9 417.23L450.7 417.37L451.5 417.26L452.3 417.37L453.1 417.27L453.9 417.26L454.7 417.35L455.5 417.39L456.3 417.23L457.1 417.29L457.9 417.34L458.7 417.32L459.5 417.3L460.3 417.27L461.1 417.36L461.9 417.35L462.7 417.33L463.5 417.28L464.3 417.27L465.1 417.29L465.9 417.31L466.7 417.32L467.5 417.26L468.3 417.27L469.1 417.32L469.9 417.39L470.7 417.32L471.5 417.33L472.3 417.31L473.1 417.33L473.9 417.32L474.7 417.33L475.5 417.28L476.3 417.34L477.1 417.37L477.9 417.28L478.7 417.33L479.5 417.33L480.3 417.25L481.1 417.24L481.9 417.4L482.7 417.33L483.5 417.35L484.3 417.23L485.1 417.25L485.9 417.31L486.7 417.3L487.5 417.35L488.3 417.3L489.1 417.33L489.9 417.4L490.7 417.38L491.5 417.39L492.3 417.25L493.1 417.31L493.9 417.27L494.7 417.25L495.5 417.33L496.3 417.33L497.1 417.26L497.9 417.27L498.7 417.4L499.5 417.33L500.3 417.24L501.1 417.4L501.9 417.41L502.7 417.27L503.5 417.24L504.3 417.34L505.1 417.39L505.9 417.39L506.7 417.26L507.5 417.31L508.3 417.39L509.1 417.34L509.9 417.27L510.7 417.39L511.5 417.36L512.3 417.37L513.1 417.37L513.9 417.35L514.7 417.27L515.5 417.27L516.3 417.39L517.1 417.26L517.9 417.38L518.7 417.28L519.5 417.37L520.3 417.29L521.1 417.35L521.9 417.4L522.7 417.34L523.5 417.28L524.3 417.33L525.1 417.34L525.9 417.36L526.7 417.29L527.5 417.25L528.3 417.33L529.1 417.38L529.9 417.31L530.7 417.31L531.5 417.27L532.3 417.28L533.1 417.29L533.9 417.33L534.7 417.33L535.5 417.23L536.3 417.27L537.1 417.31L537.9 417.38L538.7 417.34L539.5 417.37L540.3 417.39L541.1 417.26L541.9 417.37L542.7 417.37L543.5 417.33L544.3 417.38L545.1 417.39L545.9 417.29L546.7 417.29L547.5 417.4L548.3 417.33L549.1 417.36L549.9 417.28L550.7 417.34L551.5 417.31L552.3 417.24L553.1 417.38L553.9 417.27L554.7 417.4L555.5 417.35L556.3 417.4L557.1 417.33L557.9 417.28L558.7 417.3L559.5 417.35L560.3 417.34L561.1 417.37L561.9 417.34L562.7 417.29L563.5 417.33L564.3 417.38L565.1 417.32L565.9 417.23L566.7 417.33L567.5 417.29L568.3 417.35L569.1 417.28L569.9 417.33L570.7 417.41L571.5 417.38L572.3 417.33L573.1 417.32L573.9 417.29L574.7 417.35L575.5 417.24L576.3 417.28L577.1 417.32L577.9 417.27L578.7 417.32L579.5 417.28L580.3 417.4L581.1 417.31L581.9 417.27L582.7 417.35L583.5 417.36L584.3 417.33L585.1 417.23L585.9 417.27L586.7 417.33L587.5 417.36L588.3 417.26L589.1 417.28L589.9 417.36L590.7 417.23L591.5 417.32L592.3 417.38L593.1 417.27L593.9 417.29L594.7 417.4L595.5 417.32L596.3 417.24L597.1 417.31L597.9 417.39L598.7 417.39L599.5 417.39L600.3 417.35L601.1 417.27L601.9 417.3L602.7 417.24L603.5 417.39L604.3 417.32L605.1 417.4L605.9 417.37L606.7 417.33L607.5 417.32L608.3 417.25L609.1 417.32L609.9 417.26L610.7 417.33L611.5 417.38L612.3 417.25L613.1 417.37L613.9 417.25L614.7 417.4L615.5 417.35L616.3 417.29L617.1 417.31L617.9 417.4L618.7 417.35L619.5 417.23L620.3 417.25L621.1 417.31L621.9 417.38L622.7 417.39L623.5 417.36L624.3 417.26L625.1 417.26L625.9 417.38L626.7 417.39L627.5 417.26L628.3 417.27L629.1 417.34L629.9 417.28L630.7 417.37L631.5 417.36L632.3 417.26L633.1 417.33L633.9 417.37L634.7 417.39L635.5 417.28L636.3 417.28L637.1 417.27L637.9 417.39L638.7 417.37L639.5 417.38L640.3 417.29L641.1 417.38L641.9 417.36L642.7 417.33L643.5 417.4L644.3 417.34L645.1 417.24L645.9 417.24L646.7 417.36L647.5 417.3L648 419.65Z" fill="#0a0a8c"/>
<path d="M375.46 417.88h0M376.9 417.96h0M377.59 418.33h0M379.48 418.65h0M380.53 417.64h0M381.67 418.37h0M382.74 418.14h0M384.02 418.51h0M385.34 417.68h0M386.13 418.23h0M387.82 418.47h0M388.64 418.02h0M389.75 417.69h0M391.11 418.31h0M392.68 418.35h0M393.65 418.3h0M394.53 418.22h0M396.03 418.13h0M397.45 417.82h0M398.32 418.43h0M399.82 418.11h0M400.49 417.69h0M401.83 418.32h0M403.44 417.62h0M404.27 417.66h0M405.89 418.04h0M406.51 418.53h0M407.9 418.14h0M409.31 418.56h0M410.67 417.63h0M411.19 418.13h0M412.33 417.89h0M413.61 418.31h0M414.97 417.92h0M416.21 417.9h0M417.56 417.76h0M418.45 418.36h0M419.86 417.93h0M421.07 418.2h0M422.67 418.48h0M423.12 418.1h0M424.75 418.12h0M426.09 418.21h0M427.04 418.36h0M428.05 418.24h0M429.52 418.3h0M430.47 418.02h0M431.91 418.67h0M432.99 418.31h0M434.33 417.67h0M435.28 418.21h0M437.06 417.8h0M438.03 418.13h0M439.28 417.97h0M440.61 417.87h0M441.29 417.99h0M443 418.4h0M443.92 417.88h0M444.72 418.44h0M446.38 418.36h0M447.76 418.5h0M448.71 418.25h0M449.64 417.79h0M450.98 418.6h0M452.14 417.88h0M453.65 418.5h0M454.64 418.45h0M455.74 417.86h0M456.89 418.69h0M458.34 418.53h0M459.5 418.18h0M460.48 418.47h0M462.19 418.59h0M463.4 418.1h0M464.43 417.92h0M465.73 418.35h0M466.39 418.45h0M467.92 418.17h0M469.13 418.5h0M470.25 418.39h0M471.12 417.94h0M472.64 418.47h0M474.29 418.26h0M475.02 418.18h0M476.01 418.59h0M477.36 417.87h0M479.07 418.24h0M479.82 418.46h0M480.76 417.83h0M482.45 418.4h0M483.43 417.68h0M484.45 418.45h0M485.82 417.89h0M487.12 418.45h0M487.92 418.12h0M489.46 418.64h0M490.81 418.52h0M492.03 418.51h0M493.14 417.7h0M493.95 418.05h0M495.36 418.2h0M496.32 418.65h0M498.18 418.25h0M498.8 418.25h0M500.42 418.67h0M501.77 418.32h0M502.5 417.78h0M503.87 418.56h0M504.85 417.92h0M506.34 418.23h0M507.69 418.34h0M508.44 418.01h0M509.67 418.4h0M510.75 418.01h0M512.44 417.76h0M513.24 417.88h0M514.51 418.16h0M515.91 417.91h0M516.78 418.25h0M518.54 418.43h0M519.14 418.19h0M520.57 417.84h0M521.89 417.94h0M523.25 418.61h0M524.43 418.27h0M525.47 418h0M526.63 418.62h0M527.99 417.99h0M529.47 417.66h0M529.93 417.96h0M531.18 417.92h0M533.09 418.29h0M534.18 417.92h0M535.1 417.71h0M536.13 418.35h0M537.74 418.25h0M538.39 418.07h0M539.98 418.27h0M540.91 418.37h0M542.52 418.05h0M543.19 417.69h0M544.64 418.07h0M546.28 418.32h0M547.25 418.09h0M548.39 418.25h0M549.75 418.15h0M550.65 418.03h0M552.05 418.5h0M552.96 418.36h0M554.33 417.62h0M555.81 418.25h0M556.63 418.43h0M558.1 418.29h0M558.84 417.84h0M560.47 418.33h0M561.73 418h0M562.77 417.68h0M563.79 418.07h0M565.17 418.31h0M566.63 418.17h0M567.48 418.67h0M568.65 417.71h0M569.51 418.01h0M570.77 418.13h0M572.49 418.64h0M573.69 418.58h0M574.57 418.4h0M575.9 417.93h0M577.21 418.18h0M577.96 417.77h0M579.47 417.72h0M580.31 417.71h0M582.04 418.21h0M583.12 418.29h0M584.1 418.06h0M585.19 418.56h0M586.79 417.67h0M588.29 418.2h0M589.33 418.33h0M590.69 418.33h0M591.32 418.3h0M592.77 418.4h0M593.64 417.79h0M594.76 418.23h0M596.16 418.11h0M597.58 418.21h0M598.53 418.68h0M599.97 417.75h0M601.12 417.97h0M602.13 417.88h0M603.34 417.93h0M604.57 418.59h0M606.06 417.66h0M607.02 417.69h0M608.63 417.77h0M609.53 417.83h0M610.79 417.74h0M611.65 418.24h0M612.85 418.35h0M613.91 418.19h0M615.49 418.2h0M616.43 418.65h0M618.29 418.19h0M618.77 418.46h0M620.51 418.61h0M621.65 418.35h0M623.04 418.49h0M624.19 418.34h0M625.48 417.84h0M626.46 417.86h0M627.27 417.69h0M628.51 418.12h0M629.8 418.54h0M631.46 418.25h0M632.54 418.35h0M633.39 418.24h0M634.45 418.62h0M635.84 418.3h0M637.11 418.62h0M637.93 418.34h0M639.32 418.63h0M640.73 417.86h0M641.9 417.64h0M643.15 418.69h0M644.29 417.98h0M645.62 418.04h0M646.38 417.94h0M647.61 418.63h0M484.62 418.36h0M487.25 417.61h0M494.83 417.02h0M497.23 418.65h0M529.53 418.6h0M513.46 414h0M521 418.48h0M501.99 412.8h0M500.86 414.83h0M504.95 413.57h0M515.62 417.26h0M524.66 418.41h0M498.56 415.17h0M495.23 417.03h0M519.79 418.24h0M499.04 416.07h0M513.52 418.16h0M490.79 418.28h0M499.89 414.09h0M503.25 415.25h0M491.1 417.12h0M522.82 417.79h0M522.59 417.75h0M512.84 417.43h0M484.21 418.36h0M499.78 414.38h0M506.81 417.54h0M487.45 418.46h0M514.2 416.18h0M486.45 418.27h0M500.81 412.42h0M524.77 417.79h0M494.49 415.53h0M500.59 414.97h0M523.27 418.43h0M529.21 418.59h0M514.62 414.17h0M491.45 418.49h0M521.76 417.68h0M487.31 417.49h0M521.62 417.18h0M520.49 418.62h0M491.35 418.65h0M507.62 418.63h0M486.5 417.73h0M489.74 417.25h0M510.69 416.85h0M510.97 414.55h0M499.58 415.99h0M516.86 416.56h0M499.4 417.16h0M493.98 417.47h0M483.25 418.61h0M495.87 418.2h0M486.86 418.34h0M509.05 417.52h0M502.74 413.33h0M526.66 418.47h0M485.1 418.61h0M501.38 417.85h0M493.93 416.65h0M524.44 417.78h0M509.27 415.64h0M515.56 418.12h0M494.5 416.29h0M513.34 417.12h0M490.8 418.1h0M514.68 417.75h0M516.9 414.91h0M483.52 418.66h0M518.3 416.24h0M488.53 418.32h0M524.99 418.53h0M502.01 412.44h0M504.43 412.44h0M508 415.17h0M507.82 415.59h0M521.75 418.53h0M496.59 414.95h0M508.02 412.19h0M531.81 418.66h0M521.04 418.61h0M514.82 417.58h0M508.13 416.9h0M491.4 417.28h0M524.34 418.14h0M508.1 416.6h0M530.44 418.67h0M526.02 418.47h0M491.02 417.87h0M511.58 418.44h0M491.82 417.52h0M493.66 415.93h0M488.45 418.65h0M530.64 418.48h0M526.78 418.34h0M502.8 414.75h0M509.75 417.26h0M492.06 416.31h0M493.84 418.63h0M503.55 417.04h0M508.33 418.11h0M506.29 416.86h0M494.19 415.64h0M492.9 416.35h0M528.83 418.44h0M517.33 415.57h0M527.48 418.21h0M499.15 417.66h0M504.21 413.73h0M516.4 417.49h0M503.82 413.22h0M522.02 417.78h0M488.69 418.33h0M496.81 416.87h0M508.51 416.07h0M531.35 418.47h0M489.71 417.39h0M508.34 418.32h0M497.06 416.45h0M502.55 413.61h0M520.92 418.3h0M483.09 418.59h0M513.89 414.08h0M527.79 418.53h0M484.15 418.63h0M508.92 412.31h0M483.91 418.66h0M498.34 414.16h0M501.4 417.97h0M488.89 413.81h0M490.13 414.23h0M489.9 416.71h0M488.84 417.23h0M488.86 415.81h0M492.81 412.72h0M495.25 413.73h0M495.5 413.84h0M495.12 413.12h0M493.75 412.57h0M497.46 415.68h0M496.89 416.76h0M496.04 416.96h0M497.32 415.32h0M496.26 416.35h0M507.32 414.22h0M506.81 415.8h0M508.14 416.37h0M507.52 415.19h0M506.16 414.96h0M513.47 417.24h0M512.15 415.65h0M511.28 417.33h0M512.35 416.36h0M512.34 415.87h0M518.28 415.61h0M517.39 414.31h0M516.72 415.1h0M516.77 413.94h0M517.13 413.91h0M522.37 415.61h0M521.33 415.86h0M520.84 417.56h0M520.69 415.15h0M519.74 414.71h0M526.04 414.74h0M525.93 415.94h0M526.84 414.82h0M525.18 415.61h0M527.39 416.19h0M523.2 393.18h0M524.6 397.52h0M521 401.14h0M522 404.04h0M524 408.02h0M526 410.01h0M523 405.67h0M525 402.77h0M520 399.69h0M527 412.37h0M524 395.17h0" stroke="#0a0a8c" stroke-width="1.9" stroke-linecap="round" fill="none"/>
<path d="M506.3 400.23h0M499.51 402.17h0M507.2 400.7h0M510.35 397.73h0M505.37 405.02h0M505.91 402.41h0M516.49 398.87h0M504.84 399.59h0M504.98 407.1h0M516.13 398.13h0M500.78 406.08h0M515.55 401.74h0M519.41 402.74h0M512.55 409.16h0M512.05 392.58h0M512.28 404.19h0M501.53 396.15h0M512.69 407.93h0M516.68 406.54h0M506.07 402.25h0M518.11 405.17h0M520.77 401.46h0M508.06 400.77h0M511.26 392.43h0M514.56 406.81h0M501.18 406.07h0M513.21 400.47h0M510.31 401.48h0M514.75 404.55h0M509.51 397.16h0M501.9 406.67h0M511.09 403.25h0M516.79 402.44h0M507.75 398.53h0M516.47 393.98h0M504 399.43h0M519.22 403.89h0M511.14 408.2h0M507.94 403.34h0M507.51 392.85h0M506.91 405.53h0M514.39 408.73h0M503.55 401.59h0M499.98 406.78h0M519.38 406.63h0M520 386.12h0M519 380.69h0M521 390.64h0M520 394.26h0" stroke="#a6d8ee" stroke-width="1.9" stroke-linecap="round" fill="none"/>
<path d="M515.49 407.82h0M516.27 407.1h0M512.83 408.28h0M517.11 406.08h0M511.86 406.83h0M514.29 406.81h0M510.57 408.11h0M516.04 408.59h0M509.77 406.27h0M509.88 407.8h0M515.05 408.41h0M517.06 406.85h0M515.45 408h0M513.2 406.18h0M501.63 407.79h0M504.33 407.15h0M504.83 407.18h0M501.98 407.4h0M505.76 406.97h0M501.31 407.05h0M503.81 408.21h0M499.5 384.31h0M501 391.01h0M499 393h0M511 396.62h0M506 413.27h0M519 359.88h0" stroke="#ffee00" stroke-width="1.9" stroke-linecap="round" fill="none"/>
<path d="M501 370.19h0M499 374.36h0M500 373.45h0M505 396.62h0" stroke="#ffa82a" stroke-width="1.52" stroke-linecap="round" fill="none"/>
<path d="M517 365.31h0M515 380.87h0M514 381.23h0M513 381.05h0M510 383.59h0M508 383.95h0M503 385.03h0M499 389.74h0M501 389.38h0" stroke="#f21414" stroke-width="1.9" stroke-linecap="round" fill="none"/>
<line x1="504" y1="361.4" x2="510" y2="360.4" stroke="#444" stroke-width="0.7"/>
<line x1="509.5" y1="360.3" x2="515.5" y2="360.3" stroke="#f21414" stroke-width="1.6"/>
<path d="M513.5,357.9 L518.3,360.3 L513.5,362.7 Z" fill="#e01010"/>
<text x="504" y="363.6" font-size="6" font-weight="bold"  fill="#111" stroke="#111" stroke-width="0.12" text-anchor="end">chr1:5969877</text>
<rect x="647.1" y="360.4" width="14" height="32" fill="#fff" stroke="#8a8a8a" stroke-width="0.45"/>
<text x="648.4" y="364.6" font-size="3.6"  fill="#111"><tspan font-weight="bold">LD</tspan> (r²)</text>
<rect x="649.8" y="367.9" width="3.2" height="4.15" fill="#d8381c"/>
<rect x="649.8" y="372.05" width="3.2" height="4.15" fill="#f2aa1a"/>
<rect x="649.8" y="376.2" width="3.2" height="4.15" fill="#44d844"/>
<rect x="649.8" y="380.35" width="3.2" height="4.15" fill="#1eb0e0"/>
<rect x="649.8" y="384.5" width="3.2" height="4.15" fill="#3a2c9c"/>
<text x="654.5" y="368.6" font-size="3.3"  fill="#222">1</text>
<text x="654.5" y="372.7" font-size="3.3"  fill="#222">0.8</text>
<text x="654.5" y="376.8" font-size="3.3"  fill="#222">0.6</text>
<text x="654.5" y="380.9" font-size="3.3"  fill="#222">0.4</text>
<text x="654.5" y="385" font-size="3.3"  fill="#222">0.2</text>
<text x="654.5" y="389.1" font-size="3.3"  fill="#222">0</text>
<rect x="359.6" y="357.2" width="305.1" height="63.9" fill="none" stroke="#a0a0a0" stroke-width="1"/>
<text x="366.2" y="355.2" font-size="10.6" font-weight="bold"  fill="#000" stroke="#000" stroke-width="0.3">NPHP4</text>
<line x1="379.9" y1="421.1" x2="379.9" y2="423.2" stroke="#999" stroke-width="0.5"/>
<text x="379.9" y="428.1" font-size="4.9"  fill="#444" text-anchor="middle">5</text>
<line x1="449.4" y1="421.1" x2="449.4" y2="423.2" stroke="#999" stroke-width="0.5"/>
<text x="449.4" y="428.1" font-size="4.9"  fill="#444" text-anchor="middle">5.5</text>
<line x1="518.9" y1="421.1" x2="518.9" y2="423.2" stroke="#999" stroke-width="0.5"/>
<text x="518.9" y="428.1" font-size="4.9"  fill="#444" text-anchor="middle">6</text>
<line x1="588.4" y1="421.1" x2="588.4" y2="423.2" stroke="#999" stroke-width="0.5"/>
<text x="588.4" y="428.1" font-size="4.9"  fill="#444" text-anchor="middle">6.5</text>
<line x1="76" y1="437.9" x2="79.7" y2="437.9" stroke="#222" stroke-width="0.4"/>
<path d="M76 437.9l1 -0.6M76 437.9l1 0.6" stroke="#333" stroke-width="0.35" fill="none"/>
<text x="80" y="439.1" font-size="3.7" font-style="italic"  fill="#000" stroke="#000" stroke-width="0.12" textLength="23.4" lengthAdjust="spacingAndGlyphs">MACROH2A1</text>
<line x1="85.4" y1="441.3" x2="94.8" y2="441.3" stroke="#4040b0" stroke-width="0.6"/>
<rect x="84.95" y="440.15" width="0.9" height="2.3" fill="#4040b0"/>
<rect x="86.75" y="440.15" width="0.9" height="2.3" fill="#4040b0"/>
<rect x="88.55" y="440.15" width="0.9" height="2.3" fill="#4040b0"/>
<rect x="90.05" y="440.15" width="0.9" height="2.3" fill="#4040b0"/>
<rect x="92.15" y="440.15" width="0.9" height="2.3" fill="#4040b0"/>
<rect x="94.35" y="440.15" width="0.9" height="2.3" fill="#4040b0"/>
<rect x="85.6" y="440.15" width="2.6" height="2.3" fill="#4040b0"/>
<line x1="149.8" y1="437.9" x2="153.3" y2="437.9" stroke="#222" stroke-width="0.4"/>
<path d="M153.3 437.9l-1 -0.6M153.3 437.9l-1 0.6" stroke="#333" stroke-width="0.35" fill="none"/>
<text x="131" y="439.1" font-size="3.7" font-style="italic"  fill="#000" stroke="#000" stroke-width="0.12" textLength="18.3" lengthAdjust="spacingAndGlyphs">SLC25A48</text>
<line x1="119.8" y1="441.3" x2="163.7" y2="441.3" stroke="#4040b0" stroke-width="0.6"/>
<rect x="119.35" y="440.15" width="0.9" height="2.3" fill="#4040b0"/>
<rect x="126.55" y="440.15" width="0.9" height="2.3" fill="#4040b0"/>
<rect x="152.55" y="440.15" width="0.9" height="2.3" fill="#4040b0"/>
<rect x="158.55" y="440.15" width="0.9" height="2.3" fill="#4040b0"/>
<rect x="160.75" y="440.15" width="0.9" height="2.3" fill="#4040b0"/>
<rect x="163.25" y="440.15" width="0.9" height="2.3" fill="#4040b0"/>
<line x1="91.7" y1="447.8" x2="95.4" y2="447.8" stroke="#222" stroke-width="0.4"/>
<path d="M91.7 447.8l1 -0.6M91.7 447.8l1 0.6" stroke="#333" stroke-width="0.35" fill="none"/>
<text x="95.7" y="449" font-size="3.7" font-style="italic"  fill="#000" stroke="#000" stroke-width="0.12" textLength="14.9" lengthAdjust="spacingAndGlyphs">DCANP1</text>
<rect x="100.85" y="450.05" width="0.9" height="2.3" fill="#4040b0"/>
<line x1="94.4" y1="457.8" x2="98.1" y2="457.8" stroke="#222" stroke-width="0.4"/>
<path d="M94.4 457.8l1 -0.6M94.4 457.8l1 0.6" stroke="#333" stroke-width="0.35" fill="none"/>
<text x="98.4" y="459" font-size="3.7" font-style="italic"  fill="#000" stroke="#000" stroke-width="0.12" textLength="10.1" lengthAdjust="spacingAndGlyphs">TIFAB</text>
<rect x="100.85" y="460.05" width="0.9" height="2.3" fill="#4040b0"/>
<line x1="102.6" y1="467.8" x2="106.3" y2="467.8" stroke="#222" stroke-width="0.4"/>
<path d="M102.6 467.8l1 -0.6M102.6 467.8l1 0.6" stroke="#333" stroke-width="0.35" fill="none"/>
<text x="106.6" y="469" font-size="3.7" font-style="italic"  fill="#000" stroke="#000" stroke-width="0.12" textLength="18.3" lengthAdjust="spacingAndGlyphs">NEUROG1</text>
<rect x="112.75" y="470.05" width="0.9" height="2.3" fill="#4040b0"/>
<line x1="110.8" y1="477.9" x2="114.5" y2="477.9" stroke="#222" stroke-width="0.4"/>
<path d="M110.8 477.9l1 -0.6M110.8 477.9l1 0.6" stroke="#333" stroke-width="0.35" fill="none"/>
<text x="114.8" y="479.1" font-size="3.7" font-style="italic"  fill="#000" stroke="#000" stroke-width="0.12" textLength="13.5" lengthAdjust="spacingAndGlyphs">CXCL14</text>
<line x1="118.8" y1="481.3" x2="120" y2="481.3" stroke="#4040b0" stroke-width="0.6"/>
<rect x="118.85" y="480.15" width="0.9" height="2.3" fill="#4040b0"/>
<line x1="160.4" y1="447.8" x2="164.1" y2="447.8" stroke="#222" stroke-width="0.4"/>
<path d="M160.4 447.8l1 -0.6M160.4 447.8l1 0.6" stroke="#333" stroke-width="0.35" fill="none"/>
<text x="164.4" y="449" font-size="3.7" font-style="italic"  fill="#000" stroke="#000" stroke-width="0.12" textLength="4.8" lengthAdjust="spacingAndGlyphs">IL9</text>
<rect x="164.25" y="450.05" width="0.9" height="2.3" fill="#4040b0"/>
<line x1="163.4" y1="457.8" x2="167.1" y2="457.8" stroke="#222" stroke-width="0.4"/>
<path d="M163.4 457.8l1 -0.6M163.4 457.8l1 0.6" stroke="#333" stroke-width="0.35" fill="none"/>
<text x="167.4" y="459" font-size="3.7" font-style="italic"  fill="#000" stroke="#000" stroke-width="0.12" textLength="11.5" lengthAdjust="spacingAndGlyphs">LECT2</text>
<line x1="168.4" y1="461.2" x2="174" y2="461.2" stroke="#4040b0" stroke-width="0.6"/>
<rect x="167.95" y="460.05" width="0.9" height="2.3" fill="#4040b0"/>
<rect x="170.55" y="460.05" width="0.9" height="2.3" fill="#4040b0"/>
<rect x="173.55" y="460.05" width="0.9" height="2.3" fill="#4040b0"/>
<line x1="190" y1="437.9" x2="193.5" y2="437.9" stroke="#222" stroke-width="0.4"/>
<path d="M193.5 437.9l-1 -0.6M193.5 437.9l-1 0.6" stroke="#333" stroke-width="0.35" fill="none"/>
<text x="178.9" y="439.1" font-size="3.7" font-style="italic"  fill="#000" stroke="#000" stroke-width="0.12" textLength="10.6" lengthAdjust="spacingAndGlyphs">TGFBI</text>
<line x1="183.2" y1="441.3" x2="189" y2="441.3" stroke="#4040b0" stroke-width="0.6"/>
<rect x="182.75" y="440.15" width="0.9" height="2.3" fill="#4040b0"/>
<rect x="183.6" y="440.15" width="5" height="2.3" fill="#4040b0"/>
<line x1="212.8" y1="437.9" x2="216.5" y2="437.9" stroke="#222" stroke-width="0.4"/>
<path d="M212.8 437.9l1 -0.6M212.8 437.9l1 0.6" stroke="#333" stroke-width="0.35" fill="none"/>
<text x="216.8" y="439.1" font-size="3.7" font-style="italic"  fill="#000" stroke="#000" stroke-width="0.12" textLength="12.2" lengthAdjust="spacingAndGlyphs">TRPC7</text>
<line x1="210.5" y1="441.3" x2="231.6" y2="441.3" stroke="#4040b0" stroke-width="0.6"/>
<rect x="210.05" y="440.15" width="0.9" height="2.3" fill="#4040b0"/>
<rect x="211.55" y="440.15" width="0.9" height="2.3" fill="#4040b0"/>
<rect x="213.55" y="440.15" width="0.9" height="2.3" fill="#4040b0"/>
<rect x="215.55" y="440.15" width="0.9" height="2.3" fill="#4040b0"/>
<rect x="221.55" y="440.15" width="0.9" height="2.3" fill="#4040b0"/>
<rect x="231.15" y="440.15" width="0.9" height="2.3" fill="#4040b0"/>
<line x1="206.8" y1="447.8" x2="210.3" y2="447.8" stroke="#222" stroke-width="0.4"/>
<path d="M210.3 447.8l-1 -0.6M210.3 447.8l-1 0.6" stroke="#333" stroke-width="0.35" fill="none"/>
<text x="194.2" y="449" font-size="3.7" font-style="italic"  fill="#000" stroke="#000" stroke-width="0.12" textLength="12.1" lengthAdjust="spacingAndGlyphs">SMAD5</text>
<line x1="198.2" y1="451.2" x2="206" y2="451.2" stroke="#4040b0" stroke-width="0.6"/>
<rect x="197.75" y="450.05" width="0.9" height="2.3" fill="#4040b0"/>
<rect x="200.55" y="450.05" width="0.9" height="2.3" fill="#4040b0"/>
<rect x="202.55" y="450.05" width="0.9" height="2.3" fill="#4040b0"/>
<rect x="204.55" y="450.05" width="0.9" height="2.3" fill="#4040b0"/>
<rect x="205.55" y="450.05" width="0.9" height="2.3" fill="#4040b0"/>
<rect x="201.5" y="450.05" width="2" height="2.3" fill="#4040b0"/>
<line x1="198.4" y1="457.8" x2="202.1" y2="457.8" stroke="#222" stroke-width="0.4"/>
<path d="M198.4 457.8l1 -0.6M198.4 457.8l1 0.6" stroke="#333" stroke-width="0.35" fill="none"/>
<text x="202.4" y="459" font-size="3.7" font-style="italic"  fill="#000" stroke="#000" stroke-width="0.12" textLength="13.6" lengthAdjust="spacingAndGlyphs">SMIM32</text>
<rect x="206.35" y="460.05" width="0.9" height="2.3" fill="#4040b0"/>
<line x1="317.6" y1="437.9" x2="321.3" y2="437.9" stroke="#222" stroke-width="0.4"/>
<path d="M317.6 437.9l1 -0.6M317.6 437.9l1 0.6" stroke="#333" stroke-width="0.35" fill="none"/>
<text x="321.6" y="439.1" font-size="3.7" font-style="italic"  fill="#000" stroke="#000" stroke-width="0.12" textLength="14.2" lengthAdjust="spacingAndGlyphs">SPOCK1</text>
<line x1="317.9" y1="441.3" x2="335" y2="441.3" stroke="#4040b0" stroke-width="0.6"/>
<rect x="317.45" y="440.15" width="0.9" height="2.3" fill="#4040b0"/>
<rect x="318.35" y="440.15" width="0.9" height="2.3" fill="#4040b0"/>
<rect x="325.55" y="440.15" width="0.9" height="2.3" fill="#4040b0"/>
<rect x="332.55" y="440.15" width="0.9" height="2.3" fill="#4040b0"/>
<rect x="334.55" y="440.15" width="0.9" height="2.3" fill="#4040b0"/>
<line x1="507.2" y1="437.9" x2="510.9" y2="437.9" stroke="#222" stroke-width="0.4"/>
<path d="M507.2 437.9l1 -0.6M507.2 437.9l1 0.6" stroke="#333" stroke-width="0.35" fill="none"/>
<text x="511.2" y="439.1" font-size="3.7" font-style="italic"  fill="#000" stroke="#000" stroke-width="0.12" textLength="11.7" lengthAdjust="spacingAndGlyphs">NPHP4</text>
<line x1="506.1" y1="441.3" x2="523.8" y2="441.3" stroke="#4040b0" stroke-width="0.6"/>
<rect x="505.65" y="440.15" width="0.9" height="2.3" fill="#4040b0"/>
<rect x="506.25" y="440.15" width="0.9" height="2.3" fill="#4040b0"/>
<line x1="538" y1="437.9" x2="541.7" y2="437.9" stroke="#222" stroke-width="0.4"/>
<path d="M538 437.9l1 -0.6M538 437.9l1 0.6" stroke="#333" stroke-width="0.35" fill="none"/>
<text x="542" y="439.1" font-size="3.7" font-style="italic"  fill="#000" stroke="#000" stroke-width="0.12" textLength="9.5" lengthAdjust="spacingAndGlyphs">CHD5</text>
<line x1="539.3" y1="441.3" x2="550.6" y2="441.3" stroke="#4040b0" stroke-width="0.6"/>
<rect x="550.15" y="440.15" width="0.9" height="2.3" fill="#4040b0"/>
<rect x="539.3" y="440.15" width="2" height="2.3" fill="#4040b0"/>
<rect x="541.8" y="440.15" width="2" height="2.3" fill="#4040b0"/>
<rect x="544.3" y="440.15" width="2" height="2.3" fill="#4040b0"/>
<rect x="546.6" y="440.15" width="1.4" height="2.3" fill="#4040b0"/>
<line x1="562.6" y1="437.9" x2="566.3" y2="437.9" stroke="#222" stroke-width="0.4"/>
<path d="M562.6 437.9l1 -0.6M562.6 437.9l1 0.6" stroke="#333" stroke-width="0.35" fill="none"/>
<text x="566.6" y="439.1" font-size="3.7" font-style="italic"  fill="#000" stroke="#000" stroke-width="0.12" textLength="13.2" lengthAdjust="spacingAndGlyphs">ACOT7</text>
<line x1="562.4" y1="441.3" x2="580.8" y2="441.3" stroke="#4040b0" stroke-width="0.6"/>
<rect x="561.95" y="440.15" width="0.9" height="2.3" fill="#4040b0"/>
<rect x="563.55" y="440.15" width="0.9" height="2.3" fill="#4040b0"/>
<rect x="565.55" y="440.15" width="0.9" height="2.3" fill="#4040b0"/>
<rect x="567.55" y="440.15" width="0.9" height="2.3" fill="#4040b0"/>
<rect x="569.55" y="440.15" width="0.9" height="2.3" fill="#4040b0"/>
<rect x="571.55" y="440.15" width="0.9" height="2.3" fill="#4040b0"/>
<rect x="574.55" y="440.15" width="0.9" height="2.3" fill="#4040b0"/>
<rect x="580.35" y="440.15" width="0.9" height="2.3" fill="#4040b0"/>
<line x1="594.3" y1="437.9" x2="598" y2="437.9" stroke="#222" stroke-width="0.4"/>
<path d="M594.3 437.9l1 -0.6M594.3 437.9l1 0.6" stroke="#333" stroke-width="0.35" fill="none"/>
<text x="598.3" y="439.1" font-size="3.7" font-style="italic"  fill="#000" stroke="#000" stroke-width="0.12" textLength="9.1" lengthAdjust="spacingAndGlyphs">NOL9</text>
<line x1="598.6" y1="441.3" x2="602.7" y2="441.3" stroke="#4040b0" stroke-width="0.6"/>
<rect x="598.15" y="440.15" width="0.9" height="2.3" fill="#4040b0"/>
<rect x="602.25" y="440.15" width="0.9" height="2.3" fill="#4040b0"/>
<rect x="598.6" y="440.15" width="1.6" height="2.3" fill="#4040b0"/>
<rect x="600.8" y="440.15" width="1.6" height="2.3" fill="#4040b0"/>
<line x1="653" y1="437.9" x2="656.5" y2="437.9" stroke="#222" stroke-width="0.4"/>
<path d="M656.5 437.9l-1 -0.6M656.5 437.9l-1 0.6" stroke="#333" stroke-width="0.35" fill="none"/>
<text x="638.1" y="439.1" font-size="3.7" font-style="italic"  fill="#000" stroke="#000" stroke-width="0.12" textLength="14.4" lengthAdjust="spacingAndGlyphs">CAMTA1</text>
<line x1="635.7" y1="441.3" x2="658.5" y2="441.3" stroke="#4040b0" stroke-width="0.6"/>
<rect x="635.25" y="440.15" width="0.9" height="2.3" fill="#4040b0"/>
<rect x="640.55" y="440.15" width="0.9" height="2.3" fill="#4040b0"/>
<rect x="646.55" y="440.15" width="0.9" height="2.3" fill="#4040b0"/>
<rect x="658.05" y="440.15" width="0.9" height="2.3" fill="#4040b0"/>
<line x1="537.1" y1="447.8" x2="540.6" y2="447.8" stroke="#222" stroke-width="0.4"/>
<path d="M540.6 447.8l-1 -0.6M540.6 447.8l-1 0.6" stroke="#333" stroke-width="0.35" fill="none"/>
<text x="521.8" y="449" font-size="3.7" font-style="italic"  fill="#000" stroke="#000" stroke-width="0.12" textLength="14.8" lengthAdjust="spacingAndGlyphs">KCNAB2</text>
<line x1="523.2" y1="451.2" x2="539.3" y2="451.2" stroke="#4040b0" stroke-width="0.6"/>
<rect x="522.75" y="450.05" width="0.9" height="2.3" fill="#4040b0"/>
<rect x="530.05" y="450.05" width="0.9" height="2.3" fill="#4040b0"/>
<rect x="534.75" y="450.05" width="0.9" height="2.3" fill="#4040b0"/>
<rect x="536.15" y="450.05" width="0.9" height="2.3" fill="#4040b0"/>
<rect x="537.75" y="450.05" width="0.9" height="2.3" fill="#4040b0"/>
<line x1="551.3" y1="447.8" x2="555" y2="447.8" stroke="#222" stroke-width="0.4"/>
<path d="M551.3 447.8l1 -0.6M551.3 447.8l1 0.6" stroke="#333" stroke-width="0.35" fill="none"/>
<text x="555.3" y="449" font-size="3.7" font-style="italic"  fill="#000" stroke="#000" stroke-width="0.12" textLength="8.5" lengthAdjust="spacingAndGlyphs">ICMT</text>
<line x1="556.5" y1="451.2" x2="557.8" y2="451.2" stroke="#4040b0" stroke-width="0.6"/>
<rect x="556.15" y="450.05" width="0.9" height="2.3" fill="#4040b0"/>
<rect x="557.15" y="450.05" width="0.9" height="2.3" fill="#4040b0"/>
<line x1="577.5" y1="447.8" x2="581.2" y2="447.8" stroke="#222" stroke-width="0.4"/>
<path d="M577.5 447.8l1 -0.6M577.5 447.8l1 0.6" stroke="#333" stroke-width="0.35" fill="none"/>
<text x="581.5" y="449" font-size="3.7" font-style="italic"  fill="#000" stroke="#000" stroke-width="0.12" textLength="8.5" lengthAdjust="spacingAndGlyphs">HES2</text>
<line x1="583.5" y1="451.2" x2="584.5" y2="451.2" stroke="#4040b0" stroke-width="0.6"/>
<rect x="583.55" y="450.05" width="0.9" height="2.3" fill="#4040b0"/>
<line x1="601.4" y1="447.8" x2="605.1" y2="447.8" stroke="#222" stroke-width="0.4"/>
<path d="M601.4 447.8l1 -0.6M601.4 447.8l1 0.6" stroke="#333" stroke-width="0.35" fill="none"/>
<text x="605.4" y="449" font-size="3.7" font-style="italic"  fill="#000" stroke="#000" stroke-width="0.12" textLength="12.8" lengthAdjust="spacingAndGlyphs">KLHL21</text>
<line x1="609.4" y1="451.2" x2="611" y2="451.2" stroke="#4040b0" stroke-width="0.6"/>
<rect x="608.95" y="450.05" width="0.9" height="2.3" fill="#4040b0"/>
<rect x="609.75" y="450.05" width="0.9" height="2.3" fill="#4040b0"/>
<line x1="538.6" y1="457.8" x2="542.3" y2="457.8" stroke="#222" stroke-width="0.4"/>
<path d="M538.6 457.8l1 -0.6M538.6 457.8l1 0.6" stroke="#333" stroke-width="0.35" fill="none"/>
<text x="542.6" y="459" font-size="3.7" font-style="italic"  fill="#000" stroke="#000" stroke-width="0.12" textLength="19.8" lengthAdjust="spacingAndGlyphs">AL031847.1</text>
<line x1="547" y1="461.2" x2="552.8" y2="461.2" stroke="#4040b0" stroke-width="0.6"/>
<rect x="546.55" y="460.05" width="0.9" height="2.3" fill="#4040b0"/>
<rect x="548.55" y="460.05" width="0.9" height="2.3" fill="#4040b0"/>
<rect x="550.55" y="460.05" width="0.9" height="2.3" fill="#4040b0"/>
<rect x="552.35" y="460.05" width="0.9" height="2.3" fill="#4040b0"/>
<line x1="590.4" y1="457.8" x2="593.9" y2="457.8" stroke="#222" stroke-width="0.4"/>
<path d="M593.9 457.8l-1 -0.6M593.9 457.8l-1 0.6" stroke="#333" stroke-width="0.35" fill="none"/>
<text x="580.2" y="459" font-size="3.7" font-style="italic"  fill="#000" stroke="#000" stroke-width="0.12" textLength="9.7" lengthAdjust="spacingAndGlyphs">ESPN</text>
<line x1="585.9" y1="461.2" x2="590" y2="461.2" stroke="#4040b0" stroke-width="0.6"/>
<rect x="585.45" y="460.05" width="0.9" height="2.3" fill="#4040b0"/>
<rect x="586.5" y="460.05" width="3.5" height="2.3" fill="#4040b0"/>
<line x1="615.9" y1="457.8" x2="619.4" y2="457.8" stroke="#222" stroke-width="0.4"/>
<path d="M619.4 457.8l-1 -0.6M619.4 457.8l-1 0.6" stroke="#333" stroke-width="0.35" fill="none"/>
<text x="604.3" y="459" font-size="3.7" font-style="italic"  fill="#000" stroke="#000" stroke-width="0.12" textLength="11.1" lengthAdjust="spacingAndGlyphs">PHF13</text>
<rect x="611.65" y="460.05" width="0.9" height="2.3" fill="#4040b0"/>
<line x1="545.2" y1="467.8" x2="548.9" y2="467.8" stroke="#222" stroke-width="0.4"/>
<path d="M545.2 467.8l1 -0.6M545.2 467.8l1 0.6" stroke="#333" stroke-width="0.35" fill="none"/>
<text x="549.2" y="469" font-size="3.7" font-style="italic"  fill="#000" stroke="#000" stroke-width="0.12" textLength="11.7" lengthAdjust="spacingAndGlyphs">RPL22</text>
<line x1="552.8" y1="471.2" x2="554" y2="471.2" stroke="#4040b0" stroke-width="0.6"/>
<rect x="552.35" y="470.05" width="0.9" height="2.3" fill="#4040b0"/>
<rect x="553.15" y="470.05" width="0.9" height="2.3" fill="#4040b0"/>
<line x1="579.5" y1="467.8" x2="583.2" y2="467.8" stroke="#222" stroke-width="0.4"/>
<path d="M579.5 467.8l1 -0.6M579.5 467.8l1 0.6" stroke="#333" stroke-width="0.35" fill="none"/>
<text x="583.5" y="469" font-size="3.7" font-style="italic"  fill="#000" stroke="#000" stroke-width="0.12" textLength="17.7" lengthAdjust="spacingAndGlyphs">TNFRSF25</text>
<rect x="589.55" y="470.05" width="0.9" height="2.3" fill="#4040b0"/>
<line x1="559.7" y1="477.9" x2="563.2" y2="477.9" stroke="#222" stroke-width="0.4"/>
<path d="M563.2 477.9l-1 -0.6M563.2 477.9l-1 0.6" stroke="#333" stroke-width="0.35" fill="none"/>
<text x="546" y="479.1" font-size="3.7" font-style="italic"  fill="#000" stroke="#000" stroke-width="0.12" textLength="13.2" lengthAdjust="spacingAndGlyphs">RNF207</text>
<line x1="554.2" y1="481.3" x2="556" y2="481.3" stroke="#4040b0" stroke-width="0.6"/>
<rect x="553.75" y="480.15" width="0.9" height="2.3" fill="#4040b0"/>
<line x1="584" y1="477.9" x2="587.7" y2="477.9" stroke="#222" stroke-width="0.4"/>
<path d="M584 477.9l1 -0.6M584 477.9l1 0.6" stroke="#333" stroke-width="0.35" fill="none"/>
<text x="588" y="479.1" font-size="3.7" font-style="italic"  fill="#000" stroke="#000" stroke-width="0.12" textLength="17.3" lengthAdjust="spacingAndGlyphs">PLEKHG5</text>
<line x1="590" y1="481.3" x2="598.2" y2="481.3" stroke="#4040b0" stroke-width="0.6"/>
<rect x="589.55" y="480.15" width="0.9" height="2.3" fill="#4040b0"/>
<rect x="590.55" y="480.15" width="0.9" height="2.3" fill="#4040b0"/>
<rect x="591.55" y="480.15" width="0.9" height="2.3" fill="#4040b0"/>
<text x="199.3" y="493.6" font-size="6"  fill="#222" text-anchor="middle">Position Chromosome 5 (MB)</text>
<text x="521.4" y="494" font-size="6"  fill="#222" text-anchor="middle">Position Chromosome 1 (MB)</text>
</svg>
</body></html>
